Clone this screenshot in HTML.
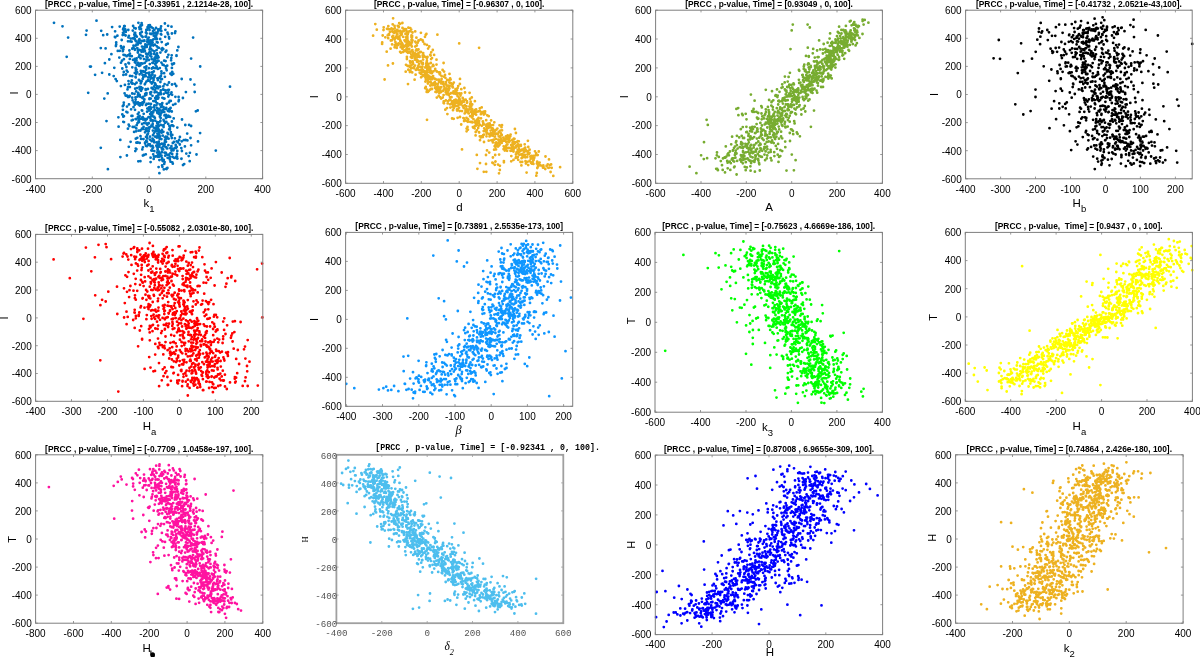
<!DOCTYPE html><html><head><meta charset="utf-8"><style>html,body{margin:0;padding:0;background:#fff;overflow:hidden}svg{display:block;will-change:transform}text{white-space:pre}</style></head><body>
<svg width="1200" height="657" viewBox="0 0 1200 657">
<rect width="1200" height="657" fill="#fff"/>
<path d="M156.5 96.2h0M142.6 37h0M153.1 139.5h0M124.1 31.5h0M165 115.4h0M155.3 100.7h0M140.6 50.4h0M142.2 110.7h0M151.2 92.2h0M162 149.6h0M171.7 55.3h0M159.5 86.6h0M143.1 119.5h0M129.8 55.7h0M148.5 123.1h0M138 102.4h0M165.2 155.7h0M157.2 108.1h0M166.8 137h0M158.8 125.9h0M144 59.1h0M160.4 120.9h0M137.6 96.6h0M141.9 24.8h0M157.6 42.5h0M151.8 68.5h0M128.5 81.1h0M138.7 130.7h0M137.7 142.5h0M171.5 26.7h0M127.9 96.3h0M159.1 144.1h0M174.9 83.9h0M163.6 65h0M167.4 84.9h0M137.8 44.5h0M174.3 157.9h0M194.7 92h0M150.8 98.6h0M169.8 159.4h0M142.5 63.6h0M145.6 46.4h0M153.1 81.9h0M172.6 125.5h0M132.3 48.8h0M129.7 96h0M150.2 92.6h0M150 55.6h0M179.1 140h0M156.8 46.3h0M127.6 71.8h0M155.6 58.5h0M169.9 127.9h0M151.1 54h0M147.2 134.8h0M172.5 148.8h0M139.4 39.2h0M117.8 50.9h0M166 44.8h0M132.6 100.3h0M143.6 126.9h0M159.4 173.2h0M142.5 74.9h0M143.3 77.2h0M123.7 47h0M159.5 122.1h0M155.7 131h0M148.1 80.7h0M162.4 48.2h0M161.3 34.6h0M181.3 148.1h0M178.6 101.3h0M152.3 44h0M129 104.4h0M150.7 78.5h0M163.8 169.4h0M148.5 73h0M134.7 32.8h0M132.4 48.6h0M157 39.1h0M162 79.1h0M136.7 125.2h0M155.4 64.5h0M153.9 133.3h0M139.2 42.7h0M171.4 146.2h0M145 47.4h0M150 136.7h0M152.2 114.4h0M123.3 121.8h0M138.1 62.9h0M152.5 138.7h0M131.1 109.3h0M166 168.8h0M156.9 126.5h0M142.5 102.4h0M162 152.2h0M157.4 78.4h0M166.8 103.8h0M135.4 62.6h0M152.4 74.6h0M166.3 109h0M145 46.7h0M135.7 77.4h0M133.5 45.6h0M146.8 119h0M131.8 80.4h0M187.4 140.4h0M134.2 27.8h0M158.1 126h0M156.6 129h0M172.6 156.9h0M148.2 128.4h0M126.6 56.2h0M171.7 74.9h0M159.3 146.7h0M152.7 112h0M154 107.1h0M166.1 68.4h0M162.3 103.1h0M164.6 84.2h0M158 47.5h0M148.9 60h0M159.1 114h0M138.9 94.7h0M123.3 116.7h0M156.5 142.4h0M143.5 139.1h0M189.1 124.9h0M173.7 118.4h0M168 110.9h0M138.9 79.9h0M175.4 31.4h0M119.8 50.8h0M127.9 55.3h0M134.9 62.3h0M115.6 79.1h0M146.1 36.5h0M149.8 64.1h0M178.6 96.9h0M177.3 150.9h0M167.5 93.2h0M161.6 132.7h0M159 145.1h0M140.3 96.8h0M122.8 51.2h0M139.1 122h0M140.5 55.2h0M160.6 92.5h0M136.4 142.7h0M122.7 35.1h0M154.3 107.6h0M136.3 119.2h0M150.4 46.3h0M154.1 142.3h0M135.2 60.9h0M136.1 131.3h0M149.7 110.1h0M135.8 138.7h0M135.7 45.6h0M141.8 110.3h0M146.6 33.5h0M149.3 74.3h0M90 66.6h0M146.1 89.5h0M157.2 122.2h0M166.2 107.9h0M155.7 32.6h0M156.3 127.6h0M125.6 30.3h0M134.8 59h0M164.3 112.1h0M136.6 82.7h0M166 118h0M169.7 101h0M135.5 101.9h0M169.8 158.4h0M149.4 99.1h0M175 33h0M167.5 132.9h0M139.1 64.3h0M156.9 98.8h0M146.3 140.7h0M141.6 36h0M169.8 159.5h0M153.2 112.4h0M147.8 27.9h0M138.5 121.5h0M116.2 42.4h0M141.6 81.2h0M133 59.8h0M136.5 69.7h0M182 119.5h0M164.2 60.7h0M161.5 155.6h0M129.3 96.8h0M132.4 115.9h0M156 97.7h0M176.7 146.9h0M149.1 127.3h0M149.1 74.7h0M154.9 118.1h0M162.1 50.2h0M88.2 92.8h0M147.4 44.7h0M153.1 67.5h0M161.4 71.5h0M157.2 122.9h0M129.8 58.9h0M146.6 130.9h0M142.9 155.5h0M146.3 29.9h0M154.8 89.7h0M154 53.8h0M132.6 83.5h0M130 75.9h0M184.2 164.1h0M163.5 144.8h0M173.3 73.8h0M153.6 80h0M139.7 142.9h0M156.3 35.2h0M176.7 141.4h0M144.4 99.4h0M135.8 148.6h0M156.8 62.2h0M150.9 126.6h0M165.6 146.8h0M126.9 155.5h0M166 141.8h0M120.3 139.9h0M136.2 91.4h0M163.9 98.5h0M115.1 31.3h0M115.3 37.3h0M139.4 55h0M171.9 67.9h0M169.2 38.6h0M134.9 39.2h0M177.4 158.6h0M170.4 148.2h0M154.8 110h0M167.3 148.4h0M136.2 74.1h0M163.6 125.1h0M169.1 129.3h0M191.1 126h0M175 148h0M109.3 59.5h0M128.5 62.9h0M152 72.3h0M164.3 163.8h0M123.8 102.6h0M144.9 74.9h0M157.7 149.2h0M150.2 106.8h0M162 158h0M176.4 156.7h0M173.4 126.1h0M160.9 110.6h0M134.8 104.8h0M130.8 38.6h0M141.7 118.7h0M162.7 161h0M139.1 49.9h0M159.1 153.7h0M135.3 151.1h0M158.1 31.5h0M159.8 68.1h0M165.1 122.8h0M158.7 142.3h0M157.6 113.2h0M137.8 114.1h0M128.4 37.4h0M133.5 107.2h0M171.5 150.7h0M140.5 26.4h0M109.3 74.5h0M159.7 138.9h0M165.1 140.8h0M152.5 95.8h0M154.3 151.1h0M148 80.1h0M140.7 83.4h0M159.3 156.7h0M144.3 50h0M157.8 55.8h0M171.9 33.5h0M170.4 73.7h0M156.2 62.9h0M153.5 140.5h0M159.4 160.1h0M160.3 154.2h0M161.3 31h0M104.9 63.2h0M148.4 40.2h0M122.3 114.4h0M146.1 53.7h0M181.9 151h0M146.9 141.7h0M118.4 117.3h0M168.4 92.3h0M171.5 92.4h0M156.5 92h0M169.2 111.4h0M138 94.7h0M161.1 26.3h0M175.4 96.8h0M154.9 44.7h0M167.6 157.8h0M169.7 109.4h0M165.5 90.5h0M135.8 70.1h0M171.7 125.3h0M161.9 105h0M147.1 41.7h0M166.7 70.3h0M160.9 76h0M173 148.8h0M157.1 152.5h0M168 134.2h0M145.9 145.8h0M140.8 25.2h0M140.4 161.2h0M126.4 111.8h0M169.9 156.6h0M145.8 67.6h0M164.6 162.1h0M172.2 153.9h0M168.8 154.9h0M138.7 121.2h0M148.2 77.5h0M144.3 46.8h0M144.1 123.1h0M152.9 130.6h0M138.8 40.4h0M136.6 58.3h0M156.9 146.3h0M149.6 52.2h0M177.3 50.4h0M146 136.9h0M154.9 75.6h0M137.3 137.8h0M181.7 141.3h0M145.1 95.4h0M153 89.2h0M168.8 95h0M163.1 89.5h0M134.1 131.9h0M154.4 51.5h0M149.9 127.1h0M153 31.1h0M153.3 101.1h0M163.6 127.1h0M164.4 143.3h0M149 107.5h0M168.1 116h0M123.8 71.9h0M142 89.1h0M150.6 157.7h0M142.3 40.9h0M158 155.1h0M143.7 51.6h0M138.3 50.3h0M136.8 36.7h0M122.3 68.5h0M161.7 147.9h0M155.2 98h0M142.3 104.8h0M137.2 72.4h0M142 117.7h0M172.3 72.2h0M159.2 134.8h0M156.7 110.6h0M145.2 94h0M143.1 96.9h0M148.4 144.2h0M167.5 32.7h0M121 62.7h0M150.1 48.2h0M150.7 108.9h0M138.4 22.8h0M121.5 48h0M101.2 30.8h0M171.8 138h0M139.7 95h0M163.8 108.9h0M169 82.5h0M163.4 131.8h0M184.9 146.4h0M129.9 87.1h0M140.8 87.1h0M160.9 107.2h0M123.4 28.3h0M175.4 103.9h0M143.2 118.1h0M144.9 51h0M136.1 103.6h0M160.4 131.9h0M145 132.3h0M139.2 27.4h0M125.8 31.9h0M164.9 76.8h0M129.4 126.1h0M153.8 71.4h0M158.7 132.1h0M157.4 113h0M131.9 83.6h0M166 115.1h0M165 108.8h0M146 32.6h0M166.8 148.4h0M144.8 84.3h0M172.3 162.3h0M152 150.7h0M166.2 139h0M150 33.6h0M125.5 64.5h0M103.2 35.2h0M162 159.6h0M144.5 67.4h0M168.9 102.4h0M150.5 94h0M139.6 74.3h0M131.5 115.9h0M149.5 98.4h0M146.1 130h0M135 109.8h0M145.3 75.5h0M175.7 145h0M157.4 133.7h0M135.6 99.6h0M155.8 102h0M129.5 54.3h0M123.4 74.9h0M154.8 85.4h0M136.5 44.3h0M172.3 134.9h0M166.2 147.2h0M139.3 105.2h0M164.6 146.3h0M167.8 90.1h0M145.6 89.1h0M145.1 142.5h0M136.8 64.9h0M135 84.2h0M133.8 102.6h0M123.1 29.4h0M151.5 44.5h0M169.9 129.5h0M156.3 145.7h0M156.8 42.1h0M172.8 143h0M172.3 64.5h0M148.5 117.2h0M146.3 119.5h0M154 86.7h0M146.8 46.9h0M167.4 167.9h0M178 142.4h0M140.4 65.3h0M154.3 117h0M137.5 123.2h0M140.4 26.4h0M142.1 124h0M135.6 67.9h0M140.2 33.2h0M140 63.6h0M152.4 62.8h0M158.6 57.3h0M123.5 54.8h0M187.2 133.6h0M113.7 76.1h0M149.5 49.6h0M157 53.3h0M134.1 38h0M139.6 29.1h0M150.6 146.1h0M164 109h0M104.3 98.6h0M128.9 35.8h0M122.9 109.8h0M157.3 130.6h0M181.5 158.7h0M169.8 126.6h0M156.4 54.7h0M166.6 169.1h0M146.8 137.1h0M168.7 116.7h0M168.9 89.8h0M138.8 112.6h0M124 34.5h0M149.9 139.6h0M164.7 90.1h0M165.6 61.1h0M169 37.2h0M133.5 47.6h0M149.7 144.4h0M167.4 57.2h0M150.4 76.8h0M162.1 112.2h0M145.8 154.3h0M153.9 140.4h0M146.4 61.1h0M158.9 151.6h0M145.5 120.6h0M128.7 124.7h0M171.3 58.1h0M153.3 116.5h0M143.9 155h0M166.8 117.2h0M152.7 123.9h0M157.5 58.3h0M148.9 123.3h0M135.5 76.9h0M138.3 92.9h0M150.5 44.6h0M158.6 60.9h0M158.3 111.1h0M159.5 94.1h0M168.3 96.6h0M148.8 37.6h0M170.9 134.5h0M185.9 92.1h0M151.8 83.6h0M150.3 108.4h0M141 82.8h0M132.2 93.5h0M128 97h0M167.2 65.7h0M151.3 112.5h0M139.4 80.5h0M171.1 60.3h0M173.9 142h0M152.8 120.4h0M159.5 29.8h0M140.5 25.5h0M149.3 27.4h0M189.9 152.8h0M161.7 42.1h0M140.3 34.3h0M155.8 39.1h0M165.6 66.3h0M146.1 73.1h0M141.3 63.5h0M176.3 86h0M142.8 56.2h0M132.2 97.7h0M161.4 139.1h0M196.5 154.5h0M155 36.8h0M162.6 64.7h0M130.6 141.8h0M137.8 42.7h0M170.1 116.9h0M142.7 78.9h0M171.8 111.5h0M165.8 136.7h0M162.5 131.8h0M188.7 156.1h0M158.9 152.6h0M157.3 147.5h0M167.2 154.6h0M150.2 42.6h0M127 95.7h0M179.8 144.5h0M154.6 92.3h0M147.9 89h0M160.9 94.2h0M153 135.2h0M170.6 108h0M147.5 39.5h0M163.5 107.2h0M137 88.1h0M141 29h0M164.8 137.3h0M119.3 57.6h0M141.1 90.8h0M147.6 57.3h0M169.1 109.1h0M160.4 82h0M166 115h0M152.4 50.3h0M160.2 39h0M172 63.8h0M147.6 27.2h0M155.5 68h0M156.6 50.1h0M116.2 44.6h0M153.7 127.6h0M151.4 27.1h0M164 121h0M146.5 93.2h0M170.8 132.1h0M137.9 51.1h0M150.5 118.6h0M174 63.5h0M141.1 138.9h0M151.9 120.5h0M150.7 116.6h0M155.3 131.4h0M158 156.7h0M157.9 57.7h0M128.3 30h0M136.3 128.4h0M166.4 138.6h0M135.6 119.1h0M170.5 153.1h0M148.8 68.2h0M142.7 117.2h0M139.5 87h0M144.3 40.5h0M153.3 45.5h0M136.1 41.3h0M140.1 40.6h0M126.7 70.6h0M145.7 89.9h0M138.3 161.3h0M163.2 149.4h0M142.4 88.1h0M178.4 47h0M170.8 100.9h0M162.1 165.5h0M171.1 135.7h0M151.7 59.1h0M145.1 143.5h0M128.8 146.8h0M168.2 123.9h0M153.6 78.2h0M115.9 46h0M167.4 137.6h0M161.3 79.2h0M127.5 89.4h0M163.1 110h0M124.6 93.3h0M142.8 49.1h0M158.8 137.6h0M160.8 90.3h0M165 140.2h0M158.3 95.2h0M155.4 57.5h0M133.1 25.9h0M172.1 94.8h0M148.9 127.5h0M159.4 77.9h0M151.4 107.6h0M157.6 144.2h0M158.6 93.5h0M161.6 49.2h0M165.2 36.8h0M160.8 34.1h0M143.1 103.3h0M161.9 130h0M163.4 146.3h0M139.8 105.6h0M129.4 50.5h0M156.5 125.8h0M137.9 50h0M102.1 72.8h0M156.8 137.6h0M150.7 82.2h0M148.1 53.9h0M125.6 35.5h0M151.6 141.2h0M166.4 44.3h0M135.3 61.1h0M149.2 128.1h0M185.3 125h0M148.5 25.4h0M144 102.1h0M124 122.1h0M151.4 56.7h0M142.9 147.3h0M150.9 104h0M139.1 119.7h0M125.6 95.5h0M172 84.5h0M145.7 76.2h0M164.5 98.6h0M155.8 38.1h0M120.9 46.2h0M145.5 36.7h0M146 105.1h0M161.4 62.6h0M157.4 103.4h0M146.6 123.7h0M172.1 71.9h0M151.8 33.6h0M153.7 61.2h0M142.9 129h0M162.7 135.6h0M123.3 49.4h0M154.1 68.1h0M130.2 41.4h0M160 136.5h0M140.6 43.2h0M154.4 105.5h0M158.2 127h0M150.6 120.6h0M141.9 25.2h0M119.7 26.6h0M136.4 149.2h0M169.3 116.4h0M155.3 61h0M142.3 149.4h0M189.7 161.2h0M154 156.4h0M152.4 40.6h0M157.2 111.7h0M156.1 130.3h0M155.6 56.4h0M131.7 120.4h0M146.4 66.3h0M147.3 108.6h0M152.7 121.3h0M147.1 111.7h0M153.1 147.5h0M153.7 158.9h0M159 47.8h0M131.6 41.7h0M156.3 105.3h0M152.3 77.8h0M142.6 51.1h0M157.2 112.1h0M154.7 57.8h0M137.3 48.1h0M168.6 154.7h0M185.6 140h0M129.9 53.7h0M136.5 60.4h0M147.3 138.3h0M176.5 55.3h0M124.9 55.2h0M152.6 125.8h0M164.5 115.4h0M148.7 144.5h0M149.1 110.5h0M152.5 148.4h0M128 87.2h0M144.7 71.7h0M154.4 77h0M157.5 149.8h0M149.5 80.8h0M157 61.4h0M174.9 138.3h0M128.7 84.1h0M166.4 50.7h0M145.4 129.6h0M114.9 37h0M117.4 35.7h0M156.6 66.7h0M149.2 40.4h0M118.6 126.7h0M200.2 66.5h0M149.5 30h0M162.7 160h0M137.8 52.6h0M160.8 131.1h0M140.6 58.4h0M164.1 73.2h0M151 53.8h0M160 104.5h0M146.6 104h0M121.7 40h0M168.4 145.2h0M147.3 145.7h0M141.8 32h0M144.3 40.9h0M149.9 144.4h0M157.4 33.4h0M132.7 126.9h0M167.8 43.7h0M135.4 40.6h0M176.9 158.4h0M181.4 158.8h0M123.9 116.2h0M132.9 38.4h0M160.4 52.6h0M153.7 110.6h0M146.4 45.7h0M127.9 128.7h0M127.4 112.4h0M165.4 137.7h0M164.9 23.5h0M134.9 49.8h0M138.5 104.6h0M158.7 133.1h0M149.9 25.2h0M159.1 112.6h0M148.7 131.2h0M122.8 106.2h0M168.4 54.8h0M138.9 56.8h0M198 141.4h0M112.1 27.1h0M152.6 72.5h0M157 156.1h0M128 41.3h0M158.2 29.5h0M165.6 51.8h0M155.8 156.5h0M157.3 86.5h0M131.1 82.3h0M134.3 34.7h0M146.3 94.7h0M156.8 146.4h0M153.7 35.7h0M124.2 26.2h0M163.8 93.8h0M177 156.6h0M142 46.6h0M129 63.4h0M107.2 34.5h0M162.4 166.8h0M140.6 103.4h0M155.3 128.7h0M146.9 146.2h0M146.6 59.5h0M150.2 113.9h0M163.8 159.9h0M164.7 144.3h0M150.4 52.2h0M161.5 73.6h0M146.6 137h0M157.8 68.9h0M163.7 146.1h0M140.8 71h0M132.3 76.2h0M183 165h0M151.6 88h0M139.2 65.9h0M147.4 54.4h0M146.5 56.7h0M135.9 35.4h0M126.4 67h0M145.9 32.6h0M148.7 103.7h0M160.1 155.8h0M191.1 145.3h0M132.8 119.9h0M150.6 162.1h0M164.8 142.2h0M160.1 86.7h0M159.9 116.7h0M162.6 125.4h0M114.3 67.8h0M152.1 40.6h0M150.9 40.4h0M160.9 113.7h0M123.9 59.2h0M152.6 42.6h0M176.1 148h0M179.9 137h0M150.9 75.8h0M134.4 126.9h0M157.8 135.6h0M160.4 115.5h0M170.5 161.7h0M178.9 100h0M158 156.8h0M140.5 130.5h0M147.6 134.4h0M160.7 118.1h0M153.2 154.3h0M135.5 97.4h0M134.8 72.9h0M168.5 115.9h0M148.4 42h0M139.5 40.5h0M163.5 119.8h0M172.8 163.7h0M131.8 56.2h0M167.7 133.4h0M159.1 109.2h0M116.8 81.1h0M125.1 29.1h0M155.3 120.7h0M158.1 98.6h0M143 71.2h0M132.3 67.3h0M158.7 131.5h0M120.9 86.1h0M155.6 84.5h0M144.7 62.9h0M160.5 144.3h0M152.5 145.8h0M156 28h0M111.4 54.2h0M132.6 48.2h0M153.4 39.3h0M132.8 30.6h0M197.7 110.5h0M153.4 62.9h0M136 72h0M165.8 92.6h0M146.1 69.6h0M160.7 124.9h0M135 36.1h0M142.4 98.1h0M168.6 138.7h0M165.9 152.9h0M136.3 72.3h0M141.9 128.6h0M154.1 33.3h0M183.8 140.1h0M140 118.9h0M154.3 29.9h0M107.7 93.4h0M123 32.8h0M157.2 56h0M186.3 153.6h0M157.8 134.2h0M159.5 113.1h0M149.5 43.1h0M166.4 121.9h0M134.5 93.8h0M158.2 88.3h0M146.1 123.3h0M141.6 51.8h0M164.7 152.7h0M155.2 136.7h0M134.7 49h0M144 71.8h0M135.2 88.7h0M173.1 104.8h0M173.5 150.3h0M139.5 103.5h0M168.1 25.8h0M190.5 79.5h0M155 83.5h0M135.7 28.5h0M149.5 43h0M152.7 28.2h0M165.4 29.8h0M145.2 83.6h0M143.7 113.8h0M181.7 79h0M171.9 121.5h0M151.1 49h0M151.4 150.4h0M158.5 97.6h0M163.3 49.1h0M162.4 97.8h0M160 76.8h0M161.8 143.7h0M169.4 126h0M135.2 33h0M141.3 72.7h0M145 119.2h0M139.7 89.3h0M176.5 55.9h0M122 60.7h0M149.3 43.7h0M137.9 117.1h0M140.5 136.2h0M149.3 72.7h0M124.9 84.9h0M146.4 81.6h0M190.5 138h0M151.5 125.5h0M154.1 60.1h0M139.6 116h0M154.4 58.9h0M120.4 157.1h0M146.8 29.9h0M156.3 137h0M182.9 98h0M141.6 23.1h0M149.2 128.8h0M146.2 128.5h0M124.7 26.2h0M156.3 37.7h0M171.2 94h0M159.3 152.4h0M157.9 80.2h0M147.3 124.8h0M157.9 124.5h0M151.1 34h0M126 74.5h0M127 106.6h0M177 154h0M123.6 105h0M145.3 44.5h0M147.2 124.4h0M138.2 117.8h0M148 80.5h0M158.7 129.5h0M156.3 88.2h0M105.6 48.4h0M177.3 127.6h0M144.2 100h0M163.3 86.4h0M149.4 107.6h0M148 133.6h0M158.8 141.6h0M194.4 84.6h0M168.1 34.3h0M158.6 167.1h0M147.8 38.6h0M160.6 28.3h0M54 22.8h0M62.5 26.3h0M68.1 37.6h0M66.7 56.8h0M86.6 30.6h0M86 34.8h0M90.9 66.6h0M95.1 74.8h0M96.5 20.7h0M100.8 48.1h0M230 86.7h0M215.8 150.6h0M200.1 133.1h0M195.9 111.3h0M193.1 37.6h0M191.1 58.6h0M107.9 169.2h0M100.8 147.8h0M106.5 121.1h0" stroke="#0072BD" stroke-width="2.8" stroke-linecap="round" fill="none"/>
<rect x="35.5" y="10.2" width="227.1" height="168.5" fill="none" stroke="#7f7f7f" stroke-width="1"/>
<path d="M35.5 178.7v-2.2M35.5 10.2v2.2M92.3 178.7v-2.2M92.3 10.2v2.2M149.1 178.7v-2.2M149.1 10.2v2.2M205.8 178.7v-2.2M205.8 10.2v2.2M262.6 178.7v-2.2M262.6 10.2v2.2M35.5 178.7h2.2M262.6 178.7h-2.2M35.5 150.6h2.2M262.6 150.6h-2.2M35.5 122.5h2.2M262.6 122.5h-2.2M35.5 94.4h2.2M262.6 94.4h-2.2M35.5 66.4h2.2M262.6 66.4h-2.2M35.5 38.3h2.2M262.6 38.3h-2.2M35.5 10.2h2.2M262.6 10.2h-2.2" stroke="#7f7f7f" stroke-width="0.8" fill="none"/>
<g style="font-family:'Liberation Sans', sans-serif;font-size:10px;fill:#000"><text x="35.5" y="192.5" text-anchor="middle">-400</text><text x="92.3" y="192.5" text-anchor="middle">-200</text><text x="149.1" y="192.5" text-anchor="middle">0</text><text x="205.8" y="192.5" text-anchor="middle">200</text><text x="262.6" y="192.5" text-anchor="middle">400</text><text x="31.6" y="182.5" text-anchor="end">-600</text><text x="31.6" y="154.4" text-anchor="end">-400</text><text x="31.6" y="126.3" text-anchor="end">-200</text><text x="31.6" y="98.2" text-anchor="end">0</text><text x="31.6" y="70.2" text-anchor="end">200</text><text x="31.6" y="42.1" text-anchor="end">400</text><text x="31.6" y="14" text-anchor="end">600</text></g>
<text x="149.1" y="6.6" text-anchor="middle" style="font-family:'Liberation Sans', sans-serif;font-weight:bold;font-size:8.4px">[PRCC , p-value, Time] = [-0.33951 , 2.1214e-28, 100].</text>
<path d="M501.5 127.2h0M464.1 121h0M419.4 55.8h0M507.1 150.8h0M446.8 85.7h0M436.5 64.6h0M503.5 140.8h0M518.9 151h0M497.4 128.6h0M430 78.7h0M447.3 92.2h0M509.9 140.7h0M473.6 114h0M445 75h0M476.1 109.4h0M461.3 89.2h0M400.6 32.8h0M432.7 66.2h0M459.7 111h0M517.4 145.1h0M487.2 115.3h0M469.6 92.8h0M389.9 32.1h0M418.4 61.2h0M487.1 124.3h0M395.8 36.6h0M462.5 101.5h0M430.2 69h0M518 152.8h0M522.5 155.9h0M503.7 146.3h0M411.1 45h0M445.4 77.8h0M420.2 52.2h0M460 78.9h0M450.4 107.6h0M440.3 90.5h0M449.4 88.4h0M398 44.2h0M461 101.8h0M423 41.6h0M444.8 88.3h0M417.4 60.2h0M457.5 93.4h0M426.3 65.4h0M481 118.3h0M459.4 98.5h0M476.8 130.3h0M504.5 147.7h0M532.6 162.3h0M427.4 69.3h0M466.8 112.1h0M412 37.2h0M419.6 56.9h0M475.2 110h0M398.8 26.5h0M431.9 83.4h0M420.8 52h0M472.4 111.5h0M482.9 137.1h0M498.2 139.6h0M527.9 140.8h0M408 84.1h0M520.8 145.9h0M538.2 162.8h0M411.6 50.7h0M521.8 154.3h0M454.4 103.2h0M464.4 88h0M431 79.4h0M450.1 97.4h0M412.1 40h0M426.7 67.1h0M448.7 95.1h0M432.2 79.2h0M438.7 95.8h0M412.1 35.9h0M496.3 142.4h0M405.7 71.7h0M456 91.5h0M548.3 167.8h0M483.5 124.3h0M393 35.8h0M427.5 56.9h0M526 162.2h0M466.6 128.6h0M533.5 159.9h0M422.7 55.3h0M521.9 149.6h0M545.5 156.5h0M406.1 30h0M456.3 102.9h0M484.2 128.5h0M549.2 167.6h0M468.6 113.4h0M473.5 119.2h0M428.9 90.8h0M538 166.5h0M496 143.8h0M498.8 136.4h0M461.1 104.4h0M486.8 124.4h0M453.8 82.6h0M485.4 129.4h0M411.2 29.6h0M394.7 39.7h0M533.6 160h0M500.9 133.4h0M458.2 86.1h0M403 52.1h0M524.5 156h0M513.9 147.3h0M459.1 104.5h0M425.9 79.5h0M387.7 35.3h0M393 38.4h0M416.4 57.4h0M517.5 157.6h0M415.2 31.4h0M452.9 87.4h0M492.9 157.5h0M495.8 138.9h0M449.4 82.5h0M481.3 112.1h0M466.9 101.1h0M396.7 47.9h0M410 52.7h0M455.5 89.2h0M415 53.7h0M459 107.7h0M411.1 43h0M448.9 85.7h0M398.7 27.2h0M542.8 166.6h0M415.3 41.7h0M433.6 84.7h0M422.8 75.5h0M518.8 141.3h0M432 89h0M487.9 126.7h0M518.2 159.8h0M546.7 165.6h0M395.4 42.1h0M435.2 69h0M499.6 136.7h0M490.1 133.8h0M448.2 101.1h0M413.9 55.2h0M515.9 154.3h0M393.1 38.2h0M411.5 35.4h0M492.4 129.4h0M443.7 76.6h0M460 117h0M409.9 72.1h0M515.7 157.9h0M459.1 97.9h0M453.5 91.5h0M408.4 69.7h0M435.3 70.2h0M396 31.8h0M474.6 128.3h0M513.2 148.1h0M470.1 109.3h0M438.1 86.3h0M397.1 30h0M413.1 63.8h0M409.1 66h0M397.3 33.3h0M475.7 132h0M503.5 137.6h0M457 109.4h0M493.1 125.1h0M415.6 74.7h0M412.5 32.5h0M506 148.1h0M437 91.1h0M439 81.7h0M463.6 100.1h0M404.5 40.3h0M415 59.7h0M422.5 40.2h0M518.9 148.5h0M491.3 140.3h0M521.6 154.4h0M430.6 55.5h0M402.5 31.6h0M553.3 175.9h0M428.1 48.6h0M411.8 57.9h0M409.4 42.5h0M486.7 133.8h0M432.2 76.8h0M508.7 141.6h0M516.2 156.8h0M421.9 63.5h0M545.3 169h0M436.8 71.5h0M483.7 131.1h0M439.9 97.1h0M407.4 38.8h0M483.9 134.7h0M458.2 101.4h0M478.5 117.9h0M510.5 150.8h0M454.2 100.3h0M496.3 142.7h0M386.7 51.7h0M430 89.7h0M461.2 124.5h0M400.8 33.5h0M463.4 118.1h0M421.8 67.6h0M426.3 71.3h0M506.2 136.7h0M527.5 161.8h0M400.7 47.2h0M407.4 37.3h0M517.7 141.2h0M511.7 147.3h0M461.6 103.3h0M434.8 82.2h0M391.5 28.4h0M383.7 27.3h0M393.1 18.3h0M490.2 133.8h0M429.7 76.6h0M474.9 101.2h0M491 134.8h0M530.4 156.7h0M511.3 148.5h0M486.2 120.2h0M521.2 154.3h0M528.3 147h0M523.7 155.7h0M447 86h0M464.3 99.8h0M494.5 136.6h0M457 94.4h0M458.4 102.7h0M428.1 80.4h0M394 32.3h0M479.1 120.8h0M450.1 78.3h0M486.4 132.5h0M407.3 36.5h0M425.4 77.6h0M511.2 145.1h0M479.1 132.5h0M505.3 147.2h0M517.9 150.7h0M478.2 128.1h0M406.2 50.9h0M467.1 102.5h0M492.8 135.7h0M452.6 104.1h0M473.1 127.6h0M420.9 70.3h0M547.8 164.5h0M479.9 124.8h0M486.8 130.4h0M516.3 145.8h0M428.4 63.9h0M515 143.1h0M478.7 125.8h0M521.6 158.2h0M406 64.8h0M467.7 118.8h0M418.4 65.8h0M513.4 143.7h0M543.5 167h0M471.8 121.9h0M426.9 60.8h0M382.1 43.9h0M463.9 118.3h0M396.9 44.7h0M536.8 172.9h0M440.2 88.6h0M474.8 126.2h0M457.7 109.3h0M500.4 130.6h0M391.7 40.4h0M466.6 120.9h0M394.6 25.9h0M523.9 152h0M471.8 111.8h0M458 105.3h0M425.6 73.5h0M475.5 122.8h0M463.8 101.8h0M525.5 161.2h0M452.1 118.5h0M420.9 61.5h0M517.8 157h0M451.5 97.2h0M516.9 142.1h0M513.5 147.5h0M535 151.3h0M394.6 47.3h0M425.1 67.4h0M471.1 112.1h0M469.4 106.4h0M412.6 61.5h0M433.1 76.1h0M406.8 41.9h0M408.7 45.6h0M443.7 101.5h0M410.4 70.7h0M448.7 89.6h0M478.2 119.8h0M456.1 100.4h0M426.3 63.4h0M449.7 85.8h0M425.4 81.6h0M455.8 93.8h0M416.4 37.7h0M426.9 58.5h0M531.3 155.8h0M417.6 50.3h0M394.9 45.2h0M403.8 45.8h0M491 125.4h0M483.8 114.5h0M497.2 134h0M533.4 163.9h0M448.8 95.2h0M418.5 49.5h0M431.2 52.3h0M441.6 78.9h0M407.9 51.7h0M451.5 83.8h0M496.6 133.6h0M432.8 50h0M476.1 114.7h0M407.7 42.6h0M481.8 125.8h0M496.7 143.9h0M409.9 61.1h0M529.6 161h0M401.4 46.1h0M478.9 121.5h0M412.4 50.1h0M527.3 151.1h0M452.8 84.1h0M429.7 72.3h0M519 152.1h0M425.2 88.2h0M512.7 145h0M491.6 128.2h0M466.5 117.8h0M434.2 83.1h0M512.3 150.7h0M507.8 137.4h0M416.5 49.4h0M433.5 65.8h0M447.7 103.4h0M515.9 133h0M423.6 75.5h0M452.7 106.5h0M477 119.6h0M401.8 42.9h0M510.6 134.7h0M409.2 52h0M430.7 82.2h0M446 82.1h0M440.1 72.9h0M416.8 68.5h0M397.1 33.9h0M399.5 36.3h0M490.8 133.2h0M510.4 135.2h0M417.7 42.7h0M506 136.3h0M509 137h0M413.1 52.2h0M408.2 32.8h0M407.8 46h0M435.1 88h0M491.1 120.4h0M388.2 38.2h0M417 57.3h0M428.1 77.9h0M520.5 162h0M500.4 141.4h0M530.8 158.6h0M403.4 30.9h0M493.9 139.7h0M508.9 140.3h0M448.7 88.1h0M518.3 146.4h0M428.1 91.8h0M395.2 30.8h0M407 51.9h0M505.4 139h0M393.6 32.4h0M462 111.1h0M435.5 91.9h0M472.9 127.1h0M390.1 29.4h0M488.1 123.8h0M410.3 62.7h0M384.6 79.5h0M422.8 63h0M516.5 152.3h0M459.2 99.1h0M403.8 31h0M439.5 88.5h0M489.2 134.1h0M531.9 163.7h0M478.2 123.1h0M412.8 62.6h0M543 167.7h0M550.1 164.9h0M425.4 76.2h0M398.1 38.7h0M452.8 103.7h0M441.3 81.1h0M493.1 129.7h0M507.7 135.4h0M457.6 96.2h0M493.4 133.6h0M461.8 102.5h0M499.1 154.6h0M402.5 27.9h0M445.8 90.1h0M549 159.4h0M520.9 145h0M401.7 47.6h0M472.3 122.4h0M495.7 130.2h0M521.4 165.4h0M421 73.9h0M441.1 83.4h0M411.9 42.6h0M506.4 142.2h0M430.8 63h0M417 61.7h0M408.2 44.6h0M419 63.9h0M447.4 114.1h0M533.1 160.6h0M420.7 70.2h0M539.3 165h0M511.2 161.3h0M455.7 99.6h0M508.9 148h0M451.9 102.5h0M406.8 42.9h0M518.3 153.5h0M423.7 55.4h0M408.4 27.7h0M527.9 152.1h0M475.3 110.8h0M429.4 70.5h0M426.9 71h0M479 132.2h0M411.3 54.5h0M480.9 114.2h0M509.1 140.5h0M434.7 85.3h0M435.1 79h0M429.3 46.5h0M421.8 67.6h0M536.1 153.2h0M436.1 89.1h0M490.1 126.5h0M428.7 66.5h0M540.6 165.4h0M427.2 68.8h0M423.1 59.6h0M526.6 172.6h0M543.3 165.5h0M425 36.8h0M409.6 42.3h0M514.7 142.1h0M392.3 36.8h0M456.9 102.3h0M450.8 93.1h0M454.2 101.5h0M489.7 123.4h0M415.9 50.6h0M425.9 75h0M406.3 30.7h0M446.2 84.4h0M397.4 34.3h0M454 93.5h0M461.3 102.5h0M446 88.6h0M525.9 163.5h0M433.1 65h0M523.5 150.6h0M401.4 34.8h0M537.2 161.7h0M427.5 68.8h0M414.7 58.2h0M431 88.8h0M531 158.6h0M407.9 52.8h0M476.6 125h0M464.8 120.1h0M429.6 76.6h0M408.5 31.6h0M520.4 151h0M463.4 107.6h0M427 74.3h0M485.5 131.3h0M373.1 35.7h0M457.6 88.1h0M522.5 157.6h0M498 146.5h0M527.5 154.5h0M459.6 102.1h0M400.8 41.4h0M504.8 150.5h0M492.9 142.4h0M510.3 136.3h0M445.7 92.3h0M454.7 105.5h0M488.7 116.2h0M513.5 150.9h0M398.5 43.4h0M460.1 100h0M406.7 38.1h0M551.1 164.4h0M443.6 103h0M478.8 120.9h0M392.1 44.4h0M430.7 70.8h0M439.3 91.2h0M501.7 142.9h0M417.6 68.7h0M420.7 39.5h0M432 58.1h0M398.5 31h0M438.8 87.3h0M487.4 133.3h0M497.8 134.1h0M398.4 44.9h0M479.1 47.8h0M420.5 67h0M430.2 54.8h0M459.9 103.4h0M400.1 51.8h0M407.6 65.9h0M486.1 131.7h0M432.4 85.2h0M424.6 71.3h0M495.6 142.9h0M420.9 32.8h0M434.1 54.9h0M494.7 146.2h0M493 130.8h0M551.7 167.8h0M394.7 28.2h0M494.5 136.6h0M423.2 53.1h0M443.3 84.2h0M528.2 165.1h0M509.5 138h0M474.3 127.5h0M442.6 70h0M457.1 110.6h0M484 142h0M401.8 34.1h0M459.2 93.4h0M532.3 157h0M400.3 30.8h0M413.9 66.9h0M470.5 106.8h0M495.4 147h0M430.3 67.7h0M505.4 149.7h0M392.8 29.4h0M411.2 68.1h0M422.8 76.1h0M431.1 59.1h0M397 45.5h0M462.9 106.2h0M404.3 51.2h0M523.7 148.9h0M409.4 66.6h0M413.3 53.5h0M512.6 142.4h0M538.8 151.5h0M387 28.8h0M395.2 38.2h0M527.2 157.1h0M450.8 83.1h0M486.5 136.3h0M492.9 128.7h0M394.3 32.9h0M413.7 68.2h0M388 65.4h0M487.2 128.7h0M421 52.1h0M431.1 77.3h0M453.7 118.8h0M455.4 106h0M499.5 125.3h0M445.7 84h0M501.1 138.3h0M479.8 111h0M400.9 52.7h0M409.9 65.9h0M459.9 83.9h0M528.8 154.2h0M407.6 48.9h0M421.1 77.3h0M382.2 42.5h0M411.5 40h0M382.7 35.5h0M426.7 91.9h0M415.4 57h0M537.7 155.1h0M531 162.4h0M417.9 55.3h0M426.3 75.5h0M406 37.5h0M467.5 127h0M471.8 97.4h0M406.9 56.9h0M442.4 83.6h0M390.6 48.7h0M483.5 111.9h0M411.8 46.5h0M424.5 44h0M401.5 45.8h0M471.2 106.6h0M406.3 46.5h0M475.4 121.2h0M452.4 86.8h0M388.3 26.2h0M433.3 71.4h0M465 92.5h0M485 113.6h0M457.8 93.6h0M458 100.3h0M415.9 69.9h0M461.3 93.5h0M470.3 121.9h0M519.8 145.4h0M392.7 24.3h0M432.3 77.2h0M500.5 139.6h0M483.2 122.8h0M418.1 67h0M483.1 124.6h0M400.3 41.3h0M452.2 93h0M431 73.1h0M429.7 70.5h0M493.3 139.8h0M406.7 39.2h0M416.9 57.4h0M513.3 144.7h0M441.1 87.2h0M436.7 92.1h0M482.9 121.3h0M468.2 119.6h0M490.6 130.6h0M414.6 79.7h0M464.8 105.2h0M525.2 147.6h0M475.6 135.4h0M521.8 150.1h0M419.7 72.8h0M452.4 85.9h0M474.3 113h0M441.1 98.6h0M434.7 82.8h0M479.8 136.3h0M525 157.2h0M405.5 34h0M507.7 139.3h0M494.9 136.4h0M423 70h0M397.7 25.8h0M513.3 151.4h0M468.3 110.1h0M415.9 42.6h0M520.4 150.4h0M501.8 135h0M428.8 82.1h0M411.4 56.6h0M533.6 159.2h0M481.7 107.4h0M449.5 86.4h0M470 98.9h0M443.9 89.5h0M410.2 31.2h0M383.5 30h0M500.4 136h0M467.9 129.7h0M478.4 111.4h0M539.6 162.6h0M518.3 144.4h0M448.6 90.6h0M397 34.7h0M489.6 136.4h0M494 133.5h0M448.9 79.9h0M486.9 125.1h0M531.1 162.9h0M519.6 154.8h0M404.9 50.4h0M513.6 149.2h0M427.1 72.4h0M456.9 106.1h0M412.5 51.8h0M425.8 86.9h0M513.9 138.7h0M503.7 139.9h0M502 130.3h0M495.4 133.8h0M485.5 131.2h0M477.1 121h0M436.8 79.7h0M443.6 95.1h0M525.3 157.4h0M485.1 111.5h0M411.4 37.1h0M400.1 40h0M494.6 131.5h0M506.3 148h0M514.9 129h0M499.6 144.7h0M487.8 123.8h0M403.1 36.8h0M406 41.5h0M454.6 106.6h0M446.5 94.2h0M418.6 69.9h0M408.3 69.8h0M428.3 68.2h0M443.6 63h0M429 76.4h0M525.6 149.8h0M433.5 78.1h0M421.6 72.5h0M525.2 147.7h0M506.2 139.1h0M438.8 72.4h0M472.7 116h0M415.2 53.3h0M475 126h0M430.8 77.8h0M450.6 79.6h0M496 149.4h0M484.1 124.4h0M482.1 112.5h0M494.3 122.3h0M529.5 152.9h0M500.5 140.7h0M470.2 104h0M512.3 140h0M426.7 71.1h0M479.8 108.3h0M464.7 113.4h0M480 140.2h0M414.9 54.7h0M538 165.1h0M392.3 31.4h0M439.6 89.5h0M388.4 29.2h0M426.9 89.7h0M470.7 103.5h0M477.4 121.4h0M425.7 34.8h0M455.9 100.7h0M470.7 106.4h0M495.5 144.9h0M513.6 141.8h0M453.7 108.2h0M469.8 109h0M425.1 56.8h0M533.4 156h0M447 108.1h0M506.8 148h0M490.4 126.6h0M459.9 93.8h0M418.5 41.1h0M519.1 151.4h0M501.6 140.5h0M444.1 71.6h0M441 92h0M525.7 151.2h0M425 72h0M388.8 34.1h0M411.5 65.1h0M400.1 23.8h0M423 63.9h0M489 127.5h0M413 56.2h0M436.5 92.1h0M515.8 147.6h0M470.1 116.2h0M390.8 40.5h0M425.4 73.7h0M483.4 111.9h0M415 65.6h0M439.8 72.5h0M507.4 144.4h0M463.2 101h0M402.5 48.9h0M504.7 149.3h0M438.9 79.6h0M513.5 151.6h0M476.6 121.6h0M415.1 59h0M489.5 124.7h0M418.7 56.6h0M431.9 73.2h0M430.3 85.5h0M488.7 140.7h0M454.2 106.6h0M412.5 40.5h0M443.2 82.1h0M534.3 157.8h0M452.7 101.3h0M442.7 97.5h0M465.7 99.7h0M468.3 110.9h0M418.4 53.2h0M428 82.2h0M401 44.1h0M403.7 28.8h0M415.2 46.6h0M410.4 61.6h0M538.5 163.1h0M536.3 175.7h0M508.3 137.1h0M453.9 93.1h0M502 125.2h0M529.6 149.7h0M397.3 37.5h0M466.4 109h0M487.3 133h0M447.7 92h0M402.4 23h0M422.4 66.6h0M405.7 40.8h0M496.7 144.8h0M429.2 68.3h0M477.6 122.5h0M474.6 113.3h0M462.7 97.9h0M463.8 108.1h0M422.8 56.9h0M476.2 125.5h0M466.9 102.8h0M465.5 110.2h0M426.4 76.3h0M443 90.9h0M522.2 161.9h0M410.8 57.1h0M428.6 77.1h0M524.9 154.9h0M447.9 94.1h0M397.7 37.9h0M406 45h0M445.3 109.7h0M492.8 133.3h0M405.7 33.6h0M426.7 61.9h0M439.7 74.3h0M465.5 111.8h0M409.2 48.8h0M486.6 132.5h0M406.2 49.5h0M416.8 54.4h0M457 90.3h0M457.6 117.8h0M423.2 72.2h0M467.5 109.5h0M450.1 104.3h0M486.3 126.3h0M392.9 63.5h0M506.3 145.5h0M436.8 97.6h0M460.5 102.9h0M392.9 32.1h0M533 156.7h0M439.1 88.1h0M493.2 140.2h0M399.5 38h0M517.7 150h0M400.5 33.7h0M428.5 75.6h0M491.6 135.4h0M468.7 113.4h0M488.6 125.3h0M449.4 100h0M418.5 54.9h0M443.8 101.4h0M407.7 32.1h0M407.3 39.6h0M498.7 140.3h0M498.9 143h0M412.2 72.4h0M479 123.1h0M486.3 130.9h0M389.1 34.9h0M436.6 87.2h0M486.7 125.6h0M447.7 92h0M450.4 93.6h0M403.7 47.1h0M472.2 109.2h0M447.8 93.7h0M514.2 143.7h0M426.9 44.9h0M385.3 37.3h0M537.3 168h0M415.4 55.7h0M393.3 32.1h0M416.8 45.5h0M408.7 51.3h0M514.5 138.8h0M407.7 34.4h0M471.9 112.6h0M405.1 41.3h0M423.4 56.3h0M447.9 89.3h0M410.3 28.1h0M399.2 23.2h0M476.7 111.8h0M472.2 113h0M408.1 40.9h0M444 103.3h0M405.3 41.1h0M493.3 131.7h0M466.6 131.3h0M453 110.2h0M474.7 122.3h0M460.7 102.8h0M481.3 136.4h0M511.5 145h0M474.8 110.4h0M500.1 140.5h0M478.3 120.8h0M466.1 106.4h0M397.4 37.5h0M470.8 109.5h0M441.7 83.3h0M396.9 45.4h0M466.5 106.3h0M488.4 124.6h0M427.9 83.6h0M423.7 56.2h0M486.6 131h0M411.5 68.1h0M445.9 100.5h0M439.3 93.1h0M442.8 83.5h0M450.4 99.9h0M499.3 140.8h0M483.2 135.1h0M536.9 163.6h0M395.8 43.6h0M431.4 83.3h0M406.2 33.7h0M482.8 121.6h0M438 88.9h0M446 92.1h0M509.1 142h0M437.9 83.8h0M455.7 90.3h0M472.2 104.5h0M472 117.4h0M499 145.6h0M522.3 154.2h0M447.2 79.9h0M506.5 136.4h0M535.6 155.3h0M409.2 31.3h0M402.4 43.9h0M472.1 114.1h0M460.5 95.6h0M505 140.7h0M405.9 29.2h0M467.9 121.8h0M406.9 59h0M436.5 59.7h0M546.6 166.1h0M550.6 172h0M470.7 101.7h0M560.1 167.2h0M426.4 34h0M375.3 24.1h0M444 86.4h0M496.5 129.6h0M480.9 137.4h0M511.3 156.1h0M436.6 84h0M524.7 144.3h0M498.8 131.9h0M449.5 73.9h0M409.5 43.6h0M441.4 75.8h0M418.5 40.3h0M499.8 170h0M494.1 149.7h0M499.9 165.8h0M495.5 161.6h0M486 164h0M503.6 149.2h0M486 155h0M513.5 159.9h0M493 163.1h0M486.3 171.8h0M492.4 162.7h0M494.8 164.8h0M495.4 161.6h0M499 173.3h0M489.2 152.6h0M476.8 154.9h0M487 150.4h0M498 164.6h0M503.9 161.1h0M477.4 168.8h0M495.2 155h0M503.9 162.3h0M376.8 29.7h0M437.4 34.7h0M459.2 43.4h0M427 119.8h0M462 149.4h0M480 163.1h0M483.8 171.8h0" stroke="#EDB120" stroke-width="2.8" stroke-linecap="round" fill="none"/>
<rect x="345.6" y="10.2" width="227.2" height="173.1" fill="none" stroke="#7f7f7f" stroke-width="1"/>
<path d="M345.6 183.3v-2.2M345.6 10.2v2.2M383.5 183.3v-2.2M383.5 10.2v2.2M421.3 183.3v-2.2M421.3 10.2v2.2M459.2 183.3v-2.2M459.2 10.2v2.2M497.1 183.3v-2.2M497.1 10.2v2.2M534.9 183.3v-2.2M534.9 10.2v2.2M572.8 183.3v-2.2M572.8 10.2v2.2M345.6 183.3h2.2M572.8 183.3h-2.2M345.6 154.5h2.2M572.8 154.5h-2.2M345.6 125.6h2.2M572.8 125.6h-2.2M345.6 96.8h2.2M572.8 96.8h-2.2M345.6 67.9h2.2M572.8 67.9h-2.2M345.6 39h2.2M572.8 39h-2.2M345.6 10.2h2.2M572.8 10.2h-2.2" stroke="#7f7f7f" stroke-width="0.8" fill="none"/>
<g style="font-family:'Liberation Sans', sans-serif;font-size:10px;fill:#000"><text x="345.6" y="197.1" text-anchor="middle">-600</text><text x="383.5" y="197.1" text-anchor="middle">-400</text><text x="421.3" y="197.1" text-anchor="middle">-200</text><text x="459.2" y="197.1" text-anchor="middle">0</text><text x="497.1" y="197.1" text-anchor="middle">200</text><text x="534.9" y="197.1" text-anchor="middle">400</text><text x="572.8" y="197.1" text-anchor="middle">600</text><text x="341.7" y="187.1" text-anchor="end">-600</text><text x="341.7" y="158.3" text-anchor="end">-400</text><text x="341.7" y="129.4" text-anchor="end">-200</text><text x="341.7" y="100.5" text-anchor="end">0</text><text x="341.7" y="71.7" text-anchor="end">200</text><text x="341.7" y="42.8" text-anchor="end">400</text><text x="341.7" y="14" text-anchor="end">600</text></g>
<text x="459.2" y="6.6" text-anchor="middle" style="font-family:'Liberation Sans', sans-serif;font-weight:bold;font-size:8.4px">[PRCC , p-value, Time] = [-0.96307 , 0, 100].</text>
<path d="M728.3 153.3h0M776.4 136.7h0M828.3 56.3h0M803.8 81.9h0M757.8 154h0M787.5 110.2h0M798.4 90h0M753.8 145.5h0M814.9 65.8h0M727.6 154.3h0M794.4 108.6h0M813.5 89.6h0M792.1 105.1h0M803.1 80.1h0M818.3 69.7h0M849.2 33.6h0M753 129.1h0M829.5 75.4h0M819.7 66.4h0M766.8 135.2h0M750.8 152.5h0M841.5 33.5h0M794.6 123.4h0M769.5 118.9h0M843.3 37.2h0M811 83.3h0M769.1 114h0M826.8 62.9h0M731.8 159.4h0M823.7 71.5h0M774.5 119.2h0M722 165.2h0M829.3 68.2h0M851.4 33.2h0M741.2 142.1h0M816.8 78.8h0M773.9 125.6h0M835.4 67.6h0M803.8 66.4h0M773.1 135.2h0M839.5 47.4h0M815.2 68.5h0M805.5 70.6h0M822.9 53.5h0M793 104.9h0M818.6 63h0M825.4 48.9h0M753.7 147.6h0M836 49h0M783.4 111.1h0M786.7 96.5h0M748.1 151.8h0M832.4 65.6h0M769 124h0M843.1 44.6h0M778.7 126.6h0M805.6 91.4h0M771 121h0M812.8 82h0M745.4 143.8h0M751.2 137.9h0M829.6 60.5h0M831.8 63.5h0M787.2 87h0M856.8 30.9h0M789.8 133h0M855.6 45.4h0M758.3 141.5h0M857.4 32.3h0M806.2 79.8h0M808.7 78.8h0M857 30.7h0M837.6 54.7h0M834.3 60.8h0M746.8 167.4h0M767.4 123h0M752.6 157.4h0M769.6 133.9h0M781.1 131.7h0M840.3 50.6h0M760.6 156.6h0M789.7 121.7h0M788.2 95.6h0M833.6 53.6h0M857.8 26h0M824.1 66.4h0M751.1 131h0M812.2 88.7h0M826 63.5h0M732.4 158.5h0M830.8 75.6h0M762.3 116.4h0M805.9 87.1h0M803.8 68.9h0M803.4 77.4h0M797.3 100.5h0M801.1 85.8h0M761.2 134.1h0M785.7 90.7h0M741.6 144.6h0M799.1 106.4h0M798.4 94.8h0M827.2 60.5h0M774.8 111.8h0M736.6 174.5h0M800.5 92.8h0M754.1 137.1h0M832 67h0M754 111.9h0M738.2 108.1h0M845.8 38.6h0M767.9 106.9h0M779.7 113.4h0M769.7 116.3h0M799.4 97.6h0M755.8 155.9h0M808.6 84.4h0M852.6 39.3h0M811.7 91h0M833.9 59h0M855 36.8h0M844.4 46.4h0M828 57.3h0M828.5 52.1h0M829.7 51h0M774 127.3h0M775.4 95.8h0M770.8 126h0M750.5 136.4h0M806.9 80.4h0M776.2 120.6h0M797 89.5h0M801.2 91.3h0M717 152.5h0M787.6 109.3h0M788.9 110.1h0M810.9 67.1h0M768.5 152.6h0M751.5 148.9h0M801.6 92h0M778.3 101.1h0M808.5 77h0M786.2 114.2h0M761.8 134.9h0M844.9 32.6h0M773.8 133.2h0M770.7 151.9h0M769.8 131.8h0M789.7 115.8h0M757 131h0M808.8 85.9h0M854.4 30.4h0M759 145.3h0M814 110.6h0M818 78.4h0M841.9 41.3h0M853.4 23.7h0M734.9 146.6h0M797.3 98.4h0M847.3 45.2h0M734.6 166.6h0M793.5 83.5h0M741.1 147.6h0M831 59.5h0M846.6 33.3h0M816.5 90.6h0M758.2 159.7h0M742.8 163.3h0M758.4 118.6h0M856.9 43.2h0M785.5 127.4h0M827.7 66.1h0M788 108.7h0M770.5 127.3h0M820.5 67.2h0M791.9 129.7h0M779.4 117.4h0M808.8 56.8h0M769.1 100h0M807.8 47.7h0M798 101.4h0M767 146.7h0M809.5 99.4h0M847.4 46.7h0M793.4 92.7h0M851.4 37.2h0M759.8 170.5h0M791.1 112.2h0M829.5 56.7h0M828.6 67.9h0M806.7 90.4h0M831.3 69.6h0M844.1 42.9h0M802.7 74.9h0M796.4 92h0M803.7 86.8h0M818.1 67.7h0M767.9 121.8h0M824.7 70.3h0M823.9 71h0M838.7 59.9h0M799.6 105.1h0M758.1 158.9h0M777 89.4h0M845 46.5h0M815.3 75.6h0M805.8 77.8h0M772.9 109.6h0M764 118.4h0M821 62h0M741.2 161.7h0M833.6 48.6h0M846.6 42.9h0M830.1 33.4h0M754.4 144.9h0M743 151.2h0M837.6 43.4h0M795.6 109.6h0M765.4 131.5h0M779.9 120.4h0M811.7 79.3h0M764.7 148.1h0M797.8 100.6h0M817.5 73.5h0M816.7 61.2h0M759 163h0M847.2 44.4h0M794.2 100h0M789.7 106.5h0M814.5 80.1h0M773.8 122.2h0M823.7 44h0M760.8 135.8h0M810.6 85.5h0M748.8 142.4h0M810 75.4h0M859.4 37.9h0M850.8 39.2h0M748.8 149.6h0M812.2 77.1h0M827.6 42.7h0M741.7 135.8h0M774.5 116.4h0M833.9 64.9h0M818.6 57.1h0M785.5 100.8h0M830 77.1h0M825.8 70.2h0M777.6 121.2h0M823.5 78.9h0M805 87.2h0M820.6 69.3h0M795.2 90.4h0M784.7 123.8h0M781.7 101.2h0M852.8 44.1h0M731.2 144.3h0M745.1 146.4h0M795.6 160.2h0M823 49.6h0M852.3 37.4h0M746.9 131.9h0M761.6 129.7h0M746.2 144.2h0M787.6 87.2h0M797.3 101.9h0M849.1 50.8h0M774.5 134.5h0M848.5 49.9h0M797.3 91.1h0M845.2 53.2h0M826.7 55.6h0M857.8 35.4h0M792.1 96.2h0M819.5 70.3h0M811.1 82.9h0M766.7 142h0M795 98.1h0M843.3 38.5h0M845.5 40.3h0M754.5 161.1h0M821.6 76.4h0M774 113.6h0M748.9 148.4h0M760.4 148.2h0M817.1 50.5h0M851.5 40.8h0M793.9 98h0M782.2 110.3h0M775.9 95.1h0M827.8 50.1h0M822.6 59.8h0M737.1 160.9h0M744.1 138h0M839.7 50.9h0M788.3 106.2h0M820.2 68.4h0M814.2 61.6h0M823.4 80.6h0M830 57h0M812.5 85.2h0M750.5 137.3h0M756.3 143.2h0M857.8 27.2h0M745.7 170.2h0M829.6 67h0M843.2 42.1h0M797.6 133.9h0M718.8 156.9h0M780.1 107.5h0M792 112.1h0M794.1 95h0M773.4 114.7h0M841.4 29.9h0M767.2 155.5h0M819.1 40.4h0M755.5 157.5h0M848.7 37.9h0M782 121.6h0M839.2 59.5h0M730.3 169.9h0M776.8 108.2h0M805.4 69.9h0M789.9 72.8h0M842.5 50.8h0M744.3 152.7h0M761.5 113.5h0M803.5 81.2h0M749.5 154.3h0M837.9 45h0M787.3 104.5h0M752.3 126.9h0M773.8 137.2h0M813.7 73h0M707.1 158.2h0M768.4 137.2h0M764.7 124.4h0M750.3 128.1h0M831.3 69h0M798.9 79.8h0M840.2 36h0M808.4 63.4h0M770.1 129.2h0M768.6 120.9h0M773.7 143.1h0M779.2 129.3h0M801 85.4h0M826.6 62.9h0M781.4 118.9h0M766.9 118.9h0M833.1 52h0M864.7 19.9h0M755.3 155.5h0M725.3 157.7h0M807.8 64.6h0M787.7 100.2h0M773.3 100.3h0M808.8 78.3h0M833.3 65.3h0M729.7 161.7h0M844.5 31.3h0M854 28.3h0M756.4 111.8h0M784.6 97.6h0M772.1 131.1h0M800.4 82.6h0M748.4 135.9h0M812 88.9h0M847.5 41.5h0M795 96.5h0M840.9 48.1h0M742.9 148h0M835.7 41.7h0M750.2 147.6h0M796.8 132.5h0M816.4 65.7h0M761.9 125.5h0M751.1 149.9h0M747.6 158.5h0M808.8 56.2h0M727.6 162.7h0M770.7 158.1h0M838.3 38.6h0M826.7 58.4h0M781.8 124.8h0M781.1 136.5h0M833.5 47.3h0M843.1 55h0M811.9 78h0M812.5 92.9h0M804.8 91.1h0M853.8 24.7h0M798.6 99.9h0M759.4 151.7h0M735.4 157.7h0M823 86.9h0M825.3 61.7h0M821.8 80h0M822.4 63.9h0M740.8 129.2h0M742.1 114h0M763.5 129.8h0M785.3 115.6h0M793.2 134.2h0M836.8 52h0M751.1 144.8h0M746.3 132.2h0M823 66.7h0M791 104.7h0M746.5 119.3h0M848.6 34.8h0M854.3 38.3h0M790 141h0M742.6 143.7h0M798.9 93h0M804.8 87.8h0M757.8 118.9h0M812.8 72.5h0M813.4 70.5h0M840.3 51.1h0M770.7 129.7h0M825.5 76.8h0M740 159.7h0M726.4 156.6h0M750.6 170.7h0M760.6 144.5h0M821.1 61.9h0M787.9 120.1h0M790.7 95.4h0M796.6 103.7h0M741 144h0M748.6 160.1h0M766.8 147.1h0M837.6 49.4h0M770 126.6h0M766 111.9h0M757.2 128.3h0M828.1 62.2h0M815 66.8h0M753.6 109h0M806.7 96.1h0M781.3 114.6h0M781.5 87.8h0M808.5 76h0M818 85.7h0M829.6 38.6h0M847.5 33.6h0M755.4 159.1h0M752.4 111.8h0M754.4 161.9h0M764.6 115.3h0M830.5 57.6h0M816.2 75.4h0M806.8 85.4h0M751.6 151.9h0M838.6 48.6h0M820.3 80.7h0M760.9 128.5h0M830.3 53.6h0M740.6 159.2h0M747.1 147.9h0M825.4 52.3h0M715.5 158.3h0M736.3 141.2h0M792 101.8h0M812.8 73h0M808.6 80.6h0M786.5 170.6h0M777 132h0M816.3 72.7h0M760.4 122.9h0M777 148.8h0M727.7 168.3h0M782.5 125.9h0M852.6 33.9h0M766.8 158.4h0M794 90.9h0M855.4 32.2h0M810.7 66h0M766.2 122.9h0M817.9 82.9h0M761.2 149h0M771.5 102.2h0M773.3 128.7h0M835.1 42.8h0M836.5 50.2h0M824.4 59h0M780.1 109h0M831.3 52.5h0M858.9 26.2h0M777.8 119.2h0M790 96.3h0M760.7 149.6h0M729.9 151.5h0M829 60.2h0M779.1 156.9h0M784.7 82.4h0M750.5 156.5h0M799.3 70.8h0M820.5 62h0M832.7 43.2h0M782.2 120.3h0M786.5 113.9h0M781.9 115h0M834.5 60.1h0M806 55.9h0M759.2 155.8h0M772.9 123.8h0M746 152.3h0M756.9 138.6h0M822.4 60.2h0M856.6 33h0M854.3 22.1h0M716.8 155.3h0M779.3 112.5h0M840.2 41.7h0M777.7 95.7h0M795.2 113.5h0M817.6 57.1h0M848.5 36.1h0M785.3 147.2h0M786.6 92.3h0M755.9 149.6h0M772.2 141.3h0M811 92.2h0M792.9 130.9h0M820.2 49.4h0M780.5 118.2h0M750.5 145.6h0M814.1 73.3h0M752 131.6h0M720.8 161.1h0M850.7 20.8h0M768.3 137.7h0M727.2 161h0M782 101.2h0M730.8 163.2h0M829 51.9h0M703.8 159.1h0M764.5 154.6h0M853.1 34.4h0M775.6 95.4h0M845.8 35.5h0M836.6 40.5h0M831.9 59.9h0M743.4 158.5h0M818.9 76.5h0M752 151.7h0M717.2 169h0M813.2 48.9h0M780.6 116.1h0M815.9 61.3h0M792.3 87.5h0M825.5 58.4h0M804.2 78.1h0M845.5 30.3h0M792 99.4h0M842.2 48.2h0M832.4 51h0M811.4 81.3h0M804.8 90.2h0M804.8 106h0M823.3 73h0M766.9 135.4h0M768.6 110.1h0M799.2 83h0M767.9 116.4h0M762.7 130.6h0M754.2 152h0M842.3 51.9h0M843.2 47.8h0M833.9 55.7h0M823.2 66h0M814.5 88.6h0M734.9 154.9h0M829.8 45.9h0M804.9 99h0M813.9 61.3h0M768.7 141.5h0M832.1 63.1h0M785.2 141.6h0M855.1 36.5h0M809.4 69.5h0M801.2 90.6h0M823.7 68.6h0M770.8 137.4h0M785.7 94.3h0M777.7 154.7h0M776.8 133.6h0M750.1 127.6h0M750.2 137.1h0M736.4 108.9h0M774.4 156.1h0M743.4 159.9h0M765.8 123.7h0M849.8 21.5h0M814.8 57.6h0M795.4 99.5h0M755.5 133.1h0M743.1 152.3h0M752.1 111.1h0M828.3 78.6h0M829.4 54.7h0M771.3 105.6h0M839.9 42.3h0M838 45.9h0M836.2 50.2h0M771.5 116.7h0M772.8 107.1h0M747.2 146.2h0M804.8 89.3h0M716.2 168.8h0M808.2 100.7h0M778.1 143.9h0M771.6 101.7h0M747.6 144.1h0M754.9 171.7h0M782.2 108.3h0M801.2 109.6h0M765.8 89.8h0M728.9 155.3h0M789.3 95.9h0M775 122.7h0M733 150.1h0M790.8 104.5h0M808.9 72.2h0M773.9 127.7h0M806.3 75h0M833 55.9h0M745.5 158.9h0M757.5 129.3h0M775.2 139h0M801.9 87.2h0M803.9 100.2h0M793.7 91.9h0M780.3 156.1h0M787.7 126.6h0M739.7 147.1h0M828.7 62.1h0M816 78.1h0M750.8 128.8h0M844.2 47.7h0M765 144.1h0M725 172.4h0M777.5 115.6h0M826.9 69.3h0M848.2 33.9h0M793.3 91.8h0M782.2 151.1h0M804.1 80.9h0M750.1 160.9h0M851.4 41.5h0M783.2 118.5h0M725.8 146.4h0M746.7 146.2h0M836.8 49.8h0M837.8 32h0M767.1 138.6h0M862.6 19.7h0M844.5 42.5h0M784.8 111h0M767.4 149.2h0M770.6 149.8h0M777.4 97.1h0M799.9 136.3h0M750.1 139.4h0M775.7 129.3h0M835.6 40h0M734.1 167.3h0M837.7 40.3h0M797.1 107.4h0M833.6 61.7h0M786.4 90.7h0M850.7 30.3h0M763.6 140h0M748.6 134h0M782.9 103.6h0M791.2 93.7h0M783.1 119.8h0M770.6 122.5h0M734 148.1h0M797.3 97.1h0M830.1 50.8h0M842.4 55.5h0M761.3 106.1h0M854.9 29h0M862.5 34h0M768.3 120.3h0M743 155.6h0M839.9 51.7h0M851.6 25.3h0M806.4 72.1h0M839.1 26.7h0M788.1 96.3h0M809.1 90.3h0M742.6 155.9h0M778.2 104.5h0M846.2 36.9h0M749.5 149.3h0M757.1 148.9h0M759.3 164.3h0M803.6 108.5h0M790.7 90.9h0M791.3 84.9h0M837 36.2h0M819.8 73.1h0M818.8 77.4h0M808.5 79.3h0M782.8 100.4h0M737.6 148.6h0M723 158.4h0M818 79.6h0M780.4 150.2h0M779.4 101.6h0M828.3 75.6h0M802.3 75.1h0M739.2 137.4h0M773.2 128h0M764.4 147.1h0M821.1 72.8h0M830.6 56.1h0M782.2 138.3h0M765.8 122.7h0M764.4 148.2h0M808.1 76.7h0M761.7 119.3h0M832.3 41.8h0M742.8 127.1h0M814.3 74.1h0M814.1 81.6h0M838.8 33.1h0M825.8 57.8h0M855.1 40.1h0M793.9 84.4h0M751.1 163h0M770.3 127.5h0M831 63.3h0M746.4 126.8h0M817.2 77.2h0M724.7 157.3h0M822.6 80.1h0M742.7 115.2h0M851 34.9h0M733.2 158.3h0M767.3 127.5h0M826 51.6h0M782.2 113.2h0M791.5 107.1h0M768.6 123.1h0M774.2 152.2h0M770.9 126.8h0M846.1 45.4h0M830.9 61.1h0M794.2 121.2h0M810.4 76.4h0M833 53.1h0M833.2 53.2h0M754.7 160.3h0M762.3 138.5h0M855.4 32.2h0M765.4 133.3h0M828.7 56h0M813.8 77.8h0M844.8 44.3h0M701.1 155.3h0M863.6 24.6h0M839.9 42.5h0M757.7 131.6h0M823.6 68.1h0M741.1 160.5h0M831.9 45.4h0M777.5 112.5h0M831.3 68.4h0M842.3 52.6h0M765.1 160.2h0M833.9 50.1h0M744.4 155.9h0M771.3 142.6h0M806.4 98.2h0M759.3 137.7h0M807.3 77.7h0M732.1 136.7h0M822.6 81.8h0M816.9 61.8h0M852.4 33.7h0M786.4 117h0M810.9 126.8h0M810.2 84.4h0M810.7 81.8h0M851.1 36.5h0M817.3 79.5h0M788 104.5h0M780.4 121h0M817.4 67.5h0M804.9 71h0M750.7 160.9h0M768.5 116.4h0M775.8 145.9h0M778.9 100.7h0M757 117.7h0M743 146.9h0M788.8 94.8h0M827.8 77.4h0M774.3 120.7h0M839.7 46.4h0M764.2 149h0M733.3 160.9h0M825.1 61.8h0M793.8 92.4h0M829.8 65.9h0M847.7 40.5h0M804.7 92.4h0M828 59.1h0M809.8 82.3h0M802.3 88.9h0M790.4 88.4h0M862.6 21h0M772.8 125.5h0M761.8 107.4h0M805.6 96.5h0M784.9 76.6h0M750.4 166.3h0M788.6 76.9h0M722.7 169.9h0M770.7 119.5h0M808 95h0M782.2 84.3h0M789.4 93.4h0M793.1 89.1h0M778.5 161.9h0M776.4 123.8h0M831.5 60.5h0M805.3 111.5h0M827.2 51.6h0M784.9 89.5h0M779.5 91.8h0M803.2 80.7h0M862.5 34h0M717.9 170.2h0M756 151.6h0M740.9 155.2h0M752.5 138.6h0M745.8 162.2h0M850 32h0M748.2 139.8h0M772 91.2h0M840.8 41.1h0M782.5 99.6h0M754.7 126.8h0M771.4 123.2h0M784.6 107h0M775.1 124.8h0M785.9 104.4h0M801.4 114.5h0M735.3 152.9h0M840.8 38.5h0M855.4 35.4h0M798.2 88.3h0M752.7 153.2h0M851.5 41h0M771.8 119.7h0M773.4 115.4h0M772.1 140.5h0M850.4 36.5h0M816.1 71h0M738.4 115.2h0M778.1 111h0M765.8 109.3h0M745.7 113.8h0M817.3 64.5h0M845.9 25.9h0M758.4 160.6h0M835 48.2h0M831.3 54.1h0M743 138.1h0M843.3 30h0M837.4 47.1h0M835.3 57.4h0M753.3 161.1h0M793.9 104.9h0M828.4 58.6h0M782.6 87.2h0M765.6 151.4h0M833.1 66h0M790.7 113h0M773.5 135.9h0M788.7 117.8h0M791.8 154.6h0M776.9 120h0M771.5 160.4h0M856.4 31.2h0M762.2 150.8h0M758.2 113h0M771.9 117h0M782.8 98.5h0M777.4 123.6h0M839.1 46h0M736.9 145.2h0M846.2 31.8h0M765.3 113.9h0M868.4 22.7h0M770.7 119.2h0M748.4 159.6h0M812.8 53.3h0M735.8 150.6h0M839.1 56.9h0M834.4 52.4h0M765 135.5h0M791 129.3h0M817.2 92.7h0M831.1 51.6h0M847.4 42.2h0M794.9 99.2h0M815 74.8h0M844.2 58.8h0M732.9 150.7h0M838.6 33.1h0M831.2 42.9h0M736.9 135.8h0M808 88h0M834.6 57.4h0M820.7 73.4h0M743.8 155.5h0M734.1 161.6h0M755 133.1h0M742.9 155.4h0M803.1 98.9h0M835.6 64.3h0M816.4 80.4h0M841.1 41.7h0M783.2 99.9h0M795.7 99h0M748.5 148.6h0M838.9 32.9h0M828.2 73.7h0M855.5 24.7h0M845.1 38.5h0M736.5 153.5h0M812.1 73h0M802.6 96.9h0M804.3 64.7h0M744.8 166.9h0M822.7 73.8h0M821.1 87h0M780.9 122.3h0M749.7 153.4h0M813.1 75.8h0M761.9 156.9h0M785.3 126.7h0M741.5 156.5h0M774.7 127.8h0M761 131.9h0M803 77.1h0M798.9 70h0M831 64.3h0M796 114.3h0M813.4 71.6h0M815.3 75.3h0M785.2 100h0M832.6 60.3h0M856.3 26h0M754.6 100.7h0M853.6 34.6h0M802.5 84.9h0M786.8 114.4h0M796.2 101.2h0M817 82.5h0M785 121.9h0M838.9 42.3h0M769.1 112.2h0M787.7 81.6h0M851.4 41.7h0M843.9 46.6h0M807.3 72.6h0M808.7 67.4h0M836.4 58.8h0M831.7 78.4h0M798.7 101.7h0M844.5 40h0M760.1 143.6h0M704 142.2h0M750.1 131.1h0M777.8 132h0M845.8 34.2h0M788.9 86.4h0M849.9 44.9h0M806.7 90.1h0M771.1 142h0M841.6 43.9h0M835.5 39.3h0M735.9 142.4h0M826.9 65.1h0M810.8 89.2h0M756.6 124.1h0M782.2 115.5h0M808.9 63.8h0M779 138.7h0M806.2 94h0M789.3 84.7h0M804.1 91.7h0M689.6 166.7h0M696.4 173.2h0M706.6 119.8h0M707.8 124.9h0M750.9 94.6h0M792.8 24.6h0M791.7 30.4h0M807.6 24.6h0M809.8 27.5h0M793.9 170.3h0M790.5 49.1h0" stroke="#77AC30" stroke-width="2.8" stroke-linecap="round" fill="none"/>
<rect x="655.6" y="10.2" width="226.8" height="173.1" fill="none" stroke="#7f7f7f" stroke-width="1"/>
<path d="M655.6 183.3v-2.2M655.6 10.2v2.2M701 183.3v-2.2M701 10.2v2.2M746.3 183.3v-2.2M746.3 10.2v2.2M791.7 183.3v-2.2M791.7 10.2v2.2M837 183.3v-2.2M837 10.2v2.2M882.4 183.3v-2.2M882.4 10.2v2.2M655.6 183.3h2.2M882.4 183.3h-2.2M655.6 154.5h2.2M882.4 154.5h-2.2M655.6 125.6h2.2M882.4 125.6h-2.2M655.6 96.8h2.2M882.4 96.8h-2.2M655.6 67.9h2.2M882.4 67.9h-2.2M655.6 39h2.2M882.4 39h-2.2M655.6 10.2h2.2M882.4 10.2h-2.2" stroke="#7f7f7f" stroke-width="0.8" fill="none"/>
<g style="font-family:'Liberation Sans', sans-serif;font-size:10px;fill:#000"><text x="655.6" y="197.1" text-anchor="middle">-600</text><text x="701" y="197.1" text-anchor="middle">-400</text><text x="746.3" y="197.1" text-anchor="middle">-200</text><text x="791.7" y="197.1" text-anchor="middle">0</text><text x="837" y="197.1" text-anchor="middle">200</text><text x="882.4" y="197.1" text-anchor="middle">400</text><text x="651.7" y="187.1" text-anchor="end">-600</text><text x="651.7" y="158.3" text-anchor="end">-400</text><text x="651.7" y="129.4" text-anchor="end">-200</text><text x="651.7" y="100.5" text-anchor="end">0</text><text x="651.7" y="71.7" text-anchor="end">200</text><text x="651.7" y="42.8" text-anchor="end">400</text><text x="651.7" y="14" text-anchor="end">600</text></g>
<text x="769" y="6.6" text-anchor="middle" style="font-family:'Liberation Sans', sans-serif;font-weight:bold;font-size:8.4px">[PRCC , p-value, Time] = [0.93049 , 0, 100].</text>
<path d="M1098.9 32.9h0M1107.6 92.8h0M1075.3 22h0M1142.5 142.6h0M1115 86.4h0M1065.7 108.4h0M1073 57.2h0M1154.9 146.3h0M1089.1 46.4h0M1158.2 84.5h0M1102.2 41.1h0M1116 100.3h0M1097.3 98.2h0M1091.2 52.8h0M1097.8 28.5h0M1126.7 104.5h0M1096.7 27.9h0M1092.6 38.9h0M1102.1 143.9h0M1092.5 81.5h0M1090.6 65.6h0M1091.8 29.3h0M1084.7 67.9h0M1099.8 144.4h0M1100.1 100.1h0M1055.6 91.1h0M1074.8 94h0M1076.9 36.3h0M1121 120.7h0M1102.8 131.5h0M1081.6 89.9h0M1111.3 71.4h0M1089.2 39.6h0M1124.9 74.6h0M1112.4 134.8h0M1078.1 35.6h0M1095 89.7h0M1131.2 65.7h0M1135.6 102.2h0M1118 130.8h0M1115.9 62.5h0M1066.4 54h0M1142.2 141.7h0M1109.3 92.6h0M1110.3 121.1h0M1117.8 139.8h0M1124.3 137.9h0M1082.7 33h0M1083.8 43.3h0M1051.6 108.7h0M1159.2 67.5h0M1103 156.8h0M1087.8 31.7h0M1120.8 89.3h0M1114.3 48.2h0M1139.1 123.7h0M1097.2 115.2h0M1085 117.4h0M1088.8 29.5h0M1066.8 102.4h0M1115.5 85.6h0M1059.1 24.6h0M1086.2 41.4h0M1123.9 111.2h0M1127 125.9h0M1084.4 63h0M1133 142.9h0M1125.4 107.3h0M1057.1 51.8h0M1083 37.2h0M1130.5 120.8h0M1125.9 150.6h0M1085.7 52.9h0M1092.8 77.1h0M1157.5 134.4h0M1093.7 99.3h0M1156 157.6h0M1070.5 66.5h0M1109.9 92.2h0M1131.2 63.4h0M1107.9 143.4h0M1082.7 72.1h0M1141.9 108.7h0M1097.4 96.4h0M1130.8 123.2h0M1066.9 66.4h0M1131.3 82h0M1057.6 73.2h0M1102.3 156.5h0M1105.4 140.2h0M1118.1 147.6h0M1115.3 120.5h0M1135.1 98h0M1160.7 150.5h0M1134.1 70.6h0M1119.3 92.7h0M1106.9 90.9h0M1062.1 90.8h0M1091.1 30.3h0M1091.6 91.1h0M1145.3 147.6h0M1100.5 145.3h0M1082.1 73.1h0M1098.7 121.5h0M1110.1 65.5h0M1107.1 93.3h0M1088.1 106.9h0M1061.9 58h0M1107 138.1h0M1100.1 119.3h0M1102.4 121h0M1106.1 96.5h0M1106.2 36.2h0M1109.6 54.3h0M1080.7 51.7h0M1084.9 80.1h0M1150.3 163.7h0M1109.7 124.8h0M1117.9 91.3h0M1096.2 36.2h0M1118.7 113.2h0M1133.6 85.7h0M1089.4 50h0M1134.8 119h0M1109.6 71.7h0M1099.5 85.1h0M1095.5 93.4h0M1088.1 65h0M1130.3 102.9h0M1141 147.6h0M1077 41.5h0M1100.9 37.2h0M1059.1 47.6h0M1113.6 114.7h0M1142.4 82.9h0M1075.7 68h0M1129.2 155.2h0M1085.6 61.3h0M1124 148.7h0M1073.1 35.4h0M1120 127.8h0M1049 32.3h0M1110.3 124.5h0M1096.9 86.6h0M1089.3 42h0M1133.4 26.9h0M1076.5 70.9h0M1082.1 55h0M1084.3 111.8h0M1117.5 58.7h0M1112 113.3h0M1071.8 24.1h0M1114.2 57.2h0M1115.2 109h0M1123.2 55h0M1136.9 159.9h0M1095.1 31.1h0M1082.6 64.9h0M1069.1 114.3h0M1087.9 78.5h0M1117.2 55.2h0M1094.7 76.9h0M1055.3 35.8h0M1115.6 112.4h0M1126.4 116.1h0M1163.4 106.3h0M1095.4 126.3h0M1098.9 101h0M1071.7 52.8h0M1078.1 41.6h0M1116.3 70.9h0M1091.4 51.5h0M1065.3 24.7h0M1124.9 73.1h0M1155.6 161.2h0M1131.3 74.3h0M1101.8 163.5h0M1076.3 67h0M1118 28.1h0M1082 88.4h0M1080.9 35.8h0M1093.2 156.6h0M1130.4 25.1h0M1105.1 140.3h0M1089.1 46h0M1098.1 122.1h0M1096.8 113.2h0M1094.5 138.1h0M1142.3 162.2h0M1083.5 66.8h0M1124.9 62.7h0M1094.2 145.5h0M1107.8 77.1h0M1133.7 129.2h0M1068.8 41.8h0M1126 154.5h0M1087.2 79.4h0M1041.5 32.7h0M1093.9 92.4h0M1060.8 79.1h0M1086.1 48.2h0M1065.7 66.6h0M1109.7 68h0M1146.1 135.9h0M1119 44.6h0M1088.9 99.3h0M1089.3 27.9h0M1134.7 62.4h0M1120.9 62.8h0M1103.9 32.1h0M1075.6 141.3h0M1085.4 48.4h0M1155.8 119.4h0M1102.1 53h0M1105.2 128.4h0M1105.3 97.6h0M1167.1 147.4h0M1117.6 47.3h0M1086.1 120.3h0M1078.8 89.4h0M1092.6 55.4h0M1135.2 111.3h0M1076.6 44.4h0M1072.7 87.1h0M1040.4 36.7h0M1081.5 56.9h0M1104.3 20.2h0M1107.6 62.5h0M1081.3 118.7h0M1117.3 88.9h0M1074.6 32h0M1062.6 32.8h0M1123.8 130h0M1082.8 137.1h0M1101.6 122.1h0M1080.1 81.9h0M1109.4 127.8h0M1099 64.7h0M1095.2 104.3h0M1072.7 42.3h0M1101.6 127.2h0M1042.2 31.3h0M1108.5 124h0M1160.1 157.5h0M1124.1 142.6h0M1114.6 50.7h0M1119.6 149.3h0M1117 138.9h0M1101.2 22.8h0M1120.1 105.6h0M1110.8 76.8h0M1060.7 88.7h0M1105.4 101.8h0M1061.4 42h0M1141.9 155.1h0M1108.7 111.9h0M1098 97.9h0M1071.7 72.3h0M1107 71.5h0M1140.1 166h0M1131.1 150.5h0M1139 135.7h0M1096.2 119.2h0M1114.2 60h0M1094.6 56.8h0M1038.8 31.8h0M1111.8 103h0M1088.3 109.2h0M1116 142.3h0M1079 34.2h0M1074.2 38.9h0M1113.9 32.1h0M1071.4 66h0M1095.7 38.1h0M1115.9 84.5h0M1085.1 43.2h0M1056.1 119.2h0M1095.2 49.5h0M1094.5 59.1h0M1083.3 84h0M1096.2 46.9h0M1124.9 68h0M1134.6 123.1h0M1154.1 158.5h0M1142.8 121.1h0M1123.4 137.8h0M1094 40.6h0M1084.4 99.9h0M1121.6 59.6h0M1083.2 30.2h0M1108.9 58.1h0M1128.7 48.7h0M1106.3 86.9h0M1068.2 62.7h0M1074.1 28.1h0M1102.2 105.8h0M1126.1 64h0M1087 38h0M1116.4 136.7h0M1101.4 160.7h0M1115.6 103.8h0M1095.5 38.8h0M1120.4 87.5h0M1099 134.3h0M1107 26.7h0M1081 108.7h0M1092 98h0M1111.7 159h0M1101.6 98h0M1102.6 17.3h0M1059.3 103.3h0M1093.1 53.4h0M1085.4 32.7h0M1094.8 169.1h0M1092.9 73.3h0M1130.3 146.9h0M1094.9 92.6h0M1083.1 41.9h0M1125.6 113.5h0M1081.1 59.1h0M1137 126.3h0M1111.2 87.7h0M1106.4 62.4h0M1116.2 89.2h0M1141 125.3h0M1081.6 56.7h0M1145.6 148.8h0M1096.2 121.3h0M1103.1 54h0M1119 99.3h0M1125.1 147.5h0M1076.4 68.2h0M1069.1 35.2h0M1097.4 139.7h0M1092.4 39h0M1125.8 166.2h0M1105.7 30.5h0M1068.6 73.1h0M1122 124.1h0M1140.6 138.9h0M1109.9 98.4h0M1106.1 97.6h0M1123.6 99.3h0M1138.1 92.2h0M1152 145.6h0M1149.4 132h0M1096.3 145.4h0M1124.4 47.5h0M1115.3 143.4h0M1117 65.8h0M1112.2 152.4h0M1108 70.5h0M1093.8 91.7h0M1099 88.6h0M1139.4 66.4h0M1063.9 125.3h0M1120.9 72h0M1095.7 37.5h0M1077.6 68.2h0M1128.7 78h0M1099.2 60.2h0M1083.8 33.1h0M1130.4 163.2h0M1079.7 27.5h0M1142.5 100.2h0M1065 43.9h0M1112.9 147.4h0M1076.6 127.3h0M1111.2 91.6h0M1120.4 83.2h0M1114 32.3h0M1145.2 112.7h0M1116.3 123.3h0M1092.5 76.7h0M1143.1 150.5h0M1083.2 34.5h0M1124.8 127.5h0M1115.6 154.5h0M1073.3 84.3h0M1119.8 137.4h0M1118.6 30.2h0M1140.6 141.4h0M1108.7 88.3h0M1049.2 80.8h0M1106.4 89h0M1132.9 157.6h0M1119.5 97.6h0M1109.2 145.8h0M1145.7 156.9h0M1102.5 34.9h0M1078.2 122.5h0M1140 161.8h0M1158 160.4h0M1101.4 42.2h0M1081.2 51.3h0M1137.5 62.2h0M1118.5 54.1h0M1079.9 123.1h0M1127.8 87.2h0M1109.4 64.9h0M1136.1 134.2h0M1023.2 61.2h0M1063.8 55.2h0M1111.1 94.4h0M1141.3 71.9h0M1128.2 160.8h0M1117.1 117.1h0M1101.5 114h0M1104.2 109.6h0M1116.2 34.1h0M1079 38.7h0M1162.3 150.2h0M1114.2 85.8h0M1128.8 144.8h0M1098.3 74.3h0M1081.1 21.1h0M1117 145.8h0M1080.1 107.7h0M1112.5 110.2h0M1059.6 65h0M1140.1 52.9h0M1121.4 157.2h0M1085.7 132.3h0M1117 114.6h0M1095.7 29.7h0M1083.7 56.1h0M1104.7 78.9h0M1055.9 27.2h0M1105.1 106.5h0M1090.5 54.7h0M1125.5 130h0M1103.2 127.1h0M1097.5 38.1h0M1035.7 51.8h0M1122.6 82.2h0M1122.4 141.1h0M1123.1 116.9h0M1087.6 33.2h0M1125.6 104.6h0M1121.4 154.9h0M1119.7 128.6h0M1103.9 86.5h0M1081.8 42.5h0M1087.4 101.5h0M1127.5 131.1h0M1107.5 53.1h0M1112.9 121.7h0M1144 136.7h0M1104.4 83h0M1115.8 97.5h0M1116.1 45.1h0M1120.7 98.1h0M1096.2 75.7h0M1084.8 102.5h0M1083.5 69.8h0M1071.8 37.2h0M1139.4 154h0M1021.1 43.3h0M1134 37.1h0M1090.8 106.6h0M1144.2 163.1h0M1112 96.4h0M1111 73.9h0M1092.1 136h0M1140.5 138.1h0M1112 119.3h0M1106.2 39.9h0M1082.3 81.8h0M1100.1 78.9h0M1087.6 83.1h0M1106 69.3h0M1122.1 102.4h0M1100.7 93.6h0M1132.7 153.9h0M1105 29.8h0M1119.2 141.3h0M1090.5 55h0M1060.8 78.4h0M1117.7 54.7h0M1109.2 94.7h0M1099.3 89.4h0M1114.7 108.3h0M1113.2 153.5h0M1095.4 81.6h0M1111 77.9h0M1082.4 117.3h0M1087.5 36.4h0M1099.1 43.3h0M1079.6 111.9h0M1083.9 98.2h0M1141.6 124.8h0M1143 61.2h0M1126.2 138.7h0M1128 118.4h0M1077.8 28.7h0M1148.9 142.9h0M1092.7 40.4h0M1103.9 80.2h0M1127.3 133.9h0M1083.9 49.5h0M1089.9 87.2h0M1096 54.3h0M1093.1 119.8h0M1101.4 114.8h0M1071.2 150.1h0M1100.9 142.8h0M1113.3 85.8h0M1135.7 113.4h0M1135.6 149.9h0M1102.3 136.1h0M1106.8 91h0M1104.5 158h0M1101.4 164.8h0M1119.6 65.7h0M1115.3 148.7h0M1102.7 105.6h0M1097.6 39.4h0M1140.7 144.7h0M1114.2 110.5h0M1114.7 136.9h0M1104.1 57.1h0M1103 91.8h0M1117.1 148.8h0M1000 58.8h0M1077 36.5h0M1095 56.9h0M1096.4 126h0M1133.6 19.7h0M1148.4 71.2h0M1149.5 114.9h0M1087.1 149.6h0M1118.3 97.4h0M1133.7 151.1h0M1130.5 143.9h0M1069.6 72.5h0M1116.6 52.8h0M1136.8 70h0M1126 99.2h0M1140.4 49.5h0M1090.3 40.5h0M1140.4 153h0M1128.6 66.9h0M1080.2 55.1h0M1102.1 80.8h0M1099.3 111.5h0M1119 61.4h0M1103.8 152h0M1103.6 44.5h0M1095.4 85.5h0M1125.1 86.1h0M1092 67.2h0M1106.2 97.2h0M1122.2 118.2h0M1106.6 135.1h0M1114.2 139.1h0M1120.9 163.6h0M1086.8 42h0M1103.2 26h0M1086.6 67.5h0M1119.3 121.7h0M1106.4 108h0M1084.3 50.3h0M1085.9 99.6h0M1030.6 111.1h0M1084.3 58.6h0M1129.6 130.2h0M1115.2 143.6h0M1144.2 114.4h0M1052 35.8h0M1087.8 22.9h0M1088.4 140.3h0M1121.7 63.8h0M1095.4 148.6h0M1109.4 77h0M1127.3 145.8h0M1169.4 129.1h0M1122.5 54h0M1138.3 148.7h0M1108 92.8h0M1149.2 109.6h0M1087.6 28.3h0M1070 50.1h0M1130.9 114.9h0M1093.5 29.4h0M1086.1 74.2h0M1125.5 133.9h0M1139.8 126.9h0M1063.8 49.5h0M1114.7 26.4h0M1162.9 162.6h0M1085.4 82.6h0M1088.6 135.1h0M1105.1 67.9h0M1121.5 155.5h0M1114.2 61.6h0M1120.3 78.9h0M1097.9 72.2h0M1177.1 99.6h0M1060.6 68.9h0M1065 51.5h0M1126.9 149.1h0M1121 113.1h0M1119 140.8h0M1117.4 101.6h0M1074.6 77.6h0M1062.7 106.8h0M1114.7 59h0M1151.1 156.5h0M1119.4 134.6h0M1100.4 150.6h0M1107.9 144h0M1117.7 88.8h0M1104.9 69.2h0M1141.3 116.3h0M1134.3 68.3h0M1138.6 112.5h0M1100.1 87.3h0M1145.5 158h0M1121.9 108.2h0M1129.2 153.1h0M1106 52.6h0M1098.5 67.9h0M1075.6 52.3h0M1102.3 34.2h0M1087.5 83.8h0M1120 140.4h0M1132.3 123.1h0M1117.3 77.4h0M1017.8 73.1h0M1085.8 66.7h0M1100.8 148.7h0M1127.9 146.5h0M1083.8 64h0M1165.3 160.2h0M1096.7 96.1h0M1119.2 106.2h0M1075 48.8h0M1108.9 152.8h0M1092.7 63.1h0M1122.2 116.6h0M1057.4 71.5h0M1122 141.9h0M1069.9 73h0M1100.8 60.4h0M1062.6 71.8h0M1075.6 54.7h0M1124.4 75.2h0M1133.8 89.2h0M1078.9 76.6h0M1154.5 142.4h0M1090.1 71h0M1120.5 142.1h0M1115.9 98.2h0M1107.3 97.2h0M1127.7 145.1h0M1119 126.7h0M1114.7 62.3h0M1103.6 75.5h0M1095 93.7h0M1051.4 69.5h0M1085.8 104.6h0M1102.8 96.8h0M1120.7 101.8h0M1102.7 61.2h0M1115.1 149.7h0M1101.7 48.3h0M1109.5 165.3h0M1115 120h0M1102.1 28.8h0M1110.1 137.7h0M1139.3 118.2h0M1140.4 137.9h0M1086.6 45h0M1128.9 132.8h0M1115 114.7h0M1118.5 117.2h0M1125.7 142.7h0M1126.4 79.1h0M1119.3 119.2h0M1098.7 34.5h0M1123 91.6h0M1114.1 58.1h0M1156.1 163.1h0M1076.4 37.9h0M1114.2 79.6h0M1078.4 126.3h0M1103.5 86h0M1097.2 158.7h0M1093 139.2h0M1097.4 74.7h0M1082.5 90.9h0M1088.2 46.6h0M1043.7 66.3h0M1121.7 27.7h0M1040.1 44.2h0M1108.2 146.8h0M1128.5 49.3h0M1070.9 65h0M1151.7 131.9h0M1143.6 146h0M1112.2 119.3h0M1088.1 53.5h0M1105.6 111.5h0M1111.8 97.7h0M1125.1 93h0M1126.8 72.2h0M1065.2 103.9h0M1140.1 149.2h0M1106.8 30.1h0M1075.8 79h0M1141.1 157.4h0M1138.1 137.6h0M1112 35.5h0M1093.1 30.6h0M1121.1 91.3h0M1138.1 116.5h0M1094.8 103.4h0M1105 122.7h0M1094.8 100.1h0M1153.4 74.6h0M1121.1 142h0M1080.5 25.6h0M1097.2 132.9h0M1097.2 149.7h0M1104 69.2h0M1130.5 117.2h0M1122.6 58h0M1097.1 130.9h0M1080.8 78.2h0M1101.3 142.3h0M1077.1 48.9h0M1087.6 134.5h0M1124.5 31.2h0M1126.3 130.8h0M1090.9 81.8h0M1054.1 101.2h0M1121.2 27.9h0M1127.8 115h0M1104.8 85.5h0M1107.1 41h0M1107.5 147.4h0M1115.7 86.6h0M1082.8 49.4h0M1122.8 120.8h0M1117.7 145.9h0M1072.6 76.2h0M1071.1 41.2h0M1114 37.8h0M1126 99.4h0M1114.3 136.6h0M1107.9 159.7h0M1100.4 109.7h0M1127.7 143.9h0M1073.1 83.7h0M1117.8 67.5h0M1081.9 70.4h0M1093 129.6h0M1093.3 25.3h0M1132.6 51.4h0M1085.8 80.2h0M1086.6 52.9h0M1069.3 34.7h0M1116.9 115.6h0M1100.9 56.8h0M1108.1 106.6h0M1097.4 99.6h0M1101 27.6h0M1137.1 147h0M1094.9 93.7h0M1087.5 41.6h0M1085.2 69.7h0M1098.6 111h0M1146.6 55.3h0M1095 128.9h0M1106.7 89.9h0M1126.4 99.5h0M1109.4 143.8h0M1129.3 137h0M1108.3 50.7h0M1091.1 146.9h0M1112.6 27.3h0M1089.2 111.6h0M1095.9 23.9h0M1065.5 63.3h0M1069.8 92.5h0M1086.5 38h0M1151.4 141.9h0M1153.4 83.7h0M1153 64.2h0M1154.7 58.5h0M1135.8 115.2h0M1137.9 152.7h0M1107 27.7h0M1086.3 28.7h0M1103.9 119.9h0M1102.4 49.3h0M1140.5 145.6h0M1100.9 121h0M1040.7 22.9h0M1088 148.5h0M1167.7 72.2h0M1083 62.6h0M1123.2 48.5h0M1117.8 33.9h0M1142.7 145.6h0M1085.4 64.4h0M1139 63h0M1110.4 92.3h0M1104.4 130.6h0M1079.2 47h0M1108.3 112.3h0M1140.9 62.6h0M1086.3 117.9h0M1092.2 100.4h0M1094.6 18.7h0M1126.9 131.7h0M1072.1 48.4h0M1102.6 155.3h0M1081.4 36.7h0M1112.8 72.7h0M1106.1 109.1h0M1083.3 53.5h0M1101.5 63.3h0M1095.9 28.3h0M1139.5 64.8h0M1061.2 55.4h0M1108.6 106.6h0M1080.5 48.6h0M1110.4 56.7h0M1120.5 89.3h0M1112.6 134.8h0M1117.1 32.4h0M1101.3 97.7h0M1124.1 56.2h0M1113.1 146.2h0M1106.6 127.5h0M1086.1 130.9h0M1075 56.9h0M1100.4 106.2h0M1050.6 48.7h0M1111.7 116h0M1130.8 119.8h0M1121.1 110h0M1119.6 128h0M1117 88.4h0M1093 95.7h0M1083.3 43.5h0M1128 111.7h0M1115.8 138.4h0M1113.1 42.9h0M1083.9 30.2h0M1117 87.7h0M1146.7 148h0M1101.3 88.1h0M1151.3 130.8h0M1178.6 105.8h0M1059.3 108.5h0M1176.2 150.8h0M1071.7 97.7h0M1154.2 87.7h0M1095.8 122.7h0M1077.4 144.6h0M1071.4 75.8h0M1108.3 70.5h0M1047.3 30h0M1087.4 74h0M1142.9 136.6h0M1069.9 131.2h0M1131.6 164.7h0M1147.5 148.5h0M1055.7 48h0M1098.1 161.6h0M1110.3 99.9h0M1116.3 130.8h0M1105.1 73.6h0M1053.1 51.9h0M1085.2 87.5h0M1106.3 65.3h0M1133.8 163.5h0M1148.7 152.4h0M1103.9 149.4h0M1099.8 124.4h0M1102.5 159.9h0M1077.2 58.8h0M1052.2 51.2h0M1130.2 55.6h0M1107.5 131.4h0M1094.6 108.5h0M1085.3 69.6h0M1130.9 142h0M1115.4 120.6h0M1081.8 67.3h0M1125.2 94.1h0M1117.7 103.6h0M1114.4 139h0M1094.7 55.6h0M1136.4 116.8h0M1122.8 107h0M1100.3 87.8h0M1139.9 140h0M1047.8 40.1h0M1126.6 116.6h0M1076.6 53.2h0M1085.3 72.2h0M1104.4 134.7h0M1159.5 161.5h0M1104.4 106.1h0M1091.9 56.4h0M1134.4 153.5h0M1052.5 52.9h0M1112.7 136.3h0M1126 116.7h0M1100.2 147.2h0M1131.6 143.9h0M1083.3 77.8h0M1065.6 62.5h0M1140.3 153.3h0M1095.1 49.8h0M1117.4 84.9h0M1105.5 85.9h0M993.6 58.3h0M998.8 40h0M1015.3 104.3h0M1023.3 114.5h0M1032 58.7h0M1037.3 39.7h0M1039 28.5h0M1035.5 89.6h0M1035.5 97h0M1049.5 128.2h0M1192.2 43.9h0M1166.7 51.6h0M1177.2 162.6h0M1164.2 121.2h0M1157.9 35.5h0M1145.7 29.9h0" stroke="#000000" stroke-width="2.8" stroke-linecap="round" fill="none"/>
<rect x="965.6" y="10.2" width="226.6" height="168.6" fill="none" stroke="#7f7f7f" stroke-width="1"/>
<path d="M965.6 178.8v-2.2M965.6 10.2v2.2M1000.6 178.8v-2.2M1000.6 10.2v2.2M1035.5 178.8v-2.2M1035.5 10.2v2.2M1070.5 178.8v-2.2M1070.5 10.2v2.2M1105.5 178.8v-2.2M1105.5 10.2v2.2M1140.4 178.8v-2.2M1140.4 10.2v2.2M1175.4 178.8v-2.2M1175.4 10.2v2.2M965.6 178.8h2.2M1192.2 178.8h-2.2M965.6 150.7h2.2M1192.2 150.7h-2.2M965.6 122.6h2.2M1192.2 122.6h-2.2M965.6 94.5h2.2M1192.2 94.5h-2.2M965.6 66.4h2.2M1192.2 66.4h-2.2M965.6 38.3h2.2M1192.2 38.3h-2.2M965.6 10.2h2.2M1192.2 10.2h-2.2" stroke="#7f7f7f" stroke-width="0.8" fill="none"/>
<g style="font-family:'Liberation Sans', sans-serif;font-size:10px;fill:#000"><text x="965.6" y="192.6" text-anchor="middle">-400</text><text x="1000.6" y="192.6" text-anchor="middle">-300</text><text x="1035.5" y="192.6" text-anchor="middle">-200</text><text x="1070.5" y="192.6" text-anchor="middle">-100</text><text x="1105.5" y="192.6" text-anchor="middle">0</text><text x="1140.4" y="192.6" text-anchor="middle">100</text><text x="1175.4" y="192.6" text-anchor="middle">200</text><text x="961.7" y="182.6" text-anchor="end">-600</text><text x="961.7" y="154.5" text-anchor="end">-400</text><text x="961.7" y="126.4" text-anchor="end">-200</text><text x="961.7" y="98.3" text-anchor="end">0</text><text x="961.7" y="70.2" text-anchor="end">200</text><text x="961.7" y="42.1" text-anchor="end">400</text><text x="961.7" y="14" text-anchor="end">600</text></g>
<text x="1078.9" y="6.6" text-anchor="middle" style="font-family:'Liberation Sans', sans-serif;font-weight:bold;font-size:8.4px">[PRCC , p-value, Time] = [-0.41732 , 2.0521e-43,100].</text>
<path d="M157.7 287.7h0M167.5 271.4h0M117.3 314h0M200.9 346.2h0M235.7 381.6h0M189.8 335h0M186.8 328.1h0M198.2 379.6h0M206.3 374h0M131 249.1h0M202.6 300.6h0M185.6 351.1h0M178.4 329.4h0M192.3 252.1h0M165.4 271.5h0M156.5 272.3h0M224.1 329.9h0M187.9 321.5h0M190.2 293.7h0M178.1 374.9h0M134.7 309.8h0M196.5 340.9h0M193 267.1h0M194.3 377.9h0M178 294h0M182.6 276.1h0M206 361.7h0M161.2 261.5h0M180 268.5h0M208.7 377.2h0M159.2 289.8h0M225 386.5h0M191.4 312.7h0M195.1 325.1h0M211.4 351h0M138.1 346.3h0M172.6 274h0M193.6 339.7h0M159 363.1h0M214.6 285.5h0M190.2 320.1h0M158.4 276.8h0M190.3 356.2h0M198 337.9h0M167.4 276.6h0M139.3 312.4h0M164.9 310.7h0M206.4 352.7h0M215.8 387.8h0M177.6 259.6h0M180.9 370.5h0M152.3 271.6h0M197.4 330.3h0M146.1 255.8h0M194.2 330.6h0M142.2 260.8h0M186.3 310.2h0M196.6 348h0M199.6 286.1h0M171.6 295.2h0M154 295.8h0M155.1 318.9h0M202.3 362.2h0M157.8 301.2h0M171.4 367h0M159.1 285h0M187.8 300.1h0M216.5 330.1h0M187.4 285.7h0M227.9 355.9h0M182.5 331.2h0M167.1 282.4h0M173.8 341.8h0M137.2 290.8h0M205.9 301.1h0M168.8 255.8h0M172.5 250.1h0M226.4 283.7h0M207.9 272.4h0M166.4 371.1h0M192.7 290.3h0M151.1 272.5h0M210.1 326.5h0M134.5 312.5h0M158 315.9h0M140.4 254.7h0M234.4 332.1h0M152.5 331.2h0M257.8 385.6h0M213.1 329h0M173.9 299h0M199.5 247.5h0M215.9 262.1h0M200.7 345h0M153.5 251.9h0M186 278h0M176.9 360.8h0M193.1 327.2h0M211.7 376.5h0M141.5 270h0M148.4 276.3h0M189.5 368h0M154.1 317.5h0M206.4 345.1h0M181.3 311.5h0M126.5 311.7h0M195.5 371.5h0M171.9 276.5h0M167.6 350.2h0M181.1 323.4h0M211.5 376.8h0M168.1 384.9h0M192.2 355.5h0M142.1 338.9h0M176.2 261.1h0M143.9 257.5h0M157.6 328.9h0M149 329h0M134.9 298.2h0M193.5 272.1h0M175.7 343.3h0M156.1 278.7h0M182.6 334.7h0M100.4 305.2h0M206.2 282.8h0M124.1 317.5h0M189.6 291.2h0M153.7 295h0M203.3 390.2h0M209.5 381.9h0M218 361.5h0M170.6 355.2h0M209.7 353.4h0M201.6 374.9h0M188.4 351.4h0M158.5 307.6h0M182.3 259.7h0M200.8 335h0M214.8 326.8h0M206.9 326.5h0M127 291.8h0M163 279.5h0M179.6 257h0M173 342.1h0M133.5 290.7h0M142.1 339.6h0M257.1 269.3h0M178.1 357.4h0M165.6 266.6h0M148.5 309h0M179 289.4h0M208.3 309.3h0M161.8 345.2h0M178.8 319h0M167.4 377h0M163.5 376.2h0M156.5 315.9h0M186.8 325.4h0M187.8 265.7h0M230 382.4h0M170.8 306.5h0M138.7 315h0M183.9 301.1h0M169.8 287.7h0M174.8 315h0M151.3 316.1h0M175.7 318.1h0M213.5 304.2h0M228 352.2h0M197.8 302.4h0M184.4 291.3h0M190.4 359.7h0M158.1 256.9h0M171.5 281h0M165.3 249h0M187 349.5h0M166.5 323.6h0M220.2 352.6h0M195.2 380.2h0M220.4 385.3h0M195.1 359.4h0M179 270.8h0M213.6 370.7h0M185.8 285.9h0M209 347.4h0M183.5 376.8h0M169.2 358.5h0M168.8 293.3h0M213.9 316.7h0M154.3 310.3h0M165.9 325.2h0M244 349.3h0M152.4 325.3h0M148.6 264.6h0M190.8 361.1h0M154.8 285.2h0M182.3 353.3h0M218.8 351.2h0M197.2 342.6h0M207.5 374.9h0M122.6 256.6h0M206.5 331.7h0M200.1 353.9h0M206.2 381.7h0M220.8 380.3h0M204.8 357.4h0M185.3 324.4h0M179.3 302.8h0M142 248.7h0M141.7 264.9h0M164.3 345.9h0M190.7 296.2h0M144 255.4h0M206.5 371.4h0M190.9 276.5h0M230.9 337.8h0M159.7 277.9h0M195.5 339.1h0M175.7 313.3h0M151.6 318.8h0M191.2 366.6h0M227.7 278.2h0M165.5 275.9h0M217.2 317.3h0M206.4 332.9h0M195.8 257.7h0M217.5 330h0M163.8 261h0M161.9 331.1h0M223.1 339.1h0M208.1 342.3h0M213 383.9h0M211.6 342.3h0M176.7 346.4h0M206.7 376.4h0M171.6 307.5h0M155.3 328.5h0M177.3 382.7h0M196.8 360.6h0M111.1 259.2h0M217.5 367.8h0M209.4 342.2h0M158.1 262.6h0M208.9 372.2h0M149.7 332.4h0M170.7 277h0M218.2 386h0M214.3 377.5h0M177.9 258.8h0M168.4 290.3h0M237.8 350h0M194.6 322.8h0M213.2 353.1h0M181.5 260.3h0M141.7 257.3h0M179.1 380.4h0M197.1 318.8h0M171.9 359.5h0M174.4 328.3h0M188.9 279.5h0M146.1 290h0M175.2 354h0M165.5 342.1h0M164.9 328.9h0M231.4 335.7h0M181.6 290.6h0M186.6 273.9h0M149.8 340.3h0M134.7 327.9h0M178 383.4h0M213.2 335.2h0M183.1 258.3h0M135.8 318.3h0M134.7 312.7h0M185.4 307.1h0M183.9 310.4h0M175.3 274.3h0M207.7 346.4h0M170.4 342.8h0M162.6 263.6h0M173.2 318.6h0M183.7 255.6h0M196 372.9h0M125.4 275.3h0M207.4 318.9h0M214.4 315h0M183.4 268.5h0M194 367.5h0M160 319.8h0M216.4 350.9h0M179.9 339.7h0M175.4 271.6h0M205.8 332.3h0M163.3 276.2h0M159.1 386.2h0M166.7 247.1h0M136.1 257h0M135 295.3h0M196.9 358.7h0M171.9 294.8h0M195.4 366.1h0M205.5 341.5h0M161.8 380.3h0M215.5 376.6h0M237.2 373.2h0M199.4 368.5h0M154.9 274.9h0M190.9 351.3h0M221.7 272.5h0M198.4 380.7h0M185.4 373h0M164.6 367.4h0M190.7 265.1h0M196.4 274.7h0M202.9 379.2h0M204.5 264.3h0M179.7 361.1h0M209.6 349h0M105.7 301.5h0M173.7 352.6h0M158 260.7h0M202.2 341.2h0M184.9 308.5h0M152.4 310.1h0M181.7 346.1h0M166.6 285.2h0M149.6 243h0M164.7 305h0M220.3 373.7h0M191.2 275.4h0M129.5 290.2h0M214.1 323.9h0M173.2 295h0M203.1 353.6h0M210.4 350.6h0M192.7 310.5h0M218 374.3h0M135.8 299.7h0M217.5 359.9h0M169.7 348.4h0M167.7 262.6h0M174.7 303.2h0M163.3 354.4h0M169 283.1h0M152.1 253.8h0M143.5 256.1h0M210.7 277.8h0M194.5 336.7h0M162.9 305.7h0M208.4 304.1h0M200.8 367.3h0M163.2 290.7h0M83.4 318.8h0M186.6 313.6h0M190.1 282.5h0M242.7 385.9h0M174 352.5h0M178.6 246.4h0M226.1 352.6h0M211 351.6h0M202.9 372.4h0M158.5 348.2h0M176.8 311.2h0M191 381.9h0M155.3 343.9h0M206.5 346h0M198.2 364.9h0M162.1 277.6h0M198.9 250.6h0M146.8 258.6h0M141.2 326.2h0M155 370.9h0M204.4 344.4h0M168.7 313.6h0M174.2 335.8h0M124 288.3h0M150.9 283.6h0M135.9 263.4h0M170 311.1h0M176.1 350.5h0M139.5 260h0M156.8 258h0M183.3 364h0M207.4 365.1h0M95.2 295.3h0M137.2 270.6h0M183.4 257.6h0M206.7 381.6h0M176.1 362h0M182.1 326.5h0M165.6 317.9h0M161.4 288.2h0M203.7 312.3h0M164.3 314.1h0M197.8 347.4h0M150.3 298.4h0M155.4 309.7h0M124 252.9h0M184.2 359.8h0M189.9 360.9h0M184 338h0M195.2 350h0M188.6 327.6h0M214.6 366.6h0M164.2 295.6h0M194.5 277.1h0M214.2 388h0M188.7 263h0M202.1 375.9h0M218.2 342.3h0M180.2 317.8h0M150.6 327.3h0M196.2 355.7h0M159.9 294.8h0M135.7 278.8h0M176.8 358.7h0M186.5 362.3h0M232.8 321.6h0M207.6 367.5h0M195.9 256.7h0M178.2 261.1h0M187 271h0M206.3 332.1h0M133.8 273.8h0M215.7 331.6h0M163.8 324.8h0M210.2 366.5h0M199.9 384.9h0M204.2 293.7h0M224 359.2h0M195.7 251.6h0M184.2 314h0M173.3 313.1h0M177.6 265.8h0M245 346.6h0M213.3 384.3h0M198.9 357.7h0M157 321.7h0M184 362.2h0M191.9 346.8h0M184.2 290.1h0M217.4 329.5h0M191.4 346.2h0M199.7 355.1h0M205.4 309.6h0M196.3 253.1h0M223.4 357.3h0M192 262.6h0M192.2 273.5h0M209.2 302.2h0M144.5 307.7h0M167.2 317.4h0M207.3 370.3h0M179.7 306.5h0M185.4 250.8h0M130.4 286h0M188.7 323.4h0M196 334.4h0M147.2 265.7h0M199.7 383.8h0M216.1 349.7h0M167.3 252.4h0M167 296.7h0M168 269.4h0M170 310.5h0M223 380.5h0M172.7 314.6h0M192.7 306.7h0M191.6 373.4h0M173 313.3h0M138.1 265.8h0M198.8 381.8h0M221.7 376.4h0M181.4 371.1h0M162.6 291.2h0M167.9 272.6h0M194.3 367.4h0M181.2 268.7h0M170 353.2h0M191.8 311.4h0M198.2 285.8h0M185.7 326.3h0M128.5 272.1h0M159.4 342.8h0M179.3 271h0M204.7 325.9h0M164.7 257.2h0M200.2 341.2h0M178 269.1h0M196.1 373.7h0M162.9 347.2h0M173.4 373.3h0M169 323.7h0M171.2 335h0M159.8 345.1h0M179.9 331h0M148.6 304.2h0M184.6 302.4h0M192.7 350.6h0M187.2 286.1h0M108.3 291.7h0M164.8 329.5h0M146.4 319.2h0M207.7 366.1h0M235.2 281h0M195.1 333.4h0M185.6 348.9h0M162.6 253.8h0M193.6 346.6h0M220.6 361h0M190.9 335.1h0M168.1 326.2h0M129.1 297.1h0M198.5 334.6h0M191.7 293.7h0M207.4 376.4h0M140.1 259.3h0M171.7 319.2h0M179 323.4h0M197 321.7h0M193.2 347.2h0M189.2 269.9h0M177.8 325.3h0M189.4 371h0M232.6 341.5h0M153.6 314.7h0M157.9 346.8h0M247.2 371.3h0M166.6 263.3h0M239.1 364h0M117 286.7h0M212.3 322.3h0M172.6 309.1h0M172.3 296.4h0M212.9 392.2h0M126.6 324.2h0M168.1 327.1h0M197.7 328.2h0M187.9 379.7h0M234.9 321.2h0M200.1 324.1h0M214.6 339.9h0M183.5 374.1h0M205.1 337.9h0M150.7 282.1h0M141.1 274.8h0M197.6 286.2h0M187.8 395.5h0M180.1 335.3h0M198.3 320.8h0M150.5 277.9h0M142.7 298.2h0M169.4 270.4h0M175.7 299.7h0M236.1 377.7h0M133.6 247.9h0M187.2 306.4h0M187.9 308.7h0M183.8 342.8h0M154.6 254.7h0M158.6 254.9h0M172.2 347.2h0M158.1 325.6h0M218.8 374.5h0M144.7 277.2h0M148.8 297.6h0M215 356.9h0M154.5 273.4h0M163.6 309h0M131.5 264.9h0M142.2 281.8h0M173.8 372.8h0M164.8 348.3h0M190.2 269.6h0M182.6 380.9h0M153.4 371.3h0M134.4 256.7h0M183.6 283.2h0M170.2 351.6h0M191.2 342.6h0M182.5 381.6h0M165.2 373h0M190.7 381.3h0M148.3 306.4h0M173.9 305.6h0M214.9 364.2h0M160.4 272.8h0M240.6 322h0M147.6 307.1h0M197.7 292.4h0M208.2 362.3h0M196.1 277.6h0M199.4 331.3h0M127.7 316.9h0M194.9 369.8h0M213.7 341.8h0M188.5 331.9h0M140 284.8h0M172.7 323.9h0M183.9 304.8h0M195.1 290.2h0M172.3 325.9h0M202.9 390.2h0M149.8 306.6h0M131.2 255.2h0M190.7 380.9h0M214.6 326.4h0M183.5 300.6h0M173 319.1h0M201.7 375.4h0M196.2 324.8h0M198.5 383.3h0M192.3 373h0M182.9 336.4h0M211 359.7h0M167.7 317.2h0M172.7 255.7h0M155.2 354.6h0M139.3 250.3h0M181.5 342h0M177.2 275.5h0M133.2 320h0M154.2 279.1h0M170.1 272.6h0M160.8 272.1h0M182.8 360.1h0M152.7 266.3h0M179.3 365.5h0M182.7 279.1h0M209.1 388h0M211.7 351.6h0M247 366h0M195.8 304.5h0M201.2 340.8h0M167.5 305.7h0M245.4 358.6h0M191.6 328h0M152.5 255.4h0M196.5 300.4h0M194.4 323.6h0M164.4 287.8h0M166.8 253.1h0M232.3 333.5h0M206.3 371.9h0M206.4 356.3h0M183.2 364.5h0M178.7 328.5h0M190.2 286.5h0M167.8 281.1h0M206.7 371.3h0M224.4 360.6h0M184.2 332.6h0M198.4 269.7h0M172.4 322.1h0M158.3 310.7h0M179.8 350.2h0M141 306.2h0M183.6 301.9h0M194.1 339h0M206.3 314.7h0M151.7 272.6h0M206.8 331.2h0M209.8 318.1h0M198.5 367.6h0M192 347.6h0M150.5 367.6h0M245 381.2h0M201.2 371.1h0M174.5 260.8h0M159.7 285.4h0M179.3 304.5h0M145.1 281.4h0M236.2 358.9h0M196.3 343.7h0M162.7 298.3h0M171.7 265.7h0M138.7 315.9h0M208 377.9h0M195.1 379.2h0M234.8 378.7h0M187.4 287.1h0M155 256.3h0M195.5 364.7h0M231.2 277.4h0M182.1 386.2h0M206.2 272.4h0M190.3 290.8h0M197 318.2h0M135.9 315.9h0M215.5 355.6h0M148.1 256.7h0M173.7 342.2h0M207.1 346.8h0M153.8 281.7h0M183.3 304.3h0M158.5 317.5h0M184.1 305.8h0M211.9 370.4h0M186.3 375.7h0M137.3 249.5h0M155.6 289.5h0M158.1 298.6h0M146.8 315.1h0M233.7 348.7h0M207.5 359.2h0M164.1 307.6h0M195.4 384.7h0M185.8 381.7h0M197.4 339h0M168.2 302.1h0M144.8 262.1h0M172.7 329.1h0M184.3 345.1h0M134.2 247.1h0M195.9 346.9h0M166 324.6h0M197.3 324.8h0M196.1 379h0M212.1 366.1h0M189.6 387.9h0M127.1 276.8h0M161.2 333.1h0M163.5 290.9h0M203.7 324.3h0M182.2 313.6h0M171.9 265h0M205.1 334.8h0M207.4 361.2h0M178.9 300.7h0M197.5 387.7h0M184.9 310.9h0M188.2 334.7h0M186.4 328.8h0M173.8 285.7h0M211.6 268.4h0M127.5 256.5h0M158.7 282.4h0M162.2 278.8h0M168.6 262h0M191.8 337h0M225.5 334h0M170.9 380.8h0M223.2 321.6h0M177.3 380.7h0M181 352h0M203.5 336.6h0M189.7 327.7h0M167.5 278.5h0M188.4 325.3h0M178.6 294.1h0M223.8 380.5h0M179.2 290.8h0M143.6 286.1h0M187.7 384.3h0M222.6 343h0M211.1 299.8h0M218.7 358.1h0M190.6 278h0M164 249.3h0M157.9 301.1h0M161.5 280.3h0M142.6 258.7h0M190.7 252.3h0M178.1 331h0M180.9 298.2h0M173 367.3h0M128.3 259.6h0M224.9 374.7h0M210.1 348.8h0M191.6 310.9h0M208.6 356.4h0M183.6 332h0M183.5 338.2h0M146.4 299.8h0M159.2 315.3h0M194.1 272h0M167.1 293.2h0M140.9 280h0M198.7 381.4h0M149.4 296.1h0M135.1 259.2h0M198.9 363.8h0M152.5 280h0M142.7 282.7h0M235.2 382.5h0M207.3 302.3h0M194.1 334.9h0M223.2 336.4h0M148 248.7h0M171.1 306.5h0M208.7 318.7h0M172.9 273.8h0M210.3 341.5h0M144.6 368.9h0M163.6 250.6h0M181.9 364.3h0M156.2 257.7h0M126.3 254.4h0M162.6 317.9h0M212.7 361.6h0M198.6 324.2h0M189.8 311.7h0M186.1 279.9h0M179.6 246.3h0M208.3 362h0M197.3 387.7h0M145.7 253.4h0M194.3 381.7h0M137.3 252h0M141.8 267.8h0M156.2 256.1h0M139.8 330.5h0M173.8 361.3h0M152.7 302h0M194.4 321.1h0M192.9 289.4h0M208.3 366.4h0M184.9 324.2h0M148.6 260.9h0M193.5 301.3h0M175.4 263.8h0M154.8 282.4h0M202.6 372.8h0M178.5 297.5h0M220.8 366.6h0M196.8 378.1h0M205.1 310.3h0M226.8 389h0M193.9 385.7h0M188.7 341.3h0M178.2 355.7h0M151.3 289.9h0M200.9 345.7h0M227.6 354.4h0M202.1 304.1h0M180.9 315.5h0M156.3 268.6h0M150.7 268.8h0M168.3 257.5h0M192.1 364h0M219.6 378.7h0M167.8 284h0M196.2 330.6h0M193.2 383.6h0M224.3 318.3h0M217.3 338.6h0M204 364.2h0M152.7 290.1h0M182.6 284.4h0M210.9 345h0M147.3 291.5h0M198.9 352.2h0M202.3 257.2h0M194.6 331.7h0M177 321.7h0M212.3 357.8h0M227.1 325.3h0M185.1 342.9h0M159.3 275.8h0M198.9 369.5h0M183.4 318.6h0M219.2 339.6h0M166.4 252.9h0M124.8 303.1h0M185.8 314.4h0M210.4 361.9h0M217.6 369.4h0M178 302.3h0M158 259.9h0M216.6 376.5h0M177 332.3h0M158 338.6h0M192.3 380.1h0M148.3 295.9h0M262.4 317.4h0M181.4 320.2h0M203.6 282.7h0M142.5 298.6h0M172.5 353.7h0M172.6 266.8h0M123.5 253.6h0M157.7 290.4h0M162.8 369.3h0M179.7 298.6h0M167.7 385h0M191.8 345.7h0M149.8 325.9h0M196.6 322.8h0M190.1 275.7h0M175.3 308h0M149.8 286.7h0M195.6 323.8h0M191.5 288.3h0M217.2 362.9h0M186.3 261.6h0M205 270.7h0M163.9 260.2h0M153.3 256.9h0M155.1 279.7h0M193.1 342.7h0M148.5 254.9h0M155.4 273.6h0M191.8 321.7h0M245.6 377.4h0M142.2 258h0M187.8 356.4h0M193.4 363.2h0M151 310.6h0M188.4 273.5h0M191.6 349.5h0M214 366h0M135.3 284.1h0M185.4 312.1h0M168.5 305.8h0M140.6 307.4h0M208.2 279.8h0M187.5 278.3h0M199.8 350.2h0M199.5 332.3h0M137.3 248.3h0M186.1 270.7h0M168.5 313.1h0M202.1 339.3h0M174.6 266.5h0M207 354.2h0M164.6 318.8h0M184.9 307.2h0M171.5 281.2h0M225.5 286.8h0M154.3 287.8h0M222.8 370.7h0M203.6 344.5h0M168.8 278.3h0M215.9 314.9h0M175.6 259.5h0M192.3 378h0M164.5 255.9h0M164.9 319.3h0M171.7 353.2h0M192.1 370.5h0M192.6 371.4h0M194.1 257.2h0M185.6 281.8h0M106.5 247.2h0M160.2 268.9h0M173 328.8h0M193.4 353.4h0M186 320.3h0M197.8 354.6h0M209.7 363.9h0M156.3 311.7h0M201.1 304.7h0M155.7 259.3h0M192.9 276.2h0M200.2 387h0M208.6 357.3h0M150.4 305.2h0M193.5 292.9h0M164.1 256.1h0M164.3 311.3h0M194.8 325.9h0M212 387.1h0M153 324.8h0M148.4 270.5h0M181.4 369.9h0M192 314.2h0M162.2 258.8h0M144.5 259.8h0M187.5 386.1h0M191 339.3h0M149.2 357.1h0M152.9 245.9h0M197.6 271.4h0M164 347h0M165.5 336.5h0M145.5 294.7h0M212 382.3h0M186.6 370.7h0M206.6 277h0M190.1 349h0M186 354.1h0M137.5 264.3h0M183.9 285.2h0M180.6 257.4h0M172.9 284.7h0M204.7 316.1h0M221.9 351.7h0M177.3 295.4h0M174.6 312.4h0M158.5 287.1h0M174.7 292.7h0M162.4 285.6h0M234.9 377.1h0M215.7 360.9h0M154.5 254.3h0M161.8 293h0M53.6 259.4h0M69.8 278.2h0M85.9 247.6h0M94.9 257.3h0M91.3 271.3h0M98.5 244.8h0M105.7 244.1h0M102.1 299.8h0M100.3 360.3h0M118.3 391.6h0M262.1 263.6h0M231.5 276.1h0M229.7 258h0M247.7 340.1h0M249.5 361.7h0M247.7 386h0" stroke="#FF0000" stroke-width="2.8" stroke-linecap="round" fill="none"/>
<rect x="35.6" y="234.4" width="227.2" height="166.9" fill="none" stroke="#7f7f7f" stroke-width="1"/>
<path d="M35.6 401.3v-2.2M35.6 234.4v2.2M71.5 401.3v-2.2M71.5 234.4v2.2M107.5 401.3v-2.2M107.5 234.4v2.2M143.4 401.3v-2.2M143.4 234.4v2.2M179.4 401.3v-2.2M179.4 234.4v2.2M215.3 401.3v-2.2M215.3 234.4v2.2M251.3 401.3v-2.2M251.3 234.4v2.2M35.6 401.3h2.2M262.8 401.3h-2.2M35.6 373.5h2.2M262.8 373.5h-2.2M35.6 345.7h2.2M262.8 345.7h-2.2M35.6 317.9h2.2M262.8 317.9h-2.2M35.6 290h2.2M262.8 290h-2.2M35.6 262.2h2.2M262.8 262.2h-2.2M35.6 234.4h2.2M262.8 234.4h-2.2" stroke="#7f7f7f" stroke-width="0.8" fill="none"/>
<g style="font-family:'Liberation Sans', sans-serif;font-size:10px;fill:#000"><text x="35.6" y="415.1" text-anchor="middle">-400</text><text x="71.5" y="415.1" text-anchor="middle">-300</text><text x="107.5" y="415.1" text-anchor="middle">-200</text><text x="143.4" y="415.1" text-anchor="middle">-100</text><text x="179.4" y="415.1" text-anchor="middle">0</text><text x="215.3" y="415.1" text-anchor="middle">100</text><text x="251.3" y="415.1" text-anchor="middle">200</text><text x="31.7" y="405.1" text-anchor="end">-600</text><text x="31.7" y="377.3" text-anchor="end">-400</text><text x="31.7" y="349.5" text-anchor="end">-200</text><text x="31.7" y="321.7" text-anchor="end">0</text><text x="31.7" y="293.8" text-anchor="end">200</text><text x="31.7" y="266" text-anchor="end">400</text><text x="31.7" y="238.2" text-anchor="end">600</text></g>
<text x="149.2" y="230.8" text-anchor="middle" style="font-family:'Liberation Sans', sans-serif;font-weight:bold;font-size:8.4px">[PRCC , p-value, Time] = [-0.55082 , 2.0301e-80, 100].</text>
<path d="M509 316.2h0M506.2 341.3h0M485.4 334.4h0M482.7 341.4h0M502.1 253.5h0M523.5 301h0M527 290.7h0M476.9 349.6h0M506.3 287.1h0M403.7 371.2h0M462.8 388.2h0M509 269.4h0M426.7 386.5h0M523 245.7h0M517 268.9h0M523 273.7h0M455.4 384.2h0M478.9 357.5h0M502.3 282h0M502.1 324.3h0M509.8 301.4h0M446.8 365.6h0M454.4 366.6h0M518.9 321.9h0M529.6 282.3h0M517.5 309.9h0M471 373.6h0M467 262.6h0M466.2 370.3h0M529.4 323.1h0M510.6 294h0M488.1 339.3h0M488.9 328.1h0M526.7 271.1h0M504.5 322.9h0M495 308.7h0M528.2 253.3h0M488.4 346.3h0M527.2 273.3h0M499.4 342h0M470.3 350.3h0M530.7 262.7h0M441.7 384.7h0M521.2 271.6h0M518.5 265.9h0M524 269.9h0M436.7 379.5h0M462.2 351.3h0M535.6 281.5h0M477.3 332.5h0M439.2 390.4h0M526.1 294.6h0M522.7 280.4h0M522.6 251h0M459.7 369.1h0M464.8 340.1h0M527.8 264.8h0M433.5 376.4h0M482 348.7h0M491.3 318.3h0M516.6 325.4h0M501.6 312.9h0M520.9 270.5h0M535.9 292.4h0M498.8 297.4h0M506.5 305h0M436.3 354h0M496.4 325.5h0M521.6 244h0M514.6 262.4h0M528.1 280.4h0M530.4 315.3h0M535.6 257.1h0M520.8 307.4h0M514.1 334.7h0M495.6 319.6h0M450.8 365.5h0M512 314.9h0M516.1 349.6h0M503.9 273.7h0M502.4 266.1h0M526.9 252.3h0M534.1 277.5h0M457.2 384.2h0M525.8 279.9h0M518.9 276h0M544.7 276.4h0M500.5 316.7h0M524 323.4h0M529.5 312.2h0M483.2 366.5h0M552.2 260.5h0M560.2 245.5h0M469 350h0M523 257.6h0M440.4 371.4h0M404.7 383.8h0M499.5 291.7h0M519.4 271.3h0M479.1 364.8h0M531.1 257.1h0M452.6 333.5h0M465.2 366.1h0M465.1 346h0M489.3 373h0M508 276.5h0M496.6 355.7h0M541.2 290.4h0M533.4 326.3h0M466.1 362.9h0M515.6 300.3h0M521 255h0M472.6 359.8h0M547.9 261.9h0M410.1 378.6h0M499.4 309.8h0M469.5 364.5h0M518.9 254.1h0M489.9 312.2h0M538.6 260.8h0M511.6 297.4h0M489.1 333h0M442.2 362.5h0M521.7 261.3h0M534.4 269.7h0M515.8 280.9h0M534.9 280h0M431.8 385h0M454.2 360.9h0M508.8 310.9h0M428.8 378.6h0M488.8 299.3h0M531.3 260.4h0M509.9 339.5h0M539.8 292.8h0M426.1 366.1h0M534.2 273.5h0M534.2 254.8h0M521 279.9h0M514 316.7h0M518.6 341.8h0M460.9 379.1h0M526.6 282.2h0M519.8 262h0M535.9 311.9h0M517.8 283.3h0M499.6 355.2h0M512.3 284.1h0M478.7 353.4h0M514 290.1h0M432.3 394.2h0M520.3 335.5h0M449 354.1h0M473.3 381.7h0M465.9 353.3h0M552.8 263.6h0M466.9 347.4h0M458.2 375.3h0M521.4 301.7h0M495.6 279.4h0M489.6 342.5h0M524 264.6h0M520.5 293h0M505.3 311.5h0M510.7 256.3h0M490.1 284.2h0M501 306.5h0M472.7 352.3h0M502.3 311h0M524.6 300.7h0M523.6 268h0M500.3 259.5h0M424.5 382h0M523.6 319.4h0M532.8 262.4h0M498.3 335.4h0M516.3 271.7h0M496.9 357.8h0M511.1 268h0M456.3 362.6h0M501.6 353.1h0M439.7 356.3h0M486.3 369.3h0M505.3 299h0M526.7 272.7h0M460 363.9h0M435.7 359.3h0M499.7 339.1h0M478.5 340.8h0M510.1 301.7h0M455.3 381.2h0M513.5 304.4h0M508.9 315.9h0M490.4 372.3h0M473.7 331.3h0M535.1 331.6h0M415.6 378.4h0M486.1 342.5h0M512.9 298h0M516 264.3h0M538 244.7h0M509.3 288.1h0M499.6 331h0M524.8 363.9h0M509.5 289.6h0M546.2 312.5h0M502.1 268.5h0M489.5 355.6h0M514.5 303.7h0M466.8 377.8h0M446.9 341.8h0M465.1 327.7h0M531.1 270.7h0M508.9 338.8h0M521.2 305.6h0M520.5 247.7h0M530.8 263.9h0M513.1 316.6h0M458.5 362.3h0M543.1 295.2h0M517.4 283.9h0M500.6 310.5h0M523.1 286.2h0M454.9 361.3h0M481.4 357.1h0M436 374.1h0M428.2 380h0M490.8 328.8h0M535.4 276.6h0M495.2 329.6h0M546.8 261.9h0M517.7 342.3h0M480.4 328.3h0M516.7 264.3h0M530 302.9h0M503.3 312.8h0M477.3 349.1h0M478.6 387.9h0M494.6 365.4h0M484 361.8h0M465.3 333.2h0M495 346.4h0M482.2 309.1h0M477.5 360.9h0M521.6 290.8h0M552.2 250.2h0M502 273.7h0M510.3 315.7h0M493.8 346.2h0M526.6 278.1h0M530.6 268.9h0M474.6 381h0M530.1 270.5h0M521 254.5h0M455.9 368.7h0M486.7 370.5h0M509.5 296.9h0M473.1 320.1h0M416.9 377.8h0M491.3 307.3h0M483.2 271.1h0M522 286.7h0M461.7 374.1h0M391.3 389.9h0M490.9 315.7h0M529.8 299.1h0M532.9 251.1h0M515.9 287.3h0M546.9 299.7h0M511.7 264.1h0M544.3 333.4h0M467.3 370.5h0M413 372.2h0M472.7 339.1h0M522.3 273.2h0M494.4 314.6h0M440.8 378.9h0M522.8 257h0M525.1 274.1h0M433.5 384.2h0M529 277.6h0M462.6 365.1h0M408.6 389h0M490.4 331.4h0M494.9 294h0M501.9 345.5h0M475.1 326.4h0M513.5 267.9h0M445.2 374.7h0M520.2 298.7h0M511.7 348.5h0M413.6 383.6h0M511.2 286.8h0M508.4 288.1h0M484.9 330.2h0M444.1 316.2h0M498.8 331.8h0M482.4 298.1h0M476.7 383h0M475.4 373h0M468.8 382h0M497.6 373.8h0M505.3 313.3h0M481.7 334.7h0M482.8 297.4h0M525.3 314.9h0M530 280.7h0M507.2 290.7h0M418.4 381.7h0M456.4 378.5h0M516.5 297.7h0M502.2 275.2h0M541.6 273.5h0M418.5 379.5h0M518.7 306h0M426.2 365.3h0M466.7 343.6h0M522.7 269.3h0M492.5 304.7h0M546.1 270.7h0M478.3 302.9h0M515.4 260.9h0M434.9 358h0M496.2 320.8h0M540.5 262.2h0M521.4 280.4h0M438.8 381.2h0M497.5 359.7h0M467.7 332h0M490.6 299.7h0M451.6 347.6h0M553.2 275.3h0M493.9 276h0M548.8 332h0M462 354.2h0M468.9 357.5h0M452 369.1h0M519.3 315.9h0M499.2 309.9h0M515 273.2h0M499.1 318.5h0M506.7 305.8h0M434.4 354.5h0M526 247.6h0M483.8 323.5h0M470.2 371.2h0M480.7 340.3h0M537.9 284.5h0M459.3 344.5h0M527.6 249.6h0M506.8 306.4h0M545.6 274h0M518.6 301.3h0M508.3 298.4h0M498.9 323.2h0M508.8 273.9h0M549.1 277.2h0M551 274.5h0M506.3 309.1h0M508.9 270.7h0M524.6 278.2h0M490.3 355.8h0M419 382.7h0M514.8 267.5h0M483.1 336.3h0M448 373.4h0M527.1 270.2h0M504.6 269.4h0M482 298.4h0M506.5 368h0M514.4 270.5h0M512.5 316.1h0M441.7 374.4h0M470.5 362.5h0M475.7 365.5h0M519.4 263.2h0M557.3 268.5h0M532.6 255.5h0M477 346.9h0M509.5 305.5h0M508.5 304.5h0M491.4 331.9h0M465.6 383.2h0M471.3 379.1h0M440.8 381.6h0M505 323.9h0M469.2 336.3h0M441.2 390h0M427.1 389h0M480.2 331.7h0M504 300.4h0M529.1 314.3h0M503 277.6h0M493.4 306h0M454.7 379.3h0M470.5 368.1h0M491.6 333.8h0M489.1 309.9h0M511.9 265.2h0M548.9 268.8h0M503.9 254.1h0M524.7 262.1h0M512.3 331.1h0M520.4 303.1h0M561.8 378.4h0M529.8 252.8h0M504 298.7h0M431.8 377.9h0M518.7 260.2h0M561 281.6h0M510.7 244.3h0M447.8 382.2h0M479.2 334.3h0M451.2 374.1h0M552.8 251.2h0M462 371.8h0M519 295.5h0M504.8 294h0M482.8 307.1h0M490.7 315.4h0M469 339.8h0M518.6 273.1h0M478.5 301.2h0M473.8 354h0M536.2 290.8h0M504.3 296h0M513.5 325.8h0M517.8 290.2h0M463.2 363.7h0M493.9 328.3h0M527.8 282.7h0M545.1 270.3h0M490 281.8h0M539.5 252.2h0M489.1 332.3h0M528.2 260.8h0M533.7 281.7h0M519.2 284.8h0M565.5 351.2h0M470 381.1h0M511.6 286.6h0M452.1 390.3h0M490.4 294.1h0M442.3 386.5h0M454.7 364.7h0M481.6 332.2h0M534.8 275.2h0M495.3 340.2h0M515.9 263.1h0M530.4 252.4h0M516.5 281.8h0M490 338.4h0M471.7 327.8h0M517.9 253.3h0M517 309.8h0M514.3 310.6h0M511.5 303.5h0M432.8 371.5h0M515.8 248.4h0M474.1 297.8h0M500.6 286.8h0M537.8 277.5h0M534.1 317.6h0M485.8 350.1h0M522 266.1h0M447.5 355.4h0M499.3 335.2h0M506.4 291.5h0M538.2 327.6h0M514.7 315.9h0M475.3 355.2h0M500.9 262.4h0M543.4 268.2h0M505.9 320.2h0M554.6 256.7h0M530.6 272.8h0M511.3 295.4h0M481.1 367h0M446.6 394.3h0M517.6 254.7h0M544.8 255.7h0M542.4 303.3h0M496.3 314.1h0M478.2 292.9h0M513.3 329.2h0M490.4 344.7h0M491.1 341.6h0M487.3 324h0M533.9 311.9h0M383.4 388.2h0M509.3 348.7h0M501.3 308.8h0M491.6 266.4h0M495.7 308.3h0M481.4 350.7h0M538.7 270h0M477.9 351.6h0M528 244.5h0M537.7 285.1h0M491.1 358.6h0M548.4 297.2h0M472.8 346.2h0M530.2 260.7h0M497.8 314.7h0M458.2 374.9h0M482.5 313.8h0M507.9 313.3h0M498.6 274.2h0M531 251.2h0M537.4 293.2h0M508.4 321.2h0M510.3 313h0M463.3 365.4h0M496.5 284.4h0M493.2 318.4h0M491.5 329.3h0M481.5 286.6h0M519.1 328.3h0M487 289.1h0M464.1 346.8h0M426.4 362.3h0M499.5 318.4h0M487.2 260.4h0M433.6 366.4h0M427.5 373.1h0M476.9 340.7h0M500.8 266.4h0M517.8 329.3h0M491.3 339.2h0M517.2 335.9h0M485.9 332.5h0M516.8 312.7h0M495.2 332.6h0M468.6 366.5h0M538.9 291.1h0M496.5 368.5h0M512.5 309h0M501.9 319h0M394.1 386h0M466.4 360.7h0M509.5 275.8h0M548.7 264.2h0M517.3 254.8h0M469.4 365.3h0M514.4 286.4h0M477.1 342h0M494.7 358.4h0M457.7 352.4h0M529.2 271h0M498.7 251.6h0M494.6 319.1h0M548.1 257.9h0M453.8 371.6h0M444.7 384.8h0M508.8 320.3h0M523.8 262.1h0M407.3 318.4h0M445.4 354.9h0M538 251.4h0M513.9 298.8h0M458.1 345.7h0M457.8 311h0M531.4 297.4h0M430.6 382.4h0M500.1 319h0M503.9 299.6h0M424.9 381.2h0M472.2 365h0M450.4 384.7h0M466.4 359.6h0M434.5 386.1h0M490.2 318.6h0M538.7 273.8h0M418.9 375.7h0M525.1 267.5h0M489.3 356.1h0M473 379.5h0M502.9 322.7h0M496.7 343.8h0M492.7 332.1h0M468.2 346.7h0M519.6 279.4h0M513.2 335.1h0M531.4 266.6h0M496.1 290.1h0M517.4 284.4h0M536.7 281.2h0M488.6 358.9h0M543.9 261.3h0M510.3 306.2h0M424.7 391.8h0M408.2 355.8h0M541.3 263.3h0M487.9 293.4h0M413 398.3h0M442.6 367h0M514.3 253.6h0M491.3 357.2h0M473.4 325h0M509.9 318h0M398.4 391.2h0M495.4 333h0M515 308.4h0M423.2 391.8h0M497 323.3h0M515.7 279.6h0M507.3 291.3h0M487.1 356.8h0M503.4 332.4h0M463 359.9h0M539.8 325.3h0M480.8 336.7h0M530 330.4h0M511.6 291.2h0M493.6 365.6h0M540.5 249.8h0M511.6 285.6h0M533.5 266.2h0M532.6 334.5h0M484.8 304.2h0M492.9 295.3h0M513.2 255.1h0M543.9 286.3h0M513.1 319h0M442.9 371.8h0M515 282.1h0M529.5 251.3h0M502.2 290.9h0M501.6 316.2h0M434.3 390.1h0M541.2 249.5h0M535.8 267.7h0M502.7 304.1h0M504.9 310.9h0M497.2 287.6h0M516.7 280.3h0M489 345.2h0M459.9 369.5h0M508.2 327.5h0M445.3 364.2h0M522 323.4h0M518.5 288.5h0M516.6 336.2h0M486.5 323.8h0M460.6 366.7h0M527.3 251.7h0M459.3 359.8h0M557 264.6h0M473.6 358.8h0M503.5 262.5h0M475.7 375.4h0M499.8 305.6h0M515.6 302h0M481.5 367.4h0M491.4 310.7h0M528.9 315.3h0M533.7 265.8h0M416.5 377.3h0M525.4 316.3h0M411.7 389.7h0M507.8 278.1h0M490.9 375h0M500 273.1h0M478.5 284.7h0M527.1 256.3h0M503 314.7h0M436.4 372.9h0M531.8 285.4h0M405 383.9h0M438.7 370.4h0M497.3 350.3h0M483.2 309.8h0M423.8 380.5h0M501.3 312.2h0M451.7 355.4h0M451.7 354.4h0M524.3 249h0M497.9 314.8h0M523.6 249.5h0M500.6 293.5h0M497.5 336.5h0M526.1 272h0M523.8 297.4h0M471.1 348.5h0M466.5 351.9h0M468.3 340.1h0M495.4 340.3h0M534.7 263.9h0M535.8 261.1h0M462 381h0M517.9 330.7h0M501.4 366h0M523.1 273h0M513.8 321.4h0M486.3 328h0M522.5 287.8h0M532.5 275.6h0M413.6 392.5h0M504.9 369h0M468.3 373.9h0M536.7 254.3h0M497.3 340h0M518.1 354.4h0M487 350.8h0M487.5 364.5h0M478.4 360.4h0M486.1 338.6h0M520.8 268h0M479.6 343.2h0M427.6 388.3h0M508.8 339.3h0M486.8 329.4h0M518 269.3h0M526.9 293.9h0M527.7 312.2h0M485.1 350h0M448.4 375.5h0M444.1 362.8h0M502.3 342.4h0M513.7 260.2h0M415 393.1h0M512.7 328.9h0M505.5 297.9h0M461.9 378.8h0M515.1 315.9h0M509.1 279.8h0M506.9 309.4h0M514.1 341.2h0M529.9 257.9h0M507.5 323h0M488.7 307.5h0M490 340.1h0M536.5 283.1h0M476 346h0M513.9 314h0M516 330h0M538.7 334.8h0M403.5 356.6h0M502.4 351.2h0M524.7 317.4h0M509.3 312.4h0M514.4 358.8h0M494.4 296.8h0M504 259.8h0M512.2 294.5h0M522.3 302.2h0M506.4 270.7h0M513 296.9h0M475.2 347.4h0M501.8 372.3h0M467.1 354.7h0M528.2 317.8h0M442.6 350h0M459.7 369.8h0M524.2 260.9h0M503.4 267.9h0M437 382.1h0M507 326.5h0M523.8 243.8h0M519.6 248.3h0M480.9 349.8h0M482.9 358.5h0M487.4 355.6h0M415.1 391.7h0M532.6 278.8h0M521.7 262.9h0M502.4 381.2h0M523.4 260.9h0M489.7 346.9h0M472 340.1h0M537.4 292.9h0M440.9 381h0M525.8 272.3h0M492 360.1h0M429 380.1h0M496.1 339.9h0M467.5 356.8h0M483.1 332.5h0M431.6 371.1h0M468.6 323.9h0M500.6 287.3h0M458.6 337.1h0M513.9 326h0M469.6 340.5h0M529.3 357.5h0M516.2 276.3h0M499 303.1h0M539.9 280.5h0M507.3 321.8h0M509.9 295.2h0M496.9 326h0M527.6 321.8h0M496.6 307.8h0M473.4 335.5h0M486.9 341.4h0M447.4 384.8h0M487.9 277.1h0M421.2 376.9h0M485.6 325.8h0M487.4 333.1h0M445.9 379.2h0M464 330.2h0M495.6 321.5h0M485.2 291.7h0M474.3 371.5h0M490 333h0M536.2 248.8h0M529.1 312.9h0M505.6 324.8h0M505.5 319.8h0M420.9 385.9h0M517.9 250.4h0M482.2 361.6h0M547.6 281.7h0M506.4 363.8h0M496.4 309.9h0M425.1 379.7h0M500.3 372.7h0M515.7 291.7h0M437.4 371.2h0M544.2 312.9h0M507.2 305h0M507.5 292.2h0M503.4 268.9h0M531 281.6h0M524.3 304.9h0M521.3 341.7h0M519.2 295.4h0M462.8 362.5h0M489.9 345.8h0M481.9 355.9h0M478.1 348.4h0M458.2 348.6h0M498 293.8h0M526.2 240.9h0M501.8 311.5h0M548.5 257.7h0M509.1 316.2h0M508.1 304h0M481.5 322.3h0M472.4 372.5h0M517.8 276.6h0M500.4 352.6h0M494.3 340.4h0M454.2 395.1h0M487 343.8h0M519.4 313.8h0M503.4 355.9h0M473.1 352.5h0M537.1 294.7h0M509.7 307.5h0M543.7 314.2h0M516.7 346h0M506.5 349.7h0M523 318.6h0M515.8 354.6h0M458.1 366.1h0M529.5 297.8h0M493.1 339.9h0M460.6 378.5h0M531.5 269.5h0M512.8 342.6h0M480.5 341h0M488.2 323.5h0M496.3 288.5h0M525.2 293.5h0M461.1 363.9h0M524.8 297.3h0M517.3 334.4h0M538.4 278.7h0M501.5 248h0M530.8 247.2h0M517.3 295.6h0M481.6 332h0M498.7 273.6h0M530.4 261.8h0M535.7 338.9h0M418.6 360.8h0M478.1 352.3h0M500 342.2h0M446.1 339.8h0M530.1 330.3h0M460.3 356.1h0M524.3 317.6h0M527.2 366.2h0M513.1 311.7h0M461.1 351.8h0M509.3 309.3h0M450.1 371.1h0M520.6 307.7h0M477 337.4h0M540.7 258.9h0M444 372.2h0M476.7 326.7h0M511.4 336.8h0M469.9 335.7h0M532.3 298.2h0M435.4 388.4h0M458.6 336.9h0M473.4 340.5h0M515 259.7h0M507.5 250.5h0M521.3 272.3h0M483.5 279.2h0M526.1 245.3h0M532.9 251.5h0M512.2 299.7h0M437.5 380.7h0M517.7 263.1h0M512 322.4h0M419.6 389.9h0M464.6 365.7h0M470.4 311.8h0M499.7 292.8h0M532.5 244.5h0M518.8 269.8h0M523.8 271.6h0M430.4 392.7h0M519.6 337.9h0M509.4 278.6h0M494.6 273.9h0M502.8 353.8h0M511.8 307.7h0M456 359.2h0M432 369.5h0M490.6 272.7h0M472.6 341.5h0M519.7 262.5h0M493.7 394.1h0M517 261.2h0M515.3 274.1h0M488.4 324.1h0M484.3 313.3h0M491.5 345.9h0M508.8 314.4h0M512.9 284.3h0M527.1 289.2h0M482.6 310h0M462.4 366.7h0M474 349.6h0M532.5 256.9h0M480.3 332.6h0M485.6 335h0M473 347.3h0M524.8 261.1h0M487 334.7h0M498.3 313.2h0M476.9 330.2h0M453.8 357.7h0M501.3 345.7h0M464.1 350h0M533.6 270.9h0M550.2 249.5h0M537.4 283.6h0M518.1 323h0M516 302.7h0M514.8 317.4h0M521.7 263.7h0M455 369.6h0M441.7 380.2h0M486.5 281.8h0M489.9 326.5h0M540.7 287.5h0M504.2 258.6h0M434.4 368.3h0M487.8 282.3h0M525.4 287.2h0M541.4 293.7h0M514 335.9h0M506 298.7h0M518.1 316.5h0M460 377h0M518 310.5h0M406.4 389.8h0M501.7 346.5h0M499.5 298.5h0M526.4 266.3h0M532.9 259.5h0M504.9 342.2h0M485.3 381.9h0M545.7 253.7h0M444 379.1h0M551.2 283.1h0M435.8 361.8h0M509.4 277.9h0M449.6 381.3h0M532.5 258.3h0M439.7 384.8h0M510.5 300.9h0M544.1 269.7h0M431.8 363.7h0M494.8 329.5h0M470.6 346.5h0M524 253.3h0M502.2 301.5h0M528.5 267.7h0M543.2 242.8h0M534.4 311.5h0M346.3 383.8h0M354.3 388.2h0M378.9 389.6h0M386.2 386.7h0M388 390.4h0M433.3 255.6h0M447.7 240.4h0M438.7 298.3h0M444.1 301.2h0M458.6 250.5h0M456.8 261.4h0M445.9 319.4h0M464 266.5h0M570.9 297.6h0M560 300.5h0M554.6 336.7h0M549.2 396.2h0M553.5 315.7h0M455 396.2h0" stroke="#0E96FF" stroke-width="2.8" stroke-linecap="round" fill="none"/>
<rect x="345.6" y="232.4" width="227.1" height="173.9" fill="none" stroke="#7f7f7f" stroke-width="1"/>
<path d="M346.3 406.3v-2.2M346.3 232.4v2.2M382.5 406.3v-2.2M382.5 232.4v2.2M418.8 406.3v-2.2M418.8 232.4v2.2M455 406.3v-2.2M455 232.4v2.2M491.2 406.3v-2.2M491.2 232.4v2.2M527.4 406.3v-2.2M527.4 232.4v2.2M563.6 406.3v-2.2M563.6 232.4v2.2M345.6 406.3h2.2M572.7 406.3h-2.2M345.6 377.3h2.2M572.7 377.3h-2.2M345.6 348.3h2.2M572.7 348.3h-2.2M345.6 319.4h2.2M572.7 319.4h-2.2M345.6 290.4h2.2M572.7 290.4h-2.2M345.6 261.4h2.2M572.7 261.4h-2.2M345.6 232.4h2.2M572.7 232.4h-2.2" stroke="#7f7f7f" stroke-width="0.8" fill="none"/>
<g style="font-family:'Liberation Sans', sans-serif;font-size:10px;fill:#000"><text x="346.3" y="420.1" text-anchor="middle">-400</text><text x="382.5" y="420.1" text-anchor="middle">-300</text><text x="418.8" y="420.1" text-anchor="middle">-200</text><text x="455" y="420.1" text-anchor="middle">-100</text><text x="491.2" y="420.1" text-anchor="middle">0</text><text x="527.4" y="420.1" text-anchor="middle">100</text><text x="563.6" y="420.1" text-anchor="middle">200</text><text x="341.7" y="410.1" text-anchor="end">-600</text><text x="341.7" y="381.1" text-anchor="end">-400</text><text x="341.7" y="352.1" text-anchor="end">-200</text><text x="341.7" y="323.2" text-anchor="end">0</text><text x="341.7" y="294.2" text-anchor="end">200</text><text x="341.7" y="265.2" text-anchor="end">400</text><text x="341.7" y="236.2" text-anchor="end">600</text></g>
<text x="459.2" y="229.2" text-anchor="middle" style="font-family:'Liberation Sans', sans-serif;font-weight:bold;font-size:8.4px">[PRCC , p-value, Time] = [0.73891 , 2.5535e-173, 100]</text>
<path d="M797.4 311.4h0M751.3 264.1h0M752.1 279.4h0M822.3 357.7h0M816.5 352.3h0M789.2 262.4h0M845 394.9h0M764.2 275.6h0M770.3 275.9h0M777.4 321.9h0M813.7 352.9h0M813.9 356h0M842.7 359.1h0M798.6 330h0M768.6 325.9h0M779.4 309.5h0M761.8 251.5h0M755.5 277.1h0M776.2 308.3h0M754.3 248.8h0M819.5 362.2h0M818.6 374.2h0M769.1 296.1h0M818.2 387.5h0M816.5 382h0M784.7 315.5h0M780.1 330.4h0M754.9 262.9h0M791.7 301.2h0M772.4 319.9h0M792.8 322.5h0M823.8 360.7h0M821.5 402.7h0M821.2 368.5h0M744.4 304.7h0M833.7 364.5h0M820.5 344.9h0M829.8 398.6h0M747.9 274.9h0M805.3 371.7h0M828.6 363.3h0M793.6 274.8h0M798.7 326h0M790.4 281.1h0M778.4 306.4h0M770.5 279.2h0M825 387.3h0M795.4 313.1h0M776.7 327.7h0M779.3 266.3h0M823 344.2h0M772.5 308.2h0M805.9 384.3h0M802.1 330.4h0M774.3 347.4h0M787.9 373.1h0M784.3 280.5h0M784 337.2h0M731.1 253.2h0M803 305.1h0M788.4 307.1h0M769.8 293.7h0M787.2 305.9h0M807.1 375h0M785.9 326.8h0M820.1 362.2h0M796.4 340.4h0M817.9 382.8h0M786 260.2h0M810.1 363.6h0M786.5 285.4h0M813.7 346.1h0M776.4 272.7h0M802.9 302.7h0M822.7 378.3h0M780.3 266.8h0M751.8 260.9h0M763.6 266.3h0M741.7 307.8h0M814.1 370.2h0M825.4 369.2h0M785.3 264.8h0M785.2 322h0M820.1 372.6h0M767.1 276.6h0M772 297.9h0M749.5 315.1h0M803.1 338.2h0M773.4 326.4h0M812.8 354.9h0M826.6 395.6h0M756.6 262.9h0M780.6 321.5h0M774.9 318.9h0M824 353h0M730.2 285.9h0M847.9 399.7h0M790.1 334h0M797.9 402.8h0M808.3 383h0M775.5 255h0M793.4 300.2h0M786.7 332h0M788 317.5h0M781.9 268.6h0M807.6 339.7h0M817.6 319.3h0M773 295.3h0M814.3 347h0M776.5 318.9h0M802.1 282.3h0M757.4 266.6h0M792 376.6h0M760.1 254.9h0M824.2 393.3h0M802.5 288.4h0M762.8 266.9h0M815.8 364.6h0M811.8 341.2h0M791.8 274.6h0M823 381.6h0M796 299.7h0M779.4 278.2h0M789.5 321.4h0M779.8 291.7h0M815.8 363.5h0M805.8 369.2h0M818.4 338.8h0M800.5 371.3h0M822.6 347h0M777.6 262.3h0M788.1 311.8h0M798.8 350.1h0M809.2 356.7h0M766.3 250.9h0M806 328.7h0M763.1 249.3h0M804.6 318.3h0M785.3 318.9h0M749.4 264.7h0M756.5 288.1h0M779.6 306.8h0M804.4 338.3h0M758.6 260.3h0M815.4 335.1h0M774.8 263.8h0M786.7 388h0M801.4 335.8h0M773.9 318.7h0M777.8 259.5h0M843.7 353.4h0M767.1 281.1h0M787.7 307.3h0M776.5 293.9h0M794.4 312.9h0M769.5 253.2h0M821.1 341.8h0M787.3 334.1h0M841.3 372.3h0M813.2 391.9h0M815.5 355.9h0M779.1 259.8h0M779.2 272.3h0M808 374.1h0M771.2 295.3h0M786.6 319.1h0M786.3 307.7h0M796.3 297.2h0M790.6 347.7h0M769 257.5h0M806.6 332.4h0M791.6 303.2h0M774.4 307h0M838.9 369h0M831.4 386.2h0M805 324.1h0M784.3 287.6h0M795.5 276.6h0M721.5 289.3h0M839.8 377h0M759 256.6h0M769.8 280.3h0M756.3 270.8h0M771.9 326.7h0M761.6 265.7h0M815.4 386.3h0M832.5 391.1h0M776.5 397.6h0M833.2 360.4h0M817 359.1h0M813.2 365.8h0M782 315.3h0M815 391.2h0M777.6 317.7h0M814.8 376.9h0M777.4 288.4h0M824.3 403.1h0M791.1 351.7h0M759.1 256.9h0M756.2 318.5h0M775.7 280.4h0M806.6 299.4h0M794.1 306.1h0M813.4 368h0M772.4 320.4h0M806.4 390.6h0M752.1 282.1h0M772.4 257.4h0M758.2 269.2h0M825.4 385.2h0M796.2 341.7h0M790.1 351.4h0M826.1 374.7h0M772.8 298.1h0M765.7 273.2h0M794.5 343h0M780.1 269.7h0M759.6 279.5h0M804.7 372.8h0M759.5 289.7h0M747.8 265.1h0M824.8 369.3h0M822.8 313.3h0M775.7 310.3h0M800.7 310.5h0M827.3 381.7h0M765.5 294.4h0M778.2 298.2h0M768.1 275.1h0M763.7 278.6h0M835.3 351.7h0M751.8 287.8h0M754.4 269.6h0M749.7 261.7h0M807.6 363.6h0M828 392h0M798 307.3h0M819.9 368.3h0M797.9 319.9h0M774.3 262.7h0M773.7 333.8h0M832.4 357.5h0M830.3 336h0M793.6 296.1h0M835 374.8h0M785.9 341.6h0M821.7 379.3h0M747 300.1h0M762.1 272.4h0M814.3 337.3h0M790.4 335.5h0M787 310.7h0M787.4 358.5h0M808.3 352.9h0M806.8 344.1h0M791.9 335.9h0M814.6 384.4h0M800 283.7h0M774.3 312.5h0M793.6 347.3h0M813.7 386.1h0M792.9 288.1h0M847.1 369.5h0M824.8 373h0M811.7 375.5h0M817.5 379.3h0M776.9 257.5h0M799 354.5h0M820.8 362.5h0M790.5 276.7h0M787.4 306.9h0M829 373h0M807.5 330.9h0M784.5 260.2h0M765 342.9h0M796.6 296.8h0M790.6 371.8h0M768.4 291.1h0M778.3 287.6h0M767.5 273.3h0M767.2 294.7h0M785.1 344.7h0M811.2 382.5h0M811.6 321.9h0M792.6 288.9h0M826 366.8h0M826.2 352.9h0M786.2 320h0M774.3 284.3h0M769.8 264.5h0M800.9 363.7h0M806.3 372.1h0M770.8 271.7h0M779.2 301.3h0M764.2 290.5h0M763 245.9h0M757.7 253.5h0M780.2 265.9h0M773.3 280h0M777.5 340.6h0M786.6 304.1h0M814.4 366.2h0M765.2 281.4h0M767.1 277.8h0M786.9 287.8h0M802.8 325.3h0M815.6 332.9h0M777.8 333.3h0M821.1 397.9h0M743.4 277.4h0M796 323h0M792.4 331.2h0M786 319.3h0M785.5 283.8h0M803.9 336.9h0M751.2 265.5h0M779.8 255.9h0M815.9 339.3h0M814.2 376.4h0M786 283.7h0M749.6 249.1h0M837.4 376.5h0M775.7 291.2h0M731.2 266.8h0M763.2 268.7h0M811.5 376.4h0M827.5 386.6h0M761.9 249.8h0M821.5 374.5h0M811.1 370h0M739.9 307.6h0M803.3 337.8h0M748.5 280.2h0M822.4 370.6h0M778.2 258.5h0M818.9 363h0M775.3 295.2h0M823 389.4h0M793 325.1h0M816.7 383.5h0M800.2 348.3h0M795.9 348.6h0M796.7 296.8h0M793.3 322h0M836.2 378.7h0M733.7 249.4h0M747.1 266.3h0M765.9 268.9h0M817.7 355.3h0M804.9 324.9h0M816.5 358.9h0M810.2 371.3h0M814.5 388.3h0M804.4 326.5h0M792.2 371.2h0M817.7 375.7h0M788.2 270.4h0M807.6 323.3h0M823.2 364.5h0M775.2 295.4h0M842.7 354.8h0M798.4 322h0M821.3 360.4h0M790.4 319.6h0M768.3 306.8h0M777.2 323.3h0M810.7 343.7h0M760.4 281.9h0M768.5 276.3h0M805.7 375.8h0M804.5 383.5h0M818.4 378.2h0M740.4 249.9h0M770.6 247.8h0M833.9 369h0M793.6 256.6h0M809.2 360.8h0M786.2 322.4h0M783.3 324.3h0M715.5 253.2h0M817.7 391.4h0M786.7 355h0M802.7 313.9h0M832.7 384.4h0M821.5 359.5h0M802.6 334h0M778 271.1h0M793.1 281.4h0M755.3 271.2h0M770.6 287h0M759.1 288.8h0M789.2 268.2h0M801.7 304.2h0M787.5 289.2h0M792.7 349.4h0M823 373.9h0M777.2 294.9h0M821.2 372.7h0M760.2 257.1h0M789.6 300.5h0M807.5 357.8h0M769.1 245.7h0M826.3 378.3h0M765.6 315.6h0M820.4 376.4h0M753.5 249.2h0M798.9 310.5h0M771.3 283.3h0M793.8 351.3h0M768.9 281.4h0M766 304.6h0M788.9 287.6h0M746.9 252.7h0M802.5 323.3h0M808.4 339.1h0M754.8 287.1h0M754.1 265.5h0M796.2 339.1h0M770.7 297.5h0M803 370.8h0M800.4 315.6h0M776.4 293.3h0M811.7 394.3h0M748.2 288.4h0M830.7 398.2h0M752.2 255.8h0M795.5 327.4h0M802.6 326.4h0M775.7 283.7h0M786.6 319.1h0M760.3 282.6h0M827.2 387h0M795.1 314.7h0M784.6 309.4h0M756.1 264.8h0M833.2 391.2h0M832.6 335.6h0M780.1 302.5h0M790.9 307h0M830.4 388.4h0M753.9 307.5h0M819.1 367.4h0M810.4 372.5h0M788.2 272.6h0M810.2 359.7h0M757.9 317.7h0M772 283.2h0M782.6 295.3h0M781.7 311.1h0M772.2 278.8h0M750.2 323.5h0M781.5 303.2h0M780.9 274.1h0M805.4 293.2h0M777.1 304.3h0M805.8 338h0M808.3 322h0M816.4 339.7h0M801.4 293.2h0M817.7 340.6h0M797 331.8h0M778.8 284.3h0M794.8 319.6h0M814.4 352.9h0M775.2 278.2h0M795.5 344.3h0M707.8 268.1h0M760.9 272.2h0M769.5 326h0M780.1 292.7h0M824.3 383.6h0M784.6 345.7h0M774 262.2h0M801.4 313.8h0M796.9 327.1h0M797.9 285.4h0M802.1 288.6h0M775.5 315h0M797.4 333.1h0M824.6 369.8h0M815.6 352.3h0M826.3 359.8h0M791.6 335.7h0M750.5 246.8h0M794.2 342.9h0M784.8 324.3h0M802.5 340.8h0M734.8 299.1h0M750.1 260h0M773.4 263.9h0M807.7 349.5h0M800.6 362.5h0M738.8 259.5h0M786.1 327.7h0M771.8 292.5h0M803.4 385.3h0M762.7 273.5h0M822 351.4h0M794.1 325.6h0M818.4 369h0M797.8 330.4h0M778.5 271h0M765.8 277h0M812 330.5h0M780.2 281.6h0M798.7 328.9h0M801.6 336h0M772.9 302.8h0M828.5 362.1h0M821 349.4h0M784.2 292.8h0M788 286.7h0M827.5 391.7h0M795.8 292.9h0M771.9 277.6h0M772.4 332.4h0M842.4 383h0M782.8 297.4h0M798.2 360.5h0M784 307.1h0M787.7 332.5h0M809.8 299.7h0M815 349.2h0M773.8 321.9h0M778.5 311.5h0M779.8 304.3h0M840.9 362.4h0M743.4 241.5h0M783.2 359.1h0M807.1 345.1h0M804.2 349.9h0M818.6 383.8h0M770.2 329.9h0M777.3 276.2h0M802.2 294.7h0M790.2 365h0M839.4 379.9h0M802.3 351.8h0M798.4 285.9h0M800 324.8h0M761.2 259.4h0M795.7 297.1h0M795.8 311.5h0M762.5 273.3h0M782.7 279.9h0M797.7 341.7h0M789.6 359.7h0M814.4 331.9h0M788.8 321.2h0M811.9 372.9h0M788.4 339.2h0M761.4 298.1h0M796.2 361.5h0M817.6 384.5h0M809.3 365.3h0M811.1 352.3h0M776.6 255.1h0M818.1 385.2h0M827.8 374.6h0M827.3 370.7h0M778.6 318.9h0M829.3 394.5h0M785.7 330.5h0M833.8 371.2h0M819.1 358.3h0M769.8 271.7h0M802 373.2h0M784.5 300.8h0M794.6 342.2h0M807.1 331.1h0M770.1 276.3h0M813.4 384.8h0M776.2 260.1h0M778.1 269.8h0M774.8 299.8h0M839.5 380.9h0M780.9 303.8h0M785.9 312.8h0M772.8 275.2h0M805.4 363.7h0M753 248.1h0M763.7 264h0M845 383.3h0M828.5 349.8h0M821 384.9h0M789.5 269.1h0M764 261.3h0M764.7 250.1h0M797.6 306.4h0M786.8 300.8h0M808.3 286.6h0M792.5 312h0M748.8 261.4h0M804.3 308.8h0M799.6 342.8h0M787.8 317.2h0M785.3 393.7h0M776.6 292.7h0M790.5 293.7h0M815 342.1h0M769 277.1h0M796.1 280.8h0M807.5 348.6h0M836.8 382.5h0M808.7 370.3h0M787.9 365.5h0M823.4 351h0M797.4 319.5h0M744.7 256.2h0M817 356.6h0M761.6 260.2h0M769 293.8h0M776.6 274.6h0M795.9 336.1h0M804.9 396.1h0M763.3 289.9h0M837.9 360.5h0M801.2 376.2h0M756.6 280.5h0M792.2 303h0M825.5 366.3h0M795.8 356.6h0M758.5 257.3h0M816.6 361.9h0M788.3 289.5h0M815.2 382.7h0M756.7 277.1h0M833.4 372h0M807.8 323.4h0M831.1 393.1h0M780.3 309.7h0M775.7 273.3h0M826 384.8h0M822.2 354.4h0M756.1 278.3h0M793.1 317.3h0M808.7 353.9h0M773.1 308.3h0M802.8 334.3h0M770.8 273.3h0M783.2 356.8h0M780 283h0M768.2 306.8h0M775.6 286.4h0M807.9 338.2h0M783.1 292.9h0M793.4 292.5h0M782.6 330.8h0M775 390.3h0M766 257.5h0M784.6 291.3h0M837.4 370.2h0M784.8 287.1h0M797.6 350.6h0M808.2 330.8h0M732.2 270.5h0M775.7 324.5h0M846.7 355.9h0M813.1 349.9h0M835.2 389.4h0M825.1 367.5h0M837.3 358.4h0M817.5 359.9h0M826.6 388.4h0M758.8 329.9h0M798.2 366.9h0M795.9 288h0M782.1 257.1h0M818.1 354.7h0M786.5 301.8h0M794.9 320.3h0M787.7 377.7h0M829.4 376.1h0M774 262.9h0M805.7 333h0M777.5 278.2h0M839.1 386.3h0M794.5 309.5h0M782.8 279h0M750.5 264.2h0M833.3 396.7h0M820.6 321.2h0M798.1 342.8h0M752.3 285.2h0M836.3 383h0M828.1 362.9h0M782 280.9h0M746.1 325.4h0M785.1 328.5h0M718.9 255.3h0M798.7 351.5h0M833.6 393.6h0M798.7 338.4h0M828.5 367.5h0M863.6 388.8h0M795.4 305h0M769.9 251.7h0M778.5 312.8h0M772.8 296.9h0M770.3 355.2h0M786.1 320.2h0M764.3 291.4h0M780.5 311.2h0M770.4 279.4h0M779.1 317.4h0M797.4 366.1h0M775.8 320.4h0M798.9 321.3h0M823.7 378.2h0M800.3 308h0M786.1 277.7h0M819.1 381.4h0M801.9 322.3h0M760.3 292.8h0M830.8 336.6h0M826.4 353.2h0M799.7 338.3h0M752.6 320.9h0M787 298.7h0M768.4 318h0M812.1 377.8h0M785.8 285.4h0M762.4 254.1h0M817.4 383.2h0M828 362.8h0M803.8 368.6h0M770.6 266.1h0M757.5 260.4h0M812.8 384.2h0M812.9 346.3h0M801.1 361.6h0M816.9 320.8h0M756.6 260.9h0M850.2 378.5h0M803.7 369.8h0M801.7 323.8h0M778.9 323.2h0M759.2 287.6h0M798.1 327.7h0M833 381.3h0M787.2 340.7h0M775.2 249.8h0M764.8 284.2h0M827.2 389.2h0M777.3 277.5h0M815 347h0M751.8 284.6h0M835.2 393.4h0M762.3 279.2h0M812.2 368.7h0M785.6 332h0M757.7 294.4h0M752.9 330h0M825.2 368.1h0M817.3 376.4h0M793.9 350.1h0M818.8 392.5h0M838.4 366.9h0M812.1 365.9h0M790.8 331.4h0M824.8 346.8h0M794.6 310.9h0M814.1 359.4h0M816.2 385h0M782.7 338.8h0M761.7 288.2h0M810.3 366.4h0M795 330.7h0M758.7 279.5h0M805.7 332.1h0M766.8 259.9h0M749.3 265.1h0M796 350.9h0M751.7 294.3h0M809.3 365.4h0M806 370.5h0M791.9 334.6h0M777.3 296.3h0M746.6 258h0M807.3 377.4h0M775.4 287.3h0M793.1 317.3h0M811.8 374h0M769.9 258.7h0M775.9 291.8h0M804.9 370.2h0M766.9 265.1h0M850.1 384.3h0M813.2 377.2h0M822.2 346.4h0M783.6 263.3h0M846.5 392.7h0M755.2 264.5h0M811.1 304.5h0M826.2 385.3h0M783.1 306.7h0M791.7 324.9h0M800.4 320.4h0M776.6 285.5h0M776.5 291.8h0M775.3 247.1h0M807.7 367.8h0M759.2 279h0M813.6 339.9h0M780.9 276.2h0M783.1 269.9h0M749.9 260.4h0M824.1 351.7h0M787.2 332.7h0M786.6 258.8h0M749.1 263.6h0M790.4 347.3h0M761.8 263.2h0M752.8 337.8h0M793.6 338.9h0M780.3 295.6h0M787.9 322.9h0M791.5 335.6h0M817 344.1h0M809.3 328.9h0M818.6 375.5h0M815.4 394.1h0M770.9 276.2h0M804.6 317h0M772.1 295.9h0M762.1 276.9h0M822.5 355.2h0M836.7 363.6h0M793.7 350.1h0M776.6 354.6h0M753.6 278.6h0M792.6 344.4h0M807 350h0M769.8 293.2h0M815.1 366.8h0M788.2 379.6h0M776.6 282.6h0M735.9 282.9h0M811.3 356.1h0M773.7 298.8h0M862.9 396.4h0M792.2 330.9h0M774.7 305.1h0M800.9 361.3h0M801.8 347.6h0M764.4 305.4h0M778.3 309h0M812.6 377.8h0M789.3 289.2h0M796.2 393.8h0M751.5 255.4h0M770.2 367.9h0M797.9 359.8h0M793.1 364.8h0M759.4 256h0M824.3 350.8h0M778.9 307.7h0M775.1 253.4h0M768.6 262.8h0M826.2 395.2h0M766.4 317.5h0M773 312h0M788.8 292.3h0M822.3 341.3h0M807.5 342.6h0M835.5 387.6h0M820.4 392h0M766.1 320.2h0M788.9 379.7h0M829.2 364.5h0M808.6 341.4h0M798.3 385.3h0M796.5 385.5h0M751.2 255.6h0M800.5 328.4h0M804 363.2h0M800.5 289.8h0M829.6 393.2h0M791.9 358.7h0M779.1 249.9h0M780.5 266.4h0M778.7 294h0M831.3 382.5h0M791.8 344.3h0M817.2 392h0M751.3 364.7h0M840.6 382.2h0M797.2 378.7h0M796.3 308.9h0M813.1 384.4h0M807.6 374.4h0M758.3 252.8h0M809.9 345.5h0M812.6 342.3h0M849.3 387.8h0M776.8 277.2h0M774.6 293.2h0M755 306.7h0M796.4 308.3h0M824.9 378.1h0M781.9 356h0M789.6 314.9h0M761.4 256h0M774.5 277h0M794.9 312.8h0M785 316.7h0M815.6 390.9h0M777.1 267h0M802.9 392.3h0M810.1 369.7h0M786.8 292.7h0M733.8 271.6h0M761.2 273.5h0M790.4 331.8h0M794.1 365.8h0M861.3 391.7h0M735.1 271h0M779.7 252.6h0M834.7 359.9h0M777.5 263.2h0M798.2 336h0M814 350.7h0M782.5 322.9h0M837.1 392.9h0M786.1 335h0M791 368.8h0M791.8 291.4h0M780.4 324.6h0M740.3 268.7h0M769.4 267h0M785.8 339.6h0M823.2 348.2h0M766.6 255.7h0M774.5 322h0M818.6 371h0M788.4 387.4h0M751.3 250.7h0M788.8 309.2h0M815.1 386.2h0M802.7 313.9h0M784.5 321.8h0M805.6 321.7h0M763.4 260.3h0M772.2 253.1h0M816.6 382.2h0M809.2 364.7h0M787.1 337.5h0M778 273.5h0M794.7 299.7h0M802.5 282.5h0M807.7 316.5h0M820.3 366.5h0M771.7 282.3h0M831.4 393h0M779.3 293.6h0M838.1 368.9h0M809.3 329.8h0M750.5 254.4h0M784.1 320.1h0M843.1 384.8h0M798.6 325.5h0M784.2 308h0M841.3 387.9h0M808.9 360.6h0M821.9 390.7h0M787.3 321h0M778.2 340.4h0M806.4 326.7h0M792.3 348.9h0M774.6 298.8h0M809.1 371.1h0M773.9 260.8h0M761.3 255.9h0M798.1 330.8h0M773.3 324.5h0M766.6 268.1h0M791.2 353.9h0M754.8 273.1h0M812.4 347.7h0M780.2 295.2h0M836.1 350.4h0M789.4 299.8h0M768.8 253h0M827.7 391.3h0M772.2 282.8h0M804.6 319.2h0M819.1 342.4h0M792.6 351.9h0M839 385.4h0M822.6 363.9h0M800.5 310h0M828.6 377h0M766.8 300.7h0M746.2 254.8h0M783.2 248.7h0M748 261.2h0M754.2 278.9h0M823.1 369.4h0M757.9 257.2h0M787.9 357.6h0M665.2 350.8h0M683.4 254.9h0M718.7 267.6h0M725.5 265.4h0M726.6 281.8h0M730 277.4h0M731.2 298.3h0M732.3 310.3h0M736.9 322.3h0M746 353.8h0M839.2 251.1h0M822.1 305.1h0M843.7 332.8h0M749.4 332h0M752.8 344h0" stroke="#00FF00" stroke-width="2.8" stroke-linecap="round" fill="none"/>
<rect x="655" y="232.4" width="227.4" height="179.8" fill="none" stroke="#7f7f7f" stroke-width="1"/>
<path d="M655 412.2v-2.2M655 232.4v2.2M700.5 412.2v-2.2M700.5 232.4v2.2M746 412.2v-2.2M746 232.4v2.2M791.4 412.2v-2.2M791.4 232.4v2.2M836.9 412.2v-2.2M836.9 232.4v2.2M882.4 412.2v-2.2M882.4 232.4v2.2M655 412.2h2.2M882.4 412.2h-2.2M655 382.2h2.2M882.4 382.2h-2.2M655 352.3h2.2M882.4 352.3h-2.2M655 322.3h2.2M882.4 322.3h-2.2M655 292.3h2.2M882.4 292.3h-2.2M655 262.4h2.2M882.4 262.4h-2.2M655 232.4h2.2M882.4 232.4h-2.2" stroke="#7f7f7f" stroke-width="0.8" fill="none"/>
<g style="font-family:'Liberation Sans', sans-serif;font-size:10px;fill:#000"><text x="655" y="426" text-anchor="middle">-600</text><text x="700.5" y="426" text-anchor="middle">-400</text><text x="746" y="426" text-anchor="middle">-200</text><text x="791.4" y="426" text-anchor="middle">0</text><text x="836.9" y="426" text-anchor="middle">200</text><text x="882.4" y="426" text-anchor="middle">400</text><text x="651.1" y="416" text-anchor="end">-600</text><text x="651.1" y="386" text-anchor="end">-400</text><text x="651.1" y="356.1" text-anchor="end">-200</text><text x="651.1" y="326.1" text-anchor="end">0</text><text x="651.1" y="296.1" text-anchor="end">200</text><text x="651.1" y="266.2" text-anchor="end">400</text><text x="651.1" y="236.2" text-anchor="end">600</text></g>
<text x="768.7" y="229.2" text-anchor="middle" style="font-family:'Liberation Sans', sans-serif;font-weight:bold;font-size:8.4px">[PRCC , p-value, Time] = [-0.75623 , 4.6669e-186, 100].</text>
<path d="M1071 343.4h0M1137.5 260.9h0M1084.1 340.9h0M1145.9 278.3h0M1166.9 264.8h0M1074.7 336.8h0M1071.5 330.5h0M1102.9 337.3h0M1019.2 376.1h0M1096.7 316.1h0M1075 347.7h0M1081.9 351.6h0M1050.3 356.3h0M1033.5 362.5h0M1155.1 275.2h0M1089.4 335.3h0M1077.2 345.1h0M1115.9 307h0M1126.4 297h0M1138.7 291.2h0M1190.7 257.9h0M1054.1 364.2h0M1068.1 339.4h0M1074.6 342.8h0M1032.4 380.8h0M1043.8 355.9h0M1057.5 329.9h0M1078.9 337.1h0M1113.9 305.9h0M1107.3 319.2h0M1134.2 294.6h0M1052.5 356.2h0M1033.2 367.7h0M1087.2 338.9h0M1021.8 371.6h0M1066.3 334h0M1072.1 323.5h0M1145.9 285.8h0M1108.2 268.8h0M1017.6 379.2h0M1167.6 251h0M1149.1 286.3h0M1179.2 252.3h0M1033.3 368.2h0M1075.9 339.2h0M1123.1 319.6h0M1108.3 287.6h0M1069.1 341.8h0M1092.8 321h0M1057.9 349.5h0M1109.6 328h0M1109.6 313.5h0M1105.1 306.9h0M1109.6 295.9h0M1062.1 348.2h0M1120.3 294.8h0M1009.3 374.7h0M1138.5 302h0M1121 323.1h0M1016.9 369.6h0M1051.5 348.7h0M1029.6 380.4h0M1075.6 336.1h0M1097.2 329.7h0M1105.3 326.3h0M1028 378.8h0M1133.6 293.1h0M1058.1 344.2h0M1072.4 349.6h0M1173.8 264.2h0M1106 302.7h0M1117.9 300.1h0M1123.7 311.7h0M1041.6 364.3h0M1058.3 361.4h0M1030.1 361.4h0M1077.6 335.9h0M1028.7 371.6h0M1114.3 314.4h0M1181.7 254.3h0M1153.5 282.9h0M1086.9 343.1h0M1067.6 344.5h0M1137.4 280.7h0M1172.2 261.1h0M1134.3 296.1h0M1058.1 342.6h0M1080 327.1h0M1050.2 358.6h0M1110.8 322.2h0M1143.8 261.9h0M1069.3 358.9h0M1105.6 322.7h0M1124.3 301.9h0M1180.7 256.9h0M1125.1 301.8h0M1075.2 328.5h0M1120.1 298.6h0M1079.8 342.8h0M1043.6 369.5h0M1140.4 275h0M1098 322.1h0M1159.6 259.2h0M974.7 368.1h0M1008.3 379.3h0M1095.7 320.1h0M1152.4 282.6h0M1139.5 260.1h0M1133 301.6h0M1026.7 369.9h0M1117 307h0M1067 330.5h0M1062.5 360.7h0M1188.7 263.8h0M1115.1 287.2h0M1140.1 273h0M1092.1 305.1h0M1130 293.4h0M1139.9 285.1h0M1068.5 344.7h0M1091.5 316.9h0M1180.4 268.1h0M1097.9 329.3h0M1017.3 362.5h0M1006.8 378.5h0M1012.8 383.1h0M1093.2 325h0M1045.1 383.1h0M1116.6 292h0M1126.8 288.9h0M1156.3 257.1h0M1141.3 275.3h0M1083.6 331.8h0M1148.4 279h0M1166.4 282.6h0M1041.1 378h0M1030.9 373.9h0M1038.7 351.9h0M1146.7 256.6h0M1076 330.9h0M1142.6 276.7h0M1069 334h0M1117 297.9h0M1099.3 327.6h0M1166.6 270.5h0M1099.1 319.5h0M1177.4 263.6h0M1103.6 278.8h0M1173.9 241h0M1059.9 344.5h0M1062.6 354h0M1120.2 299.6h0M1135.7 290.8h0M1100.8 324.2h0M1028.7 368.3h0M1074.7 343.8h0M1161.4 248h0M1056.1 342.1h0M1075.2 333.5h0M1115.5 314h0M1024.4 368.2h0M1030.4 362h0M1119 279.7h0M1091.5 320.3h0M1063 352.5h0M1160 264.3h0M1066.1 351.5h0M1130.8 286.9h0M1133.3 287.1h0M1038.1 371.1h0M1001.1 380.3h0M1192.2 270.2h0M999.5 367.7h0M1050.6 360.2h0M1105.8 313.6h0M1116.6 263.6h0M1139.2 254.4h0M1101.3 292h0M968.7 363.7h0M1126.6 318.4h0M1063.5 354.9h0M1060.3 356.3h0M1096.3 317.3h0M1145.3 276.8h0M1148.1 251.8h0M1101 319h0M1104 317.5h0M1165.9 268.1h0M1124.5 305.2h0M1148.5 274.2h0M1105.9 316.8h0M1138.1 253.7h0M1140.8 288.6h0M1098 323.1h0M1058.6 366.8h0M1128.9 261.7h0M1001.4 383.1h0M1022.6 376h0M1025.5 380.4h0M1154.4 272.2h0M1134 288.2h0M1009.1 380.6h0M1020.2 380.3h0M1063.5 362.6h0M1137.6 298.4h0M1052.7 344.1h0M1129.4 274.2h0M1139.6 249.7h0M1109.1 299.6h0M1117.8 317.5h0M1176.8 261.9h0M1053.7 348.1h0M1155 276.9h0M999 381.5h0M1072.2 349.3h0M1117.2 302.6h0M1133.4 287.8h0M1084.6 325.5h0M1097.3 319.4h0M1165.8 284.1h0M1144.3 285.1h0M1148.3 284.3h0M1154.8 258.5h0M1013.1 383h0M1065.7 342.5h0M1123 288h0M1168.8 260.9h0M1137.1 266.1h0M1093 330.9h0M1169 271.3h0M1131.1 305.2h0M1008.3 374.3h0M1181.5 262.1h0M1069.9 335.6h0M1006.7 391.5h0M1041.8 357.3h0M1042.3 353.8h0M1002.8 379.2h0M1158.1 251.5h0M1075.3 338.2h0M1122.5 305.2h0M1103.1 303.7h0M1180.9 261.4h0M1111.6 316.7h0M1078.5 337.3h0M1096.4 324.5h0M1072.9 346.9h0M1157.9 281.7h0M1156.5 266.2h0M1038.8 357h0M1028.6 386.5h0M1157 262.3h0M1127 296.5h0M1156.1 257.4h0M1080.9 337.7h0M1048.1 361.1h0M1154.8 268.7h0M1045.2 385.1h0M1159.3 273.6h0M1141 284.4h0M1160.6 265.5h0M1075.3 325.9h0M1069.5 350.2h0M1009.8 386.3h0M1084.1 320.1h0M1178.8 247.8h0M1068.9 335.2h0M1121.4 314.3h0M1028.2 364.1h0M1120.1 284.3h0M1142.2 276.9h0M1083.7 339.2h0M1101.4 317.2h0M1075.1 343.9h0M1061.2 347.9h0M1026.7 372.6h0M1096.9 330.5h0M1149.2 272.3h0M1129.1 290.4h0M1073.3 333.3h0M1093.3 310.2h0M1112 295.2h0M1031.5 366.7h0M1086.6 281.6h0M1047.1 346.2h0M1085.2 334.6h0M1021.7 372.5h0M1094.5 318.3h0M1119.2 278.3h0M1081.2 327.8h0M1118.5 303.5h0M1118.5 301.8h0M1154 260.8h0M1140.8 274.4h0M1096.7 320.4h0M1081.3 336.5h0M1160.8 271.1h0M1127.8 305.8h0M1138.8 271.9h0M1046 365.5h0M1074.4 343h0M1136.8 292.9h0M1133.7 298h0M1066.7 349.8h0M1059.7 340.7h0M1074.1 339.2h0M1135.9 282.2h0M1007.5 374.8h0M1086.5 356.4h0M1126.8 292.5h0M1025.9 364.2h0M1126.1 306.3h0M1084.7 329.8h0M1143.7 267h0M1147.3 278.8h0M1078.9 341.3h0M1046.5 361.5h0M1030.3 383.6h0M1085.3 324.9h0M1091 320.7h0M1149.7 292.3h0M1122.8 286.2h0M1151.9 278.4h0M1127.2 290.7h0M1105 302.1h0M1102.5 323.7h0M1061.5 355.3h0M1108.6 282.8h0M1131.5 279.5h0M1041.1 362.2h0M1030.2 352.7h0M1126.8 304.4h0M1008.9 363.3h0M1122.4 317.9h0M1143.4 258.1h0M1066.1 345.6h0M1108.3 296h0M1133.4 308.8h0M1077.6 332.9h0M1072.6 333.1h0M1090.3 328.3h0M1017.7 375.4h0M986.7 370.5h0M1126.9 287.6h0M1036.8 365.7h0M1053.2 346.1h0M1103.9 320.2h0M1141.7 274h0M1149.8 284.1h0M1091.1 323h0M1164.6 278.8h0M1055.9 347h0M1143.9 275.8h0M1022.9 369.5h0M1035.2 356.3h0M1043.1 359.1h0M1074.7 333.7h0M1031.3 380.1h0M1156.6 260.8h0M1081.9 341h0M1137.7 297.1h0M1012.7 378.4h0M1094.9 323.3h0M1122.3 325.7h0M1036 376.8h0M1119.6 311.8h0M1152.3 294.3h0M1135.7 275.9h0M1092.2 284.9h0M1157.3 280.6h0M1120.5 298.4h0M1117.3 284.2h0M1079.1 330.3h0M1106.1 318.7h0M1054.5 344.9h0M1133.7 291.1h0M1106.5 322.2h0M1123.8 309.7h0M1168.4 266.7h0M1106.6 297.9h0M1142.5 313h0M1075 322.2h0M1122.7 290.7h0M1125.2 281.6h0M1171.6 255.4h0M1063.1 349.2h0M1112 323.3h0M1131.6 307.5h0M1153 282.1h0M1111.9 314.8h0M1042.5 370.4h0M1133.3 286.7h0M1053.9 362.9h0M1123.9 313.1h0M1191.7 246.1h0M1160.1 262.1h0M1158.7 258.3h0M1070.9 354.2h0M1012.1 381.4h0M1027 369.8h0M1134.2 273.8h0M1175.6 250.2h0M1174.3 246.9h0M1079.9 330.7h0M1170.8 281.5h0M1156 272h0M1015.8 380.4h0M1101.2 315.2h0M1133.4 276.9h0M1083.7 331.7h0M1084.7 319.8h0M1001.6 388.2h0M1040.2 363.9h0M1043.9 367.9h0M1094.5 317.1h0M1184.7 250h0M1134.1 300.4h0M1093.2 318.6h0M1056.2 340.6h0M1037.6 369.9h0M1098.7 326.6h0M1090 326h0M1079.7 341.3h0M1070.5 374.4h0M1162.4 254.8h0M1150.1 292.1h0M1112.4 308.3h0M1102.9 305.8h0M1106.1 308h0M1103.9 299.7h0M1142.8 294.4h0M1066.8 346.5h0M1031.4 373.7h0M1120.3 314.1h0M1136.7 273.2h0M1096.6 324.2h0M1109 313.5h0M1013.4 379.3h0M1102.7 312.5h0M1043.9 347.6h0M1145.6 275h0M1006.6 379.1h0M1024.2 359.6h0M1159.1 275.5h0M1019.5 386h0M1064.5 345.9h0M1093.9 323.6h0M1111.9 314.2h0M1128.8 311h0M1168.8 239.2h0M1044.7 386h0M1153 289.4h0M1063.7 336.9h0M1064.4 343.4h0M1033.4 378.9h0M1054.3 347h0M1123.4 273.2h0M1164.5 258h0M1181.1 258.1h0M1084.2 320h0M1043.1 370.9h0M1001.5 376.1h0M1048.8 349.7h0M1108.8 319.1h0M1112.7 309.8h0M1140.5 269.2h0M1100.9 318.2h0M1116.6 280.4h0M1066.9 356.5h0M1159.4 249.4h0M1147.8 251.8h0M1055.5 342.8h0M1163.9 261.9h0M1124.7 303.1h0M1057.4 337.1h0M1073.6 335.3h0M1070.1 330.9h0M1031.7 371.6h0M1132.5 280.9h0M1078.6 340.2h0M1153.1 276.4h0M1044.8 369h0M1084.8 328.3h0M1017 373.6h0M1112.2 315.3h0M1141.5 293.5h0M1112.9 308.6h0M1020.4 371.3h0M1179.2 252h0M1129.1 262.2h0M1185.4 253.7h0M1091.2 325.9h0M1115.3 315h0M1058.5 359.3h0M1033.9 359.3h0M1125.8 301.7h0M1154.6 284.9h0M1085.5 333.4h0M1148.8 285h0M1123.8 290.6h0M1109.1 321h0M1087.5 331.3h0M1150.6 262.2h0M1000.8 363.1h0M1057.3 354.9h0M1139.5 263.6h0M1133.9 293.8h0M1123.1 317.9h0M1103 317.6h0M1065 348.8h0M1114.3 294.6h0M1120.9 314.9h0M1059.7 334h0M1104.1 319.2h0M1087.8 306.7h0M1116.5 293.8h0M1023.4 364.2h0M1043.6 378.5h0M1001.6 386.7h0M1099.2 331.8h0M1099.7 321h0M1136.1 274.2h0M1104.9 318.3h0M1142.1 276.9h0M1095.3 323.2h0M1037.8 375h0M987.5 390.1h0M1110.5 317.4h0M1075.7 337.8h0M1035.9 368.8h0M1062.8 341.3h0M1170.8 275h0M1179.8 241.6h0M1010.8 373.8h0M1010.8 382.4h0M1020 374.3h0M1082.7 329.4h0M1109.9 321.6h0M1056.3 343h0M1183.3 271.8h0M1060.1 345.4h0M1087.4 328.5h0M1084.1 330.9h0M1105.5 321.9h0M1020.2 358.1h0M1128.9 293.7h0M1116.4 317h0M1119 300.3h0M1100.2 323.9h0M1117.6 338.3h0M1099.7 314.8h0M1132.7 277.4h0M1169.8 246.2h0M1137.3 288.5h0M1052.3 354h0M1086.1 323.8h0M1128 285.6h0M1143.8 267h0M1071.2 344.8h0M1074 361.3h0M1034.1 367.1h0M1111.4 291.7h0M1078 350.8h0M1119.4 299.1h0M1125.1 312.2h0M1158.9 266h0M1089.5 327.7h0M1121.8 305.6h0M1121.2 266h0M1055.1 361.1h0M1029.6 330.7h0M1139.1 304.6h0M1144.2 274.7h0M1062.1 333.2h0M1087.1 332.6h0M1146.9 299.8h0M1116.6 322.8h0M1088.9 333h0M1125.2 309.5h0M1044 362.3h0M1036.7 375.4h0M1092.5 324.8h0M1133.5 300.2h0M1070.1 333.5h0M1085.7 334.7h0M1094.8 316.2h0M1034.7 357.3h0M1050.8 369h0M1095.1 326.7h0M1076.1 355.7h0M1055 345h0M1055.3 338.5h0M1046.3 350.4h0M1116 318.6h0M1136.7 296.5h0M1010.5 369.3h0M1141.4 269.1h0M1134 291.4h0M1162 247.8h0M1116.3 272h0M1150.1 309h0M1154.4 296.8h0M1131.3 304.9h0M1020.2 366h0M1141.7 247.3h0M1075.6 344.8h0M1082.4 338h0M1035.9 386.2h0M1113.1 322.4h0M1061.1 346.4h0M1146 267.9h0M1117.2 313h0M1137.8 282.2h0M1065.3 336.5h0M1104 319.3h0M1097.6 332.4h0M1053.2 354.7h0M1112.9 316.6h0M1138 313.2h0M1131.8 283.6h0M1086 331h0M1069.8 340.6h0M1111.2 315h0M1160.3 264.2h0M1050.8 347.3h0M1140.7 281.2h0M1176.9 277.8h0M1015 369.4h0M1087.1 332.4h0M1049.2 370.8h0M1141.9 311.4h0M1160.5 270.6h0M1148.3 254.1h0M1023.1 371.9h0M1040.2 379.2h0M1161.8 280.1h0M1009.7 381.9h0M1149.1 268.9h0M1095.9 334.9h0M1119 290.8h0M1187 254.3h0M1029.3 354.7h0M1117.1 291.8h0M1127.1 306.5h0M1164.3 262.2h0M1115.4 293.9h0M1163.3 285.9h0M1149.6 256.2h0M1096.7 326.4h0M1114.9 325h0M1037.2 370.1h0M1162.3 277.1h0M1097.1 315.7h0M1153.9 244.6h0M1059 339.9h0M1161.1 261.7h0M1085.6 330.9h0M1141.8 266.2h0M1062 353.7h0M1012.6 378h0M1107.4 337.5h0M1158.8 267h0M1142 268.8h0M1052.3 361h0M1069.9 346.6h0M1153.7 291.3h0M1042.7 352.9h0M1162.1 273.8h0M1152.6 264.4h0M1035.4 358.8h0M1034.4 381.5h0M1067.8 336h0M1099.2 320.5h0M1082.1 335.3h0M1131.3 304.3h0M1169 250.8h0M1041.8 354.7h0M1170.4 253.9h0M1121.4 279.5h0M1084.7 319.7h0M1045.7 350.2h0M1043.7 365h0M1028.6 362.4h0M1023.1 381.4h0M1083 331.7h0M1079.2 326.2h0M1067.5 342.7h0M1173.6 271.7h0M1163 270h0M1034.3 366h0M1118.9 304.7h0M1000.7 369.3h0M1062 392.9h0M1177.4 242.4h0M1073.6 346h0M1106 327.6h0M1048.9 353.5h0M1179.4 265.5h0M1004.3 371h0M1114.5 305.5h0M1145 261h0M1133.5 278.2h0M1105.4 327.3h0M1131.5 302.4h0M1031.7 380.8h0M1135.9 261.9h0M1021.9 391.1h0M1095.9 312.6h0M1136.8 308.2h0M973.9 375h0M1007.7 382.2h0M1032.5 358.1h0M1084.8 334.9h0M1115.9 292.4h0M1123.9 315h0M1163.4 272.6h0M1111.9 290.8h0M1159.1 283.3h0M1072.3 345.6h0M1132.8 282h0M1119.1 297h0M1141.8 277.9h0M1139 288.1h0M1119.4 310h0M1047.5 351.4h0M1056.1 358.1h0M1089.3 324.7h0M1025 367.4h0M1108.6 309.2h0M1031.4 381.2h0M1042.8 368h0M1180.8 255.1h0M1073.6 334.2h0M1165.8 250.7h0M1159.6 267.3h0M1103.3 312.4h0M1145.5 253.1h0M1151.7 276.5h0M1004.7 378.2h0M1058.8 347.8h0M1108.8 305.7h0M1100.8 330h0M1067.5 349.8h0M1102.4 321.9h0M1081.1 342.3h0M1141.8 283.6h0M1136 280.2h0M1173.3 280.7h0M1123.8 292.2h0M1077.5 332.7h0M1157.5 274.4h0M1060.4 336h0M1153 273.8h0M1127.3 287.6h0M1112.2 310.1h0M1030.2 367.1h0M1119 300.2h0M1037.2 370.4h0M1077.5 352.8h0M1131 284.3h0M1087.3 316.9h0M1059.5 343.5h0M1158.1 253.2h0M1011.2 373.5h0M1158.1 272.6h0M1149.9 259.9h0M1055.1 361.2h0M1169.5 250.2h0M1045.7 362.5h0M1033.8 362.6h0M1123.4 303.2h0M1156 249.4h0M1074.1 344.8h0M1019.5 378.4h0M1109.8 302.7h0M1084.4 342.3h0M1160.1 250.4h0M1063.4 352.6h0M1133 291.3h0M1040.2 383.7h0M1123.7 296.1h0M1047.6 356.2h0M1152.6 269.5h0M1047.9 348.9h0M1108.4 316.6h0M1152.4 277.1h0M1027.9 367.3h0M1064.2 345h0M1143.8 269.3h0M1153.8 275.1h0M1151.4 274.4h0M1152 284.2h0M1120.3 297.6h0M1124.3 316.3h0M1160 253.5h0M1098.3 325.3h0M1132 274.9h0M1104.9 297.9h0M1091.1 331.8h0M1000.2 380.8h0M1038.6 382.5h0M1054 341.7h0M1121 283.6h0M1108 296.7h0M1037.7 364.7h0M1072.5 323.5h0M1036 358h0M1039.1 368.7h0M1121.6 286.4h0M1104.2 320.6h0M1140.2 306h0M1090.9 320h0M1126 264.2h0M1038.2 386.1h0M1108.3 320.3h0M998.9 373h0M1022.2 376.9h0M1099.9 295.9h0M1030.3 379.4h0M1164.4 268.4h0M1013.8 368.6h0M1047.1 366.7h0M1124 305.7h0M1068.3 350.3h0M1141.3 293.3h0M1094.4 321.5h0M1170.8 258.4h0M1142.2 282.9h0M1112.1 318.7h0M1108.8 306.5h0M1123.1 263.7h0M1155.7 327.9h0M1116.9 298.5h0M1138.1 274.8h0M1102.7 296.7h0M1138.3 305.6h0M1108.3 297.5h0M1040.7 348.8h0M1022.8 367.1h0M1095.9 325.7h0M1107.3 317.2h0M1052.5 338.3h0M1131 311.1h0M1149.6 294.1h0M1154.4 276.6h0M1126.6 295.9h0M1167.6 259.2h0M1163.7 290.6h0M1050.5 341.7h0M1130 301.8h0M1027.5 372.6h0M1118.9 298.4h0M1164.2 251.3h0M1140.4 280.7h0M1051 380.8h0M1109.8 321.6h0M1012 373.1h0M1124.7 284.3h0M1028.6 368h0M1153.5 286.1h0M1022.2 383.7h0M1153.9 279.9h0M1139.4 301.3h0M1135.9 284.1h0M1157.6 278.1h0M1122 311h0M1170.7 267.2h0M1137.5 292h0M1115.6 325.7h0M1094.2 324.3h0M1089.7 330h0M1080.2 330h0M1163.2 279.7h0M1027.9 375.5h0M1039 346.5h0M1127.2 265.2h0M1072 332h0M1126.5 287.3h0M1073.4 354.3h0M1154.7 262.7h0M1017.1 380.3h0M1129.6 300.2h0M1031.7 371.7h0M1141.8 296.7h0M1120.4 302.5h0M1032.2 361.7h0M1074.4 342.9h0M1036 378h0M1068.3 344.4h0M1036 359.4h0M1048.7 358.9h0M1063.6 344.8h0M1038.1 357.5h0M1175.9 260.3h0M1129.6 284.3h0M1011.2 379.2h0M1028.3 361h0M1156.1 258.7h0M1126.9 309.2h0M1088.1 321h0M1034.2 370.5h0M1014.4 384.2h0M1070.1 328.9h0M1105.1 337.4h0M1070.1 343.4h0M1027.4 375.7h0M1036.4 352.2h0M1171.4 286.7h0M1119.4 312h0M1084.8 333.7h0M1160.2 279.7h0M1030.2 368.5h0M1131.2 293.5h0M1036.9 355.1h0M1131.6 284.8h0M1061.4 344.1h0M1043.6 369h0M1121.2 319.6h0M1011.1 371.6h0M1156.6 280.6h0M1171.2 258.2h0M1118.1 311.2h0M1146.1 273.9h0M1109.5 318.3h0M1149.5 266.8h0M1082.3 350.3h0M1016.8 365.5h0M1031.2 374.2h0M1067.1 354.5h0M1105 322.8h0M1079.4 337.7h0M1043.3 373.6h0M1123.3 312.6h0M1040.1 387.4h0M1089.4 336.7h0M1148.8 276.5h0M1115.5 315.3h0M1129.4 303.3h0M1083 323.4h0M1087.4 328.9h0M1041.1 371h0M1020.1 374.5h0M1086.8 332.4h0M1147.6 274.6h0M1119.7 312.3h0M1109 303.3h0M1148 275.3h0M1161.6 269.7h0M1116.7 282h0M1077.6 320h0M1016.2 377.9h0M1080.8 334.9h0M1078.2 342.4h0M1127.7 311h0M1132.7 275.9h0M1152.8 271.2h0M1153.5 280.2h0M1136.8 294.1h0M1111 303.6h0M1094.1 320.6h0M1026 371.4h0M1075.1 341.9h0M1096.3 323.8h0M1067.8 335.7h0M1179.1 255.2h0M1176.7 287.8h0M1191.6 258.6h0M1129 289.1h0M1116.3 309.8h0M1123.5 310.8h0M1106.8 301.6h0M1078.4 329.2h0M1030.3 359.4h0M1033.6 387.5h0M1043.1 363.8h0M1043.7 355.5h0M1141 255.5h0M1074.5 335.6h0M1072.9 349.9h0M1038 363.8h0M1182.1 270.8h0M1099.6 321.6h0M1079.5 347.8h0M1113.4 307.3h0M1065.1 344.3h0M1119.4 308.2h0M1138.3 269.9h0M1060.1 347.1h0M1153.9 261.1h0M1084.2 326.2h0M1046.7 371.9h0M1021.6 394.2h0M1035.4 357.8h0M1050.4 340.7h0M1146 275h0M1081.1 327.4h0M1141.8 298.7h0M1022.1 266.2h0M977.8 381.6h0M984.6 367.5h0M1100.4 254.9h0M1092.5 283.1h0M1081.1 296.4h0M1100.4 385.1h0M1089.1 367.5h0M1092.5 359.1h0" stroke="#FFFF00" stroke-width="2.8" stroke-linecap="round" fill="none"/>
<rect x="965.3" y="232.4" width="227.1" height="168.9" fill="none" stroke="#7f7f7f" stroke-width="1"/>
<path d="M965.3 401.3v-2.2M965.3 232.4v2.2M1010.7 401.3v-2.2M1010.7 232.4v2.2M1056.1 401.3v-2.2M1056.1 232.4v2.2M1101.6 401.3v-2.2M1101.6 232.4v2.2M1147 401.3v-2.2M1147 232.4v2.2M1192.4 401.3v-2.2M1192.4 232.4v2.2M965.3 401.3h2.2M1192.4 401.3h-2.2M965.3 373.2h2.2M1192.4 373.2h-2.2M965.3 345h2.2M1192.4 345h-2.2M965.3 316.9h2.2M1192.4 316.9h-2.2M965.3 288.7h2.2M1192.4 288.7h-2.2M965.3 260.6h2.2M1192.4 260.6h-2.2M965.3 232.4h2.2M1192.4 232.4h-2.2" stroke="#7f7f7f" stroke-width="0.8" fill="none"/>
<g style="font-family:'Liberation Sans', sans-serif;font-size:10px;fill:#000"><text x="965.3" y="415.1" text-anchor="middle">-600</text><text x="1010.7" y="415.1" text-anchor="middle">-400</text><text x="1056.1" y="415.1" text-anchor="middle">-200</text><text x="1101.6" y="415.1" text-anchor="middle">0</text><text x="1147" y="415.1" text-anchor="middle">200</text><text x="1192.4" y="415.1" text-anchor="middle">400</text><text x="961.4" y="405.1" text-anchor="end">-600</text><text x="961.4" y="377" text-anchor="end">-400</text><text x="961.4" y="348.8" text-anchor="end">-200</text><text x="961.4" y="320.7" text-anchor="end">0</text><text x="961.4" y="292.5" text-anchor="end">200</text><text x="961.4" y="264.4" text-anchor="end">400</text><text x="961.4" y="236.2" text-anchor="end">600</text></g>
<text x="1078.8" y="229.2" text-anchor="middle" style="font-family:'Liberation Sans', sans-serif;font-weight:bold;font-size:8.4px">[PRCC , p-value,  Time] = [0.9437 , 0 , 100].</text>
<path d="M170.6 492.1h0M193.5 571.1h0M173.8 525.2h0M179 503.9h0M176.4 512.7h0M171.1 480.1h0M177.1 480h0M186.1 480.5h0M220.8 597.6h0M201.4 554.6h0M197.3 532.5h0M224.7 589.4h0M209.4 606.7h0M155.2 496.3h0M169.5 470.2h0M148.8 507.9h0M178.4 563.5h0M181.3 519.2h0M186.5 559.9h0M190.2 506.5h0M206.6 573.1h0M183 510.1h0M159.4 465.9h0M165.1 472.1h0M164.5 489.2h0M166.5 477.2h0M183.2 516.8h0M179.2 526.9h0M160.9 475.2h0M194.3 596.9h0M210.2 551.7h0M181.3 517h0M157.9 545.6h0M187.5 502h0M203.2 577.3h0M210.2 595.9h0M157.8 593.9h0M160.3 489.5h0M201.6 596.5h0M183.4 571.2h0M191 558.2h0M185.5 526.3h0M175.4 498.6h0M210.4 604.9h0M138.9 469.7h0M183.3 511.6h0M194.2 564.6h0M176.4 580.1h0M169.7 523.1h0M152 531h0M229.9 572.6h0M201.2 579.9h0M180 501.8h0M171.4 512.3h0M156.3 497.1h0M214.8 576.7h0M193.1 512.2h0M234.9 602.9h0M223.4 608h0M208.1 588.2h0M183.2 493.8h0M190.6 530.3h0M194.7 517.4h0M196.8 533h0M208.4 526.2h0M197.8 560.5h0M182.8 508h0M207.3 604.8h0M193 551.6h0M216.3 604.8h0M227.5 596.2h0M158.2 487.3h0M185.5 515.6h0M164.7 499.3h0M153.4 528.1h0M177.7 522.7h0M205.7 494.5h0M181.6 518.3h0M173.2 534.9h0M186 532.3h0M184.5 521.7h0M185.7 557.1h0M185.5 521.4h0M183.6 557h0M149.3 520.8h0M145.1 537.4h0M177.7 507.7h0M173.8 513.8h0M224.2 604.5h0M193.9 500h0M152.5 479h0M196.3 564.3h0M177 507h0M178.1 483.9h0M188.4 546.1h0M204.1 588.6h0M172 506.3h0M165.2 492.8h0M195.8 560.4h0M208.5 567.9h0M160.4 502.3h0M202.8 537h0M229.4 602.8h0M201.5 586.1h0M210.1 579.4h0M170.3 526.4h0M177.4 529.9h0M188.4 539.9h0M201.6 555.9h0M201.5 558.9h0M197 542h0M179.4 534h0M182.3 528.3h0M184 505.7h0M152.7 471.5h0M166.6 499.6h0M202.3 542.1h0M156.5 472.9h0M208.4 589.5h0M184.5 476.9h0M184.6 538h0M190.7 545.8h0M160.3 500.3h0M181.4 526.4h0M166.7 496.4h0M158.6 558.1h0M167.9 536.3h0M158 524.1h0M194.5 566.2h0M176.4 499.3h0M223.4 584.8h0M213.1 588.7h0M208.6 573.5h0M143.7 497h0M185.5 537.2h0M224.1 598.4h0M223.4 583.1h0M172.3 532.4h0M220.2 601.7h0M210.7 567.4h0M200 574.5h0M193.5 510h0M204 586.4h0M194.9 559.5h0M193.2 540.3h0M133.2 483.6h0M192.8 563.4h0M209.6 583.4h0M191.7 548.7h0M209.9 559.3h0M161.3 523.8h0M217.7 601.1h0M185.1 552.6h0M173.3 514.7h0M202.4 554.6h0M172.9 468.5h0M195.1 548.8h0M158.7 486.4h0M191.4 560.9h0M192.3 545h0M190.2 507.9h0M206.3 538.3h0M143.2 480.7h0M161 489.8h0M205.7 565.8h0M188.5 562.4h0M187.8 512.6h0M187.2 497.5h0M202.7 595.7h0M170.5 488h0M195.8 552.1h0M205.6 582.2h0M185.5 574.9h0M180.2 504.5h0M217.6 579.5h0M200.8 587h0M171.7 527.2h0M161.1 474h0M190.2 566.4h0M186.9 538.7h0M198 555.3h0M137.4 475.3h0M169.5 481h0M194.1 544.7h0M159.3 469.4h0M178.8 570.6h0M181.9 550.8h0M188.1 531.7h0M155.7 496.7h0M162.2 513.4h0M192.7 551.3h0M170.1 482.7h0M151.2 474.8h0M177 489.2h0M191.6 543.3h0M156.5 495.8h0M195.1 570.4h0M170.1 589.6h0M208.3 587.8h0M182.3 502.1h0M164.4 471h0M172.3 570.2h0M169.7 508.6h0M225 580.5h0M166.3 504.5h0M223.2 590.1h0M187 535h0M151.5 498.4h0M164.3 478.5h0M201.4 519.5h0M168.9 511.3h0M197.4 554.1h0M208.1 581.8h0M178.4 495.6h0M179.1 598.9h0M181.5 506.1h0M192.3 573.5h0M215.5 600.7h0M218.5 588.4h0M167.4 534.6h0M179.2 557.6h0M187.7 589.1h0M214.4 563.3h0M172.1 498h0M177.8 509.7h0M200.8 537.5h0M196.9 557.1h0M156.2 465.7h0M207.9 534.3h0M189.2 518.2h0M175.3 491.6h0M182.6 532.9h0M189.1 523.3h0M175.9 546h0M171.9 493.5h0M180.4 503.6h0M201.4 542.6h0M177.6 497.3h0M210 576.4h0M208.2 558.9h0M179.7 527h0M211.4 591.4h0M155.6 479.5h0M231.7 603h0M175.6 482.7h0M189 572.3h0M145.6 481.3h0M204.1 568.6h0M160.9 498.3h0M176.3 534.1h0M197.6 551h0M189.2 535.6h0M178.6 474.4h0M158.6 479.6h0M171 565.2h0M200.7 582.2h0M180.3 471h0M224.4 584.7h0M198.5 590.4h0M176.2 521.3h0M215.8 584.1h0M220.2 609.3h0M175.3 512.3h0M204.4 593.3h0M196.4 574.4h0M196.1 508h0M173.7 482.2h0M162.4 541.4h0M161.9 532.9h0M223.6 601.1h0M178.7 542.3h0M197.6 583.7h0M183.6 536.3h0M208.9 599.9h0M205.4 570.9h0M134.8 489.8h0M208.7 568.4h0M139.4 495.3h0M170.3 518.6h0M205.7 597.8h0M191.8 544.7h0M199.9 528.9h0M188.5 535.5h0M213.5 575.8h0M188.4 560.9h0M189 500.3h0M174.5 523.7h0M179.1 547.4h0M183.4 536h0M187 547h0M204.9 536h0M221.8 536.9h0M145.6 480.6h0M219.1 598.8h0M174.5 525h0M215.7 589.4h0M203.3 599.6h0M179.6 469.2h0M188.5 522.1h0M190.9 536.1h0M167.5 499.1h0M190 532.8h0M151.6 487.9h0M178.6 480.4h0M162 472.4h0M206.6 598.2h0M200.9 555.3h0M208.2 578.5h0M179 513.1h0M196 523h0M189.6 565.1h0M189.6 590.1h0M193 538.9h0M202.3 592.8h0M168.6 503.3h0M156.1 547.8h0M210.9 591.5h0M181.6 493h0M226 572.5h0M171.9 547.1h0M181.3 506h0M193 555.1h0M211.8 580.3h0M194.5 529.7h0M188.2 506.1h0M184.9 489.7h0M212.9 578.1h0M194.5 549.2h0M190 510.7h0M188.7 590.2h0M223.1 597.8h0M167.9 479h0M215.1 562h0M182.8 490.3h0M183.9 491.1h0M181.2 511.3h0M135.8 473.3h0M198 573.1h0M186 542.4h0M193.2 574.9h0M212.1 589.5h0M206 575.6h0M195.9 562.9h0M217.1 581h0M192.8 530h0M171.1 488.9h0M198.7 530.5h0M204.4 585.2h0M214.5 589.9h0M169.8 499.7h0M199.1 555.4h0M201.1 597.3h0M173.5 492h0M153.7 474.7h0M166.9 522.2h0M213.1 599.7h0M207.2 574.6h0M158.1 510.3h0M188.1 505.6h0M225.8 594.4h0M155.2 476.8h0M176.4 598.7h0M152.3 472.5h0M195.4 523h0M180.1 534.3h0M171.5 491.5h0M175.7 494.7h0M207.6 595.7h0M187.9 587.9h0M169.1 481.3h0M166.6 477.5h0M160.5 492.8h0M219.4 612.1h0M179.2 532.1h0M196.8 571.8h0M173.3 527.5h0M216.1 583.7h0M159.1 499.2h0M215.7 603.6h0M224.4 565h0M175 578.4h0M158.1 484.5h0M184.9 559.8h0M194.2 571.6h0M192.1 570.7h0M190.9 543.6h0M174.6 538.3h0M173.6 523.2h0M215.6 553.8h0M174.9 508.8h0M189.1 516h0M195.7 549.5h0M195 573.3h0M197.3 498.7h0M194.8 541.3h0M211.6 542.9h0M202.1 552.2h0M187.1 496.2h0M181.4 506.8h0M156.4 484.9h0M168.4 587.6h0M215.1 567.2h0M204.6 549.3h0M176.9 563.3h0M169.7 482.1h0M219.9 599.8h0M206.1 579h0M169.2 487.7h0M220.4 589.7h0M162.8 473.8h0M196.2 545h0M178.5 484.3h0M167.9 503.2h0M189 520.9h0M203.8 566.6h0M183.9 504.3h0M203.6 572.5h0M195.6 603.9h0M202 572h0M153.1 552.3h0M198.6 598.6h0M206.7 550.6h0M191.3 535.5h0M163.5 509.7h0M171.7 531.6h0M193.3 595.7h0M152.5 494.3h0M228.1 600.7h0M166.2 534.6h0M210.4 607.8h0M184 547.2h0M191.2 586.7h0M145.6 485.1h0M117.8 481.9h0M204.9 565.5h0M224.6 591.2h0M181.1 528.7h0M175.6 530.2h0M195.3 521h0M224.8 571.7h0M174.6 487.9h0M201.7 597.4h0M195.5 566.6h0M168.7 479.2h0M193.9 583h0M208.4 574h0M178.6 508.6h0M212.9 574.2h0M182.8 508.4h0M232.7 597.4h0M217.6 568.1h0M165.5 497.7h0M196.6 511.7h0M194 534.8h0M171.5 496.7h0M199 587.4h0M189.7 571.6h0M188.1 572.4h0M226.1 592.9h0M190.5 562.7h0M170.4 516.7h0M150.4 562.1h0M187.5 497h0M188 571h0M185.3 547.3h0M175.7 507.3h0M176 547.7h0M185.3 523h0M185.8 503.9h0M172.1 511.7h0M217.4 598.5h0M180.2 499.1h0M206.8 577.2h0M214 601h0M213.1 584h0M182.7 511.5h0M200.4 580.7h0M159.4 513.6h0M164 524.1h0M201.6 570.4h0M184.8 474.9h0M195.7 588.5h0M186.8 492.8h0M191.2 544.4h0M196.9 534.6h0M171.9 495.1h0M173.8 543.3h0M180.7 503h0M217.6 600.3h0M215.9 555.6h0M146.7 490h0M224.5 569.6h0M126.5 484.6h0M165.6 511.7h0M191.8 559.2h0M183.8 509.4h0M205.9 551.8h0M214.2 567.5h0M188.2 520.6h0M191.6 538.7h0M193.3 576.9h0M208.2 559.5h0M189.8 541.5h0M188.5 578.4h0M185.9 573.2h0M219.1 570.6h0M155.8 484.7h0M217.7 602.5h0M171.8 533h0M197 546.8h0M157.3 479.5h0M209.8 582.3h0M212.7 588.5h0M175.2 477h0M174.5 512.3h0M143.3 515h0M194.5 520.8h0M145.9 531.5h0M204.9 573.4h0M176.8 503.7h0M211.1 592.8h0M198.2 568.9h0M207 552.7h0M182.4 558h0M222.2 606.6h0M189.3 601.6h0M222.4 531.7h0M183.5 514.1h0M192.2 534h0M175.8 550h0M190.8 579h0M182.4 561.4h0M171.8 509.1h0M186.3 489.5h0M201.4 550.7h0M177.6 508.8h0M218.3 607.9h0M203.7 582.7h0M197.3 543h0M177.1 507.4h0M182.8 498h0M203.1 564.9h0M210.7 593.2h0M175.2 497.3h0M173.2 503.1h0M170.1 511.8h0M199.8 591.2h0M170.4 487.5h0M186.5 495.4h0M157.6 511.3h0M210.5 555.1h0M187.8 558.2h0M174.7 511.5h0M190.8 532.1h0M221.9 610.2h0M166.1 483.8h0M194.4 544.9h0M200.2 565.8h0M170.5 494.2h0M226.6 608h0M190.5 510.6h0M190.6 571.5h0M214 570.3h0M160.5 509.8h0M194.4 551.3h0M161.9 475.8h0M167.8 500.5h0M186 484.3h0M178.5 483.7h0M190.2 534.1h0M165.7 518.1h0M183.5 533.9h0M176.7 537.6h0M182.7 560.2h0M213.7 602.9h0M179.3 559.9h0M173.8 470.4h0M210.9 537.2h0M156.1 490.4h0M162.2 497.9h0M172.3 512.2h0M166.7 587.6h0M198.4 575.9h0M185.2 503h0M181.8 490.3h0M168.8 465.2h0M202.5 552.9h0M205.3 597.7h0M161.9 482.8h0M194.8 526.2h0M196.4 545.2h0M217.6 583.9h0M207.6 587.4h0M176.7 586h0M187.3 499.8h0M176.4 507.7h0M176 539.5h0M186.4 483.9h0M161.3 486.2h0M208.6 589.4h0M190.6 496.4h0M196.4 543.5h0M171.4 504.5h0M182.2 522.1h0M210.4 601.3h0M202 578.6h0M177.3 474.8h0M185.6 593h0M178.6 533h0M190.4 523.8h0M144.2 478.4h0M199.6 572.9h0M202.9 520.7h0M228.4 583.7h0M193.2 565.5h0M149.1 485.5h0M195.4 572.4h0M155.7 500.3h0M152 479.8h0M171.4 537.9h0M198 559h0M154.4 488h0M202.8 549.1h0M155.3 470.8h0M195.2 576.7h0M189.9 528.9h0M173.2 543.3h0M190.6 557.2h0M207.5 584.9h0M191.9 557.4h0M220.2 576.7h0M201 576h0M231.2 599.4h0M184.8 535.6h0M176.6 556.1h0M140.2 478.1h0M195.1 564.5h0M215.2 572.2h0M165 541.9h0M205.1 599.3h0M188.5 557h0M194.7 592.2h0M214.6 598.8h0M200.3 592.3h0M184 571.9h0M199.1 602.8h0M210.5 563.9h0M165.6 501.4h0M210.9 581.4h0M216.9 589.4h0M195 547.8h0M186.7 539.5h0M142.8 487.7h0M173.5 540.6h0M149.8 480.3h0M217.7 587.1h0M224.5 601.3h0M171.9 488.9h0M181 531.8h0M213.7 574.3h0M162 497.7h0M215 603.3h0M186.8 549.2h0M185.4 545.3h0M201.5 584.1h0M181.6 540h0M153.4 555.1h0M166 505.1h0M176 535.2h0M190.8 505.9h0M223.6 594.3h0M229.1 607h0M186.8 564.2h0M180.2 527.6h0M203.1 558.4h0M214.1 598.1h0M200.5 588.2h0M214.8 590h0M174.9 478.8h0M204.6 544.2h0M185.8 513.7h0M171.4 509.3h0M227.1 607h0M217.8 594.2h0M153.7 510.7h0M208.1 559.3h0M206.8 566.7h0M206.2 575h0M236.8 604h0M201.3 559.1h0M204.9 574.9h0M206 563.3h0M192.4 571.7h0M179.2 517.8h0M181 516.5h0M194 558.1h0M204 542.1h0M172.6 546.7h0M182.5 520.4h0M173.8 546.3h0M209.7 551.9h0M174.7 478.9h0M183.3 498.4h0M167.6 530.4h0M174.8 499.6h0M178.8 504.8h0M153.1 491.2h0M196.9 519.8h0M226.6 571.2h0M163.8 547.7h0M162.9 500.2h0M164.3 517.9h0M171.4 507h0M185.5 509.5h0M185.1 528.5h0M203.4 553.7h0M169.7 503.9h0M177 491.5h0M149.6 506.7h0M171.6 542.1h0M174.6 567.5h0M202.1 584.6h0M196.3 517.2h0M208.1 562.3h0M188.4 551.4h0M161.3 495.8h0M181.2 553.1h0M181.7 536.1h0M187.7 551.5h0M180.2 508.8h0M139.7 482.8h0M167.9 522.3h0M179.4 521.1h0M178.1 497h0M196 563.3h0M193 544.8h0M164.2 501.2h0M224.9 598.3h0M226.1 617.8h0M217.9 565.4h0M190.6 549.2h0M212.6 586.9h0M212 601.3h0M195 570.7h0M177 526h0M190.4 578.5h0M191.7 561.9h0M169.9 512.7h0M187.4 532.8h0M186.6 567.9h0M168.6 499.4h0M151.8 497h0M214 583h0M176.5 486.8h0M156.9 496.4h0M193.7 566h0M194 520.3h0M203.5 577.2h0M202.2 582.3h0M197.9 518.4h0M204.3 577.5h0M182 502.1h0M198.6 556.5h0M163.2 474.3h0M168.6 555.1h0M172.2 568.7h0M193.6 544.5h0M148.7 478.5h0M206.4 580.2h0M169.9 539.9h0M181.3 540.2h0M175.4 543.7h0M169.2 510.6h0M166.1 508.5h0M179.2 551.7h0M177.8 542.4h0M175.3 484.4h0M181.9 506.1h0M181.5 514.9h0M212.2 588.7h0M160.7 539.8h0M159.5 486.1h0M181.4 529.8h0M188.2 546.6h0M177.8 522.3h0M228.2 588h0M198.2 544.1h0M204.9 572.1h0M170.2 483.5h0M162.7 473.9h0M151 483h0M193.6 573.3h0M173.6 480.5h0M221.7 595.5h0M220.9 596.9h0M213.3 590.5h0M213.2 540.6h0M195.8 556.7h0M194.3 576.1h0M194.6 479h0M196.5 577.9h0M132.1 478h0M210 582.2h0M182.4 529.8h0M144 474.6h0M210 595.1h0M211.7 573.8h0M204.3 538.8h0M216.7 564.6h0M165 517.2h0M176.1 535.9h0M158.9 503.8h0M153.3 469.1h0M113.7 485.8h0M175.2 483.3h0M184.5 513.1h0M207.9 597.3h0M182.6 581.1h0M158.8 492.8h0M205.1 598.4h0M180.2 566.8h0M191.2 523.7h0M213.2 585.7h0M167.8 473.5h0M211.1 612.1h0M160.4 525.8h0M154.9 482.8h0M221.8 600.5h0M192.9 571.8h0M217.2 580.3h0M231.9 588.9h0M153.6 474.8h0M167.5 500h0M186.5 546h0M163.9 509.2h0M213.2 578.6h0M161 481.4h0M201.7 536.7h0M207.2 556.6h0M167.1 508.5h0M167.1 508.2h0M181.6 520.8h0M202.7 510.9h0M171.1 495.8h0M193.7 513.6h0M171.4 475.5h0M187.1 528.7h0M185.1 498.1h0M198.2 527h0M183.1 537.4h0M199 556h0M168.8 496.1h0M175.1 531.6h0M203.2 544.1h0M174.4 541.3h0M170.5 496.4h0M205.1 537h0M193.2 498.4h0M185.8 545.4h0M209.5 578.3h0M176.7 523.6h0M161.6 503.4h0M159.5 476.1h0M213.1 600.3h0M180.6 476.5h0M201.7 558.8h0M211.9 598.1h0M188.9 526.7h0M190.8 527h0M213.6 565.9h0M167.7 487.7h0M201.8 556.9h0M207.9 534.7h0M222.1 586.2h0M174.6 480.5h0M169 511.1h0M218.3 585.7h0M154.9 476.5h0M171.7 533.9h0M205.3 572.6h0M193.9 576.8h0M172.4 486.5h0M207.3 586h0M155.5 486.4h0M169.4 485.9h0M208.9 560.4h0M200.9 531.2h0M199.5 510.2h0M177.2 520.3h0M161.8 474.2h0M186.4 575.4h0M217.8 576.7h0M201.6 567.7h0M196.1 516.5h0M184.9 530.7h0M148.4 485.4h0M175.8 472.8h0M172 486.9h0M163.2 507.7h0M230.7 598.1h0M217.4 549.5h0M189.4 550.4h0M144.7 529.5h0M176.9 518.8h0M218.4 612h0M195.6 542.9h0M210.9 596.1h0M158.5 514.7h0M190.1 562.5h0M144.2 485.4h0M162 501.6h0M209.1 587.9h0M204 601.2h0M175.7 495.8h0M191 503.9h0M167 487.2h0M203.3 589h0M154.8 504.6h0M182.2 515.4h0M186.1 535h0M191.3 574.6h0M220.1 581.2h0M156.4 528h0M198.9 543h0M155.3 484.9h0M206.4 578.1h0M219.6 582.4h0M174.2 557.5h0M190.1 556.1h0M148.1 507.6h0M178.4 502.5h0M173 545.8h0M164.4 555.7h0M151.8 533.8h0M175.8 519.6h0M197.1 538.3h0M156.1 487.6h0M156 558.2h0M207.7 582.8h0M177.9 524.2h0M167.1 513.8h0M187.5 543.1h0M186.6 593.9h0M202.4 579h0M202.1 559h0M184.9 520.2h0M174.8 488.7h0M187.2 581.2h0M211.3 594h0M224.9 613.8h0M167.7 516.8h0M201.5 568.7h0M132.9 479h0M200.2 592h0M206.1 585.3h0M199.7 563.3h0M160.9 492.2h0M203.7 595.6h0M190.3 517.1h0M189.5 529.3h0M174.1 522h0M165.6 498.6h0M202.3 565.6h0M171.8 482.1h0M178.4 494.3h0M162.3 473.9h0M181.1 492.6h0M159.6 483.2h0M132 510.6h0M175 538.5h0M150 469.2h0M177.8 491.7h0M204.4 542.9h0M170.8 537.1h0M203.1 575.8h0M159.5 464.5h0M176.1 578.5h0M209.2 561.1h0M202.8 574.6h0M171 488.6h0M200.4 588.1h0M164.5 497.8h0M169 513.5h0M188.3 515h0M211.9 574h0M203.7 571.3h0M158.7 488.5h0M199.5 554.6h0M230.9 559.3h0M171.5 494.8h0M177.3 498.3h0M210.2 567.4h0M172.4 521.3h0M176.6 538.6h0M209.4 577.9h0M168.4 586.1h0M185.8 512.8h0M183.8 488.8h0M195.5 565.6h0M214.2 600h0M48.9 487.1h0M114.2 518.7h0M120.8 476.6h0M121.7 479.4h0M133.1 486.4h0M132.2 501.1h0M133.1 518.7h0M141.6 532h0M233.5 490.6h0M241 610.6h0M238.2 609.2h0" stroke="#FF12A0" stroke-width="2.8" stroke-linecap="round" fill="none"/>
<rect x="35.6" y="454.8" width="227.2" height="168.4" fill="none" stroke="#7f7f7f" stroke-width="1"/>
<path d="M35.6 623.2v-2.2M35.6 454.8v2.2M73.5 623.2v-2.2M73.5 454.8v2.2M111.3 623.2v-2.2M111.3 454.8v2.2M149.2 623.2v-2.2M149.2 454.8v2.2M187.1 623.2v-2.2M187.1 454.8v2.2M224.9 623.2v-2.2M224.9 454.8v2.2M262.8 623.2v-2.2M262.8 454.8v2.2M35.6 623.2h2.2M262.8 623.2h-2.2M35.6 595.1h2.2M262.8 595.1h-2.2M35.6 567.1h2.2M262.8 567.1h-2.2M35.6 539h2.2M262.8 539h-2.2M35.6 510.9h2.2M262.8 510.9h-2.2M35.6 482.9h2.2M262.8 482.9h-2.2M35.6 454.8h2.2M262.8 454.8h-2.2" stroke="#7f7f7f" stroke-width="0.8" fill="none"/>
<g style="font-family:'Liberation Sans', sans-serif;font-size:10px;fill:#000"><text x="35.6" y="637" text-anchor="middle">-800</text><text x="73.5" y="637" text-anchor="middle">-600</text><text x="111.3" y="637" text-anchor="middle">-400</text><text x="149.2" y="637" text-anchor="middle">-200</text><text x="187.1" y="637" text-anchor="middle">0</text><text x="224.9" y="637" text-anchor="middle">200</text><text x="262.8" y="637" text-anchor="middle">400</text><text x="31.7" y="627" text-anchor="end">-600</text><text x="31.7" y="598.9" text-anchor="end">-400</text><text x="31.7" y="570.9" text-anchor="end">-200</text><text x="31.7" y="542.8" text-anchor="end">0</text><text x="31.7" y="514.7" text-anchor="end">200</text><text x="31.7" y="486.7" text-anchor="end">400</text><text x="31.7" y="458.6" text-anchor="end">600</text></g>
<text x="149.2" y="451.6" text-anchor="middle" style="font-family:'Liberation Sans', sans-serif;font-weight:bold;font-size:8.4px">[PRCC , p-value, Time] = [-0.7709 , 1.0458e-197, 100].</text>
<path d="M368.3 481.7h0M453.8 581.1h0M401.9 496.3h0M499.5 586.4h0M409.6 532.9h0M477.4 586.2h0M423.1 516.5h0M370.8 487.3h0M449.1 543.6h0M372.4 480h0M377.5 498.1h0M472.7 562.9h0M402.6 526.7h0M397.7 508.2h0M391.5 488.3h0M377.6 478.2h0M458.4 583.8h0M388.1 507.3h0M494.3 592h0M415.2 480.8h0M458.8 567.1h0M363.6 486.4h0M447.7 559h0M369.8 475.7h0M434.7 538.5h0M456.8 562.8h0M442.4 565.5h0M394.1 523.6h0M442.5 566.5h0M404.8 520.8h0M480.5 584.8h0M447.4 573.6h0M375.4 475.6h0M425.3 527.3h0M477.7 575.5h0M461.6 583.7h0M501.6 590h0M471.4 573h0M435.8 550.4h0M414.2 522.7h0M374.4 494.5h0M392.7 503.8h0M452.2 564.1h0M489.7 590.3h0M416.9 546.2h0M435.6 541.5h0M411.7 529.6h0M431 560.9h0M422 521.3h0M507.1 595.1h0M460.7 575.4h0M383.1 502.6h0M379.8 475.5h0M373.5 498.1h0M359.2 489.3h0M403.5 492.5h0M458.4 545.4h0M395.2 500.1h0M409 523.6h0M415.1 551.7h0M441.7 572.8h0M378.5 503.3h0M509.5 603.2h0M384.4 496.7h0M380.9 490.6h0M439.4 549.5h0M380.4 495h0M453.4 559.6h0M389.2 538.7h0M410.4 530.5h0M478.5 580.9h0M465 561h0M456.3 565.6h0M440.3 548.4h0M364.6 507h0M402.5 513.6h0M415.5 534.1h0M412 544.5h0M419.8 539.4h0M452.2 568.9h0M468.9 585.9h0M463.4 572.7h0M420.9 524.1h0M492.5 592h0M418.2 520.5h0M442.3 570.5h0M480.1 586.6h0M422.4 540.6h0M445.3 559.1h0M514.1 591.8h0M396.9 510.8h0M375.8 498.2h0M499.2 596.3h0M393.8 519.4h0M448.5 568.7h0M433.8 556.3h0M387.2 500.3h0M381.7 529.4h0M493 605.3h0M493.1 598.6h0M435.6 555.3h0M374 479.4h0M471.4 584.2h0M433.9 550h0M462.5 587.1h0M404.3 501.6h0M443.6 564.3h0M437.1 555h0M443.8 564.5h0M366.9 491.5h0M418.5 553.7h0M494.9 601.1h0M426.3 503.3h0M453.6 582.3h0M467.5 580.3h0M442.3 573.3h0M413.6 532.7h0M365.8 481.3h0M448.1 580.3h0M407.9 542.6h0M395.5 524h0M370.6 469.2h0M373.5 484.1h0M435.1 563.8h0M438.3 552.6h0M426.3 542.1h0M474.5 588.1h0M388.5 491.1h0M377.4 485.2h0M419.6 553.6h0M407.1 511.1h0M380.8 496.4h0M414.9 540.4h0M407.6 498.5h0M354.8 468h0M369.4 486.7h0M417.3 547h0M484.8 584.6h0M391.3 493.3h0M383.6 477.7h0M410 538.2h0M438.2 564.1h0M367.8 486.7h0M391.4 492.7h0M404.3 534.7h0M372.9 486.3h0M416.5 554h0M511.9 607.3h0M486.3 595.8h0M442.7 544.7h0M458.4 569.2h0M493.2 605.4h0M445.7 582h0M372.6 501.3h0M460.5 576.1h0M454.9 576.8h0M372.4 481.6h0M486 592.7h0M417.8 555.6h0M464.5 592.1h0M388 513.3h0M493.4 603.4h0M366.2 494.9h0M498.9 592.6h0M375.1 501.5h0M393.9 534h0M436.8 554.8h0M422 532.8h0M451.9 544.3h0M444.2 568.3h0M381.8 489.3h0M417.7 550.4h0M407 538.1h0M352.2 485.3h0M491.9 601.2h0M491.1 595.5h0M355.6 475.4h0M406.7 514.7h0M483 563.7h0M350.4 471.8h0M423.1 542.5h0M417.5 545.2h0M460.2 578.5h0M418.4 542.6h0M467.1 564h0M406.2 521.7h0M466.4 578.2h0M418.8 520.5h0M434.6 555.8h0M462 559.2h0M493.6 605.7h0M473.9 592h0M441.6 557.5h0M373.1 476.9h0M402.8 523.7h0M468.5 586.1h0M388.5 530h0M447.9 559.8h0M487 597.1h0M453.3 567.8h0M461 581.9h0M387.1 496.9h0M376.1 512.4h0M445.4 571.7h0M378.1 496.5h0M418.8 540.6h0M386.5 474.5h0M389.2 494.4h0M452.8 553.7h0M443.4 545.7h0M418.9 541.7h0M426.8 532.4h0M477.8 584.1h0M432.1 572.5h0M439 560.5h0M434.8 538.1h0M490.5 582.3h0M374.7 482h0M453.8 579.4h0M385.9 488.6h0M462.1 578.6h0M414.2 538.1h0M472.3 583.4h0M390.7 529.8h0M496.4 595.2h0M417.8 525.4h0M467.3 584h0M389.3 517.9h0M484.4 591.1h0M381.9 478.2h0M416.6 542.1h0M470.9 580.5h0M475.1 596.1h0M418 564.1h0M385.4 484.4h0M426.4 545.4h0M381.9 484.8h0M455 591.6h0M437.1 564.4h0M384.3 483.9h0M414.4 554h0M473 591.3h0M375.5 509.3h0M399.2 509h0M453.2 569.3h0M416.1 523.2h0M354.9 481.1h0M441.4 564h0M465.8 588.6h0M400 489.5h0M412.9 532.1h0M396.1 516.6h0M383.4 502.7h0M479.7 597.9h0M451.3 581.6h0M388.4 511.3h0M379.6 481.5h0M418.8 551.2h0M435.6 541.1h0M377.8 477.9h0M396.1 514h0M382 473.3h0M388.5 506h0M384.1 515.6h0M453.3 547.7h0M388.9 546.5h0M414.1 535.2h0M433.6 547h0M402.8 519.7h0M490.1 606.4h0M473.4 590.5h0M395.9 523.3h0M411.6 535.1h0M453 575.3h0M486.6 588.7h0M468.9 586.6h0M361.4 473.1h0M432 547.2h0M479 585.5h0M519.2 604.9h0M369.5 498.2h0M477.1 592.5h0M418.6 551.4h0M416.8 538h0M403.8 532.8h0M381.1 469.4h0M418.3 539.2h0M478.2 599h0M403.9 515.1h0M387.8 501.3h0M390.9 496.1h0M370.8 485.4h0M386.7 509.6h0M383.2 512.3h0M402.2 510.1h0M416 530.3h0M421 540.1h0M487.2 590.6h0M413.6 544.5h0M402.6 508.7h0M397.3 518.6h0M457.6 566.6h0M421.9 548.5h0M390.7 502.2h0M397.7 525.5h0M388.6 488.2h0M425.4 540.5h0M408.5 528.2h0M461 573.2h0M401.3 524.5h0M492.9 603.9h0M433.4 537.2h0M402.7 507.2h0M396.4 499.8h0M415.2 532.7h0M447 556.1h0M514.7 591.1h0M405.2 551.4h0M509.7 604.4h0M402.4 505.3h0M369.6 476.5h0M440.2 558.9h0M494.5 597.9h0M419.8 520.8h0M423.6 548.5h0M373.8 477.5h0M407.4 506.9h0M501.6 601.8h0M402.3 531.9h0M408 542.8h0M406.9 495.1h0M408.3 522.6h0M515.4 606.7h0M429.7 548.9h0M380.6 482.6h0M399 535.6h0M463.6 565.2h0M472 594.7h0M374.5 503h0M480.2 597.3h0M421.8 533.4h0M368.2 469.3h0M406.7 501.7h0M495 612.1h0M441.5 547.1h0M373.6 477.2h0M426.3 554.8h0M398.6 515.4h0M385.1 481.4h0M426.5 550.9h0M475.4 577.7h0M382.4 483.9h0M377.6 472.8h0M405.9 540h0M393.7 518.4h0M365 486.6h0M499.1 605.5h0M414.4 525.5h0M459.8 562.9h0M394.2 529.7h0M360.4 488.8h0M485 590.2h0M492.2 599.4h0M397.9 529.8h0M383.5 474.6h0M454.9 580.1h0M366.5 474.6h0M374.8 483.3h0M377.8 489h0M413.9 514.5h0M409.9 528h0M407.9 518.9h0M378.6 498.6h0M480.7 601.3h0M407.7 504.1h0M509.2 593.6h0M406.6 532.3h0M410 546.7h0M356.5 513.7h0M445.9 572.7h0M467.2 596.3h0M414.9 514.5h0M418.9 559.4h0M399.4 508.9h0M452.7 572.4h0M404.3 541.5h0M377.9 491.2h0M513.2 604.5h0M403.8 533.1h0M384.3 488.3h0M341.1 483.7h0M470.8 588.2h0M436.4 560.7h0M385.9 502.5h0M443.1 542.9h0M374 490.9h0M472.5 591.2h0M438.9 561.9h0M494.5 606.2h0M385.9 492.9h0M521.8 605.6h0M506.8 577.3h0M424.5 530.8h0M500 607.1h0M456 552.8h0M400.1 541.7h0M521.8 597.5h0M380 504.6h0M376.1 500.6h0M444.7 570.3h0M390.6 493.7h0M415.7 544.5h0M413.9 529.1h0M379.7 472.8h0M500.9 605.2h0M421.7 537h0M376.1 496.2h0M406 487.5h0M466.3 570.3h0M423.3 538.6h0M434.2 568.6h0M430.4 545.1h0M382.3 511.3h0M364.6 496.2h0M422.3 524.6h0M437.9 556h0M432.5 564.8h0M409.4 513.6h0M512.4 592.3h0M466.5 592.6h0M438.5 563.6h0M498.8 604h0M385.4 484.7h0M369.4 475.9h0M399.2 526.8h0M402 531.1h0M438.3 548.2h0M452.3 577.6h0M448.7 560.4h0M413.2 546.1h0M488.9 596h0M359.9 482.9h0M425.9 557.1h0M427.6 547.8h0M452.7 570.5h0M425.5 551.5h0M395.3 488.8h0M466.7 567.3h0M396.7 516.8h0M363.5 479.6h0M402 532.1h0M373.5 490.9h0M441.8 560h0M393.4 502.7h0M477.1 578.5h0M389.3 491.8h0M503.5 592.7h0M438.5 559.8h0M353.4 471.1h0M379.3 497.6h0M411.7 524.1h0M455 555.2h0M421.6 542h0M412.8 520.5h0M442.6 557.6h0M428.8 523.8h0M349 487.7h0M452.1 579.2h0M401.5 523.8h0M386.9 485.2h0M444.2 564.3h0M380.7 502.7h0M490.4 597.6h0M453.5 567.4h0M379.2 495.4h0M385.4 522.8h0M367.2 474.4h0M403.9 534.8h0M472.4 578.2h0M487 600.1h0M377.8 471.3h0M497.8 599.4h0M375.3 490.2h0M402.8 518h0M381.1 480.8h0M398.1 469.8h0M421.1 551.6h0M453.7 571.1h0M395 498.9h0M428.1 553.3h0M498 606.7h0M365.9 472.6h0M419.7 527.3h0M424 504.3h0M473 592.2h0M397.1 542.2h0M389.2 496.3h0M361.4 473.3h0M422.1 560.2h0M414.1 548.6h0M356.6 491.9h0M505.5 591.8h0M483.6 578.9h0M398.9 497.1h0M393.1 492.2h0M389.5 499.4h0M495.3 605h0M414 548.7h0M384.2 486.8h0M424 516h0M516.1 597.2h0M394.9 514.6h0M474.7 576.9h0M478.5 590.1h0M486.4 584.8h0M377.9 487.8h0M445 575.4h0M407 544.8h0M401 513.4h0M491.6 592.2h0M386.1 500.7h0M453.2 584.5h0M364.3 487.3h0M428 560.6h0M414.5 515.3h0M370.7 515.2h0M473.8 589.9h0M471.3 589h0M389.6 506.7h0M426.1 559h0M437.3 547h0M450.8 567.8h0M376.4 493.2h0M476.4 589.6h0M417.6 541h0M382.1 490.7h0M451.5 578.8h0M413.2 554.9h0M395.8 524.6h0M427.9 542.4h0M368.4 477.4h0M456.6 584.7h0M493.6 589.2h0M479 599.7h0M444.7 552.3h0M475.5 605.7h0M462.1 572.9h0M429.8 472.7h0M504.6 586.4h0M438.2 564.5h0M372.4 469.6h0M420 533.3h0M388 485.8h0M373.7 468.9h0M391.9 540h0M395.1 504.7h0M406.3 525.5h0M491.6 603.8h0M382.6 497.7h0M469.9 590.5h0M497.6 583.2h0M434.7 564.6h0M414.9 512.3h0M524.3 593.4h0M432.9 550.7h0M397.5 494.9h0M379.9 509.5h0M438.4 531.2h0M377.5 486.9h0M456.6 569.8h0M492.2 594.4h0M411 552.3h0M449.2 573.2h0M409.8 512.1h0M389.1 499h0M423.5 533.5h0M477.5 599h0M411.7 547.4h0M385.2 487h0M421.3 540.9h0M373.3 480.9h0M371.4 473h0M467.7 588.4h0M388.3 485.4h0M462.8 584.3h0M422.8 541.9h0M438 556.4h0M374.3 481.4h0M442.4 554.2h0M423.5 552.9h0M373.1 475.4h0M481.4 582.1h0M458.8 577.7h0M430.8 528.6h0M453.2 581.2h0M414.7 541.2h0M483 594.5h0M442.4 566.7h0M402.7 508.5h0M408.6 545.7h0M436.3 565.4h0M472.3 567.2h0M457.5 573.8h0M402.1 489.9h0M387.4 516.8h0M516.6 600.3h0M495.5 601.1h0M430.5 549.9h0M458.8 562.1h0M407.5 528.5h0M409.5 545.4h0M453.2 563.7h0M396.7 533.5h0M412.5 532.6h0M428.2 542.6h0M382.7 480.6h0M395.4 520.9h0M395.6 501.9h0M375.7 476.6h0M404.8 521h0M368.5 486.6h0M404.1 533.3h0M373.3 513.9h0M440.7 566h0M424.6 552.7h0M436.7 541.9h0M433.2 546.9h0M423.9 548.7h0M384.9 523.5h0M478.1 582h0M429.9 566.4h0M398.4 518.9h0M468.9 578.7h0M476.1 586.5h0M385.3 522.2h0M469.6 593.7h0M348.4 460.6h0M496.8 603h0M498.8 595.3h0M412.9 532.2h0M401.8 513.7h0M486.8 583.1h0M422 543h0M396.5 524h0M443.1 566h0M370 481.6h0M468.1 587.6h0M369.4 486.2h0M511.5 608.5h0M364.1 480.8h0M398.3 520.4h0M418.8 528h0M452.5 565.1h0M517.1 601.3h0M405.6 538.6h0M376.6 480.7h0M383.6 516.7h0M378.8 498h0M440.2 548.5h0M382.4 507.2h0M370 473.1h0M445.9 556.6h0M411.2 521.6h0M422.8 567.3h0M434 561.6h0M511.2 600.4h0M521.4 604.4h0M389 498h0M525.2 603.8h0M400.9 508.8h0M402.3 519.9h0M383.2 504.7h0M448.2 568.2h0M380.6 491.5h0M384.3 523.6h0M408.9 532.1h0M416.6 536h0M413.4 531.5h0M374 487.4h0M398.3 475.9h0M384.2 522.5h0M377.2 526.5h0M452 537.3h0M410.2 535.8h0M377.8 471.7h0M448.7 571.7h0M377.8 502.6h0M485.4 598.4h0M371 481.6h0M375.2 511.3h0M406.1 516.7h0M381.2 480h0M412.1 538.7h0M485.9 592.6h0M456.6 562.8h0M383.6 485.3h0M492.7 595.1h0M507.1 602.8h0M381 469.7h0M486.5 594.1h0M536 613.7h0M503.9 598h0M358.9 481.7h0M486.2 607.7h0M394.3 500h0M398 513.6h0M417.9 540.7h0M407.4 540.6h0M393.1 476.8h0M487.9 598h0M490.7 598.9h0M508.2 606h0M382.6 529.1h0M451.9 552h0M371.4 472.5h0M390 503.7h0M447.4 571.1h0M382.6 474.7h0M395.5 533.4h0M411.4 541.2h0M479.4 558.5h0M419.3 542h0M381.1 524.1h0M368.7 466.1h0M361.9 474.7h0M393.6 529.2h0M438.2 549.6h0M452.9 576.1h0M392.6 471.3h0M375.5 497.1h0M451 562.2h0M403.5 540.2h0M429.8 565.4h0M382.7 477.4h0M398 527.1h0M436.6 552.1h0M443.7 561.4h0M407.7 518.2h0M465.6 582.7h0M377.7 489h0M416.6 535.5h0M420.3 535.6h0M390.8 499.7h0M372 481.1h0M485.3 579h0M468.6 588.7h0M373.3 483.7h0M356.8 486.1h0M381.6 501.2h0M425.3 544.2h0M454.9 561.9h0M380 470.6h0M494.3 588h0M386.9 477.1h0M490.2 599.2h0M399.8 467.5h0M394.4 482.3h0M503 576.1h0M360.4 479.5h0M392.6 494h0M365.6 489.1h0M377.1 471.7h0M399.5 482.9h0M405.8 555.1h0M424.8 542.5h0M454.6 560.1h0M484.2 597.7h0M412.6 540.1h0M455.7 581.8h0M446.8 558.9h0M391.8 495.4h0M510.1 598.6h0M501.4 605.5h0M401.7 490.1h0M391.6 521.5h0M371.3 497.2h0M412.6 542.6h0M375 506.7h0M475.3 593.7h0M377.8 487.1h0M403.7 512h0M469.7 573.8h0M426.1 540.7h0M484.1 586.4h0M422.3 560.2h0M385.3 491.7h0M422.6 515.8h0M392.2 515h0M388.8 500.1h0M386.3 499h0M442.3 553.6h0M408.6 523.9h0M351.1 479.2h0M391 514.1h0M372.4 488.1h0M378.8 477.7h0M421.6 551.6h0M430.1 558.7h0M379.5 476h0M468.7 579.2h0M399.1 491.6h0M403.8 531.6h0M536.1 578.8h0M475.3 585.6h0M453.9 552h0M478.4 584.1h0M387 503.9h0M381.8 470.9h0M406.3 526.7h0M439.3 548.5h0M421.8 550.6h0M381.9 511.6h0M407.4 511.3h0M417.1 563.5h0M492.6 594.9h0M399.1 530.5h0M406.4 519.2h0M388.7 507.4h0M470.5 587.8h0M373.7 479h0M445.6 569.6h0M461.9 564.1h0M443.4 554.8h0M479.8 595.3h0M372.8 487.8h0M447.2 546.2h0M390 504.2h0M457.2 562.9h0M406.6 525.7h0M501.1 603.8h0M398.8 546.5h0M400.9 499.9h0M398 491.5h0M422.4 554.7h0M386.8 485.8h0M402.3 497h0M394.2 507.1h0M382.4 499.3h0M428.1 558.1h0M401.7 501.8h0M486.3 593.7h0M382.9 484.2h0M373.7 495.3h0M421.2 562.7h0M421.2 556.2h0M407.2 534.5h0M451.7 567.1h0M435.1 543h0M388.7 498.1h0M462.9 581.4h0M509.5 606.8h0M449.7 574.9h0M392.5 506.8h0M369 493.2h0M400.6 515.2h0M363.2 484.4h0M442.1 568.4h0M441.9 562.1h0M391 501.1h0M465.3 580.8h0M369.3 464.5h0M503.5 601.5h0M384 492.7h0M502.7 599.7h0M460.7 573.7h0M403.4 520.2h0M474.1 600.2h0M421.3 525.5h0M473.1 587h0M393.9 522.1h0M410.3 514.9h0M476.5 585.9h0M406.6 536.6h0M434.8 557.9h0M456.6 568.5h0M487.3 595.2h0M464.6 552.7h0M433.7 552.1h0M346 468.9h0M491.6 576.8h0M389.1 524.8h0M384.8 530.6h0M348.1 467.6h0M419.8 534.8h0M380.2 516.4h0M466.4 588.2h0M387 482.2h0M450.5 554.5h0M506.5 601.7h0M484.4 598.1h0M461 577.3h0M468.7 573.4h0M427.2 549.5h0M448.1 558.4h0M472.2 585.2h0M381.3 526.8h0M467.6 589.4h0M399.2 506.5h0M365.9 469.9h0M448.9 579.7h0M464.3 574.7h0M482.4 597.3h0M441.9 549h0M497.7 609.4h0M476.9 581.8h0M487.2 600h0M453 560.9h0M364.7 472.4h0M415.4 535.9h0M373.5 488.7h0M478.4 586.8h0M434.1 555.2h0M493.7 594.4h0M455.6 574.8h0M413.3 539.2h0M467.1 570.9h0M411.4 526.4h0M428.2 533.5h0M367.9 484.5h0M411 510.9h0M445.5 564h0M481.5 593h0M388.6 520.8h0M472 595h0M376.6 475.5h0M411.8 523.5h0M435 553.8h0M506.3 602.3h0M454.3 593.4h0M396.1 512h0M376.9 488.6h0M506 596.6h0M406.8 542.4h0M438.2 571.9h0M379.4 487.2h0M416.7 536.8h0M498.4 605.1h0M459.1 574.8h0M505.3 603.4h0M409 535.7h0M395 480.3h0M380.3 511.6h0M422.1 533.9h0M420.2 571.7h0M388.9 485.9h0M419.4 551.8h0M379.5 483.8h0M377.7 484.3h0M442.5 571.5h0M442.7 565.4h0M393.6 520.1h0M419.3 545.8h0M385.2 482.6h0M355.1 475.4h0M457.3 568.9h0M375.6 497.9h0M470.2 578.6h0M465.6 579.5h0M504.8 602.1h0M462.6 581h0M390.5 497.7h0M399 522.4h0M435.9 555.9h0M456 568.5h0M450.7 556.7h0M454.4 566.8h0M387 507.9h0M417.4 555.9h0M467.9 586.1h0M420.8 541.6h0M382.6 499.5h0M385.5 474h0M386.5 474.3h0M393.2 506.1h0M452.9 583h0M392.7 506h0M471 588.5h0M360.2 488.6h0M393.8 515.6h0M429.6 565.7h0M514.4 613.5h0M383.5 525.8h0M405.4 547.1h0M497.2 600.6h0M437.5 522.9h0M445.1 563h0M459.4 575.9h0M429.1 547.7h0M373.8 488.7h0M398.3 541.3h0M420.3 543.8h0M494.9 603.7h0M454.9 585.1h0M450.3 548.6h0M448.4 579.4h0M386.8 487.9h0M454.3 548.4h0M457.7 576.1h0M455 577.2h0M429.6 600.9h0M463.3 594.5h0M457.3 597.7h0M444.9 600.9h0M465 594.2h0M450.2 600.5h0M470 597h0M412.9 608.8h0M465.7 598.7h0M447.6 599.5h0M478.9 611h0M464.8 608.7h0M458.1 594.6h0M468.5 602.5h0M430 593.5h0M454.5 594.8h0M456.4 604.8h0M419.1 607.6h0M342.1 473h0M343.2 485h0M348.9 485h0M347.7 503.2h0M370.4 542.5h0M439.6 476.6h0M451 478h0M440.8 497.6h0M454.4 523.6h0M463.5 532.7h0M418.1 595.1h0" stroke="#4DBEEE" stroke-width="2.8" stroke-linecap="round" fill="none"/>
<rect x="336.4" y="454.8" width="226.9" height="168.4" fill="none" stroke="#a0a0a0" stroke-width="1.8"/>
<path d="M336.4 623.2v-2.2M336.4 454.8v2.2M381.8 623.2v-2.2M381.8 454.8v2.2M427.2 623.2v-2.2M427.2 454.8v2.2M472.5 623.2v-2.2M472.5 454.8v2.2M517.9 623.2v-2.2M517.9 454.8v2.2M563.3 623.2v-2.2M563.3 454.8v2.2M336.4 623.2h2.2M563.3 623.2h-2.2M336.4 595.1h2.2M563.3 595.1h-2.2M336.4 567.1h2.2M563.3 567.1h-2.2M336.4 539h2.2M563.3 539h-2.2M336.4 510.9h2.2M563.3 510.9h-2.2M336.4 482.9h2.2M563.3 482.9h-2.2M336.4 454.8h2.2M563.3 454.8h-2.2" stroke="#a0a0a0" stroke-width="0.8" fill="none"/>
<g style="font-family:'Liberation Mono', monospace;font-size:9.2px;fill:#555"><text x="336.4" y="636" text-anchor="middle">-400</text><text x="381.8" y="636" text-anchor="middle">-200</text><text x="427.2" y="636" text-anchor="middle">0</text><text x="472.5" y="636" text-anchor="middle">200</text><text x="517.9" y="636" text-anchor="middle">400</text><text x="563.3" y="636" text-anchor="middle">600</text><text x="337.2" y="627" text-anchor="end">-600</text><text x="337.2" y="598.9" text-anchor="end">-400</text><text x="337.2" y="570.9" text-anchor="end">-200</text><text x="337.2" y="542.8" text-anchor="end">0</text><text x="337.2" y="514.7" text-anchor="end">200</text><text x="337.2" y="486.7" text-anchor="end">400</text><text x="337.2" y="458.6" text-anchor="end">600</text></g>
<text x="375.2" y="450" text-anchor="start" style="font-family:'Liberation Mono', monospace;font-weight:bold;font-size:8.33px">[PRCC , p-value, Time] = [-0.92341 , 0, 100].</text>
<path d="M734.8 605.8h0M777.9 544h0M792.7 531.9h0M721.3 611.5h0M713.3 595.6h0M757 488.7h0M701.5 616.6h0M730.1 603.9h0M833.8 475.6h0M781.4 524.9h0M757.4 562.1h0M787.9 552.8h0M782.1 533.8h0M742 580.7h0M728.2 599.5h0M786.5 505.5h0M827.3 518.1h0M762.8 543.8h0M806 504.1h0M774.7 541.8h0M802.2 473.6h0M748.6 587.8h0M802.2 537.3h0M810.8 536.4h0M767.8 567.6h0M782.1 530.8h0M753.7 588.4h0M779.6 502.3h0M812.5 488.5h0M750.4 596.5h0M782 550.4h0M731.3 575.6h0M689.4 605.7h0M839.5 495.8h0M746.2 570.8h0M712.5 585.4h0M777.2 515.5h0M738.1 588.8h0M831 494.3h0M732.8 592.4h0M735.3 606.8h0M723.9 602.1h0M764.4 569h0M793.5 545.3h0M805.4 484.6h0M806.3 512.3h0M749.4 569h0M705.9 604.2h0M734.5 599.6h0M798.4 478.6h0M774 549.4h0M787.4 510h0M707.9 610.4h0M702.9 608.1h0M828.2 496.7h0M785 537.6h0M759.4 566.2h0M788.1 564.1h0M674.2 597.7h0M709.2 594.9h0M805.6 500.7h0M778.4 550.9h0M737.6 596.7h0M807.4 507.3h0M711.3 596.3h0M742.5 608.1h0M794.5 530.3h0M806 486.4h0M684.2 614.3h0M813 501.1h0M729.5 587.4h0M708.6 603.9h0M707.4 614.4h0M750.9 578.5h0M786.1 509.7h0M795.9 546.4h0M785.7 503.2h0M721.8 584h0M757.2 573.2h0M751.8 575.9h0M814.5 475.5h0M804.4 480.7h0M757.1 567.2h0M757.6 554.3h0M722.2 574.2h0M810.5 517.3h0M698.9 603.5h0M698 615.8h0M774.2 560.6h0M746.6 579.1h0M859 492.4h0M776.6 506.7h0M772.2 534.5h0M799.8 515.1h0M822.8 515.2h0M804.6 489.7h0M783.6 487h0M747.9 595.1h0M774.1 528.1h0M718 599.7h0M784.4 551.8h0M794.7 495.9h0M800.5 490.4h0M809.3 510.3h0M705.7 609.5h0M764.4 562.9h0M723.6 584.9h0M810.4 466.8h0M707.2 595.9h0M713.8 583.9h0M788.3 564.8h0M716.5 610.1h0M823.3 497.1h0M775.6 524.8h0M726.4 595.6h0M766.7 546.2h0M685.1 608.7h0M805.2 520.5h0M731.5 580.9h0M707.4 608h0M688.9 604.2h0M795.6 541.6h0M805.2 526.1h0M761.1 569.4h0M776.1 525.5h0M746.5 567.4h0M750 594.4h0M748.6 570.5h0M762.3 564.9h0M812.7 486.4h0M695.7 604.3h0M741.9 604.6h0M703.8 541.4h0M816.5 477.8h0M809.8 481.8h0M733.2 515.4h0M711 612.7h0M813.2 502.9h0M797.8 517.4h0M713.4 594.7h0M782.1 546h0M726.2 611.6h0M805.8 506.9h0M833.8 506h0M821.4 498.8h0M816.9 504.7h0M771.8 577.5h0M789.5 507.3h0M732.7 583.1h0M734.5 596.7h0M774.3 556h0M801.2 544.9h0M753 591.2h0M791.3 530.5h0M794 528.1h0M743.5 576.8h0M787.5 523.5h0M759.6 553.9h0M820 503.6h0M746.5 569.1h0M800.3 496.5h0M765 563.9h0M777.4 533h0M793.3 516.6h0M738.7 544.7h0M754.3 577.6h0M808 472.6h0M716.8 606.3h0M759.8 571.1h0M749.5 538.9h0M747.9 612.8h0M727.8 597.5h0M810 498.4h0M767.7 512.4h0M804 526.1h0M816.5 494h0M795.5 509.7h0M758.3 571.9h0M818.6 523.5h0M750.8 568.8h0M787 507.9h0M791.9 554.2h0M726.6 601h0M809.6 485.4h0M836.8 524.2h0M805.2 511.2h0M783.7 535.3h0M809 507.4h0M765 551.5h0M793.5 531.7h0M707.9 614.7h0M773.8 537.1h0M802.6 500.5h0M801.4 524h0M813.9 501.3h0M783.7 549.2h0M828.4 482.5h0M719.5 606.5h0M823.5 481.6h0M752.3 566.3h0M724.6 595.5h0M838.5 524.8h0M739.7 549.3h0M777.8 551.5h0M869.9 488.9h0M665.4 591.2h0M824.9 519.4h0M734.1 559.2h0M781.7 546.7h0M793.4 557.7h0M748.2 600.3h0M766.3 539.4h0M786.2 490h0M707 592.5h0M713.9 618.1h0M701.2 611.3h0M770 552.1h0M819.1 473.4h0M706.8 620.1h0M825.2 469.4h0M776.9 546.5h0M691.7 601.3h0M787.8 559.8h0M687.4 589.5h0M819.4 518.5h0M766.5 544.3h0M745.3 577.1h0M730.5 585.9h0M805.8 479.3h0M801.7 507.8h0M759.9 557.4h0M742.2 561.4h0M814 515.2h0M799.6 487.6h0M735.5 607.7h0M727.7 593.4h0M740.4 572.3h0M784.6 543.7h0M720.5 613.5h0M692.2 610.5h0M736.3 584.3h0M787.6 559.3h0M783.8 507.7h0M772.5 532.1h0M712.4 609.7h0M683.2 613.7h0M728.9 550.2h0M779.7 486.6h0M818 485.5h0M765.1 570.8h0M822.1 485.2h0M817.6 487.3h0M738.6 562.8h0M811.3 514.1h0M781.7 560.6h0M714 596.5h0M792.4 544.6h0M712.4 602h0M803.9 511h0M816 491h0M783.1 486.7h0M794.5 552.1h0M708.4 598.5h0M810.3 481.6h0M800.2 490.4h0M820.7 481.6h0M798.9 527.5h0M798.3 516.5h0M779.1 569.8h0M735.8 593.1h0M744.3 574.1h0M747.3 512.6h0M751.1 568h0M794.3 513h0M763.9 542h0M754 552.9h0M822.9 482.8h0M752.2 590.9h0M813.3 540.1h0M760.3 585.3h0M799.1 480.9h0M778.7 546.7h0M736.6 562.6h0M751.8 586.6h0M796 529.5h0M755.2 556.3h0M715.6 603.2h0M704 610.7h0M747.4 564.8h0M809.6 533.4h0M831.3 542.7h0M825.3 488.5h0M827.5 494.7h0M814.3 484.9h0M799.6 499.4h0M810.3 548.5h0M771.3 543.3h0M780.2 557.9h0M763.7 556.3h0M722 608.1h0M802.5 505h0M754 582.1h0M680.4 615.5h0M766 554h0M820.9 520.2h0M749.4 554.8h0M743.7 569h0M825.4 511.4h0M735.7 594.8h0M719.9 617.6h0M747.5 533.3h0M790.6 531.5h0M784.1 495.8h0M740.2 558h0M810.1 506.7h0M723 616.2h0M677.4 614.4h0M773.4 525.2h0M722.2 591.8h0M708.8 608.5h0M709.2 591.8h0M796.9 565.7h0M764.9 569.7h0M774.6 539.8h0M795.8 500.6h0M798.4 565.1h0M779.3 585.6h0M776 535.7h0M701.3 626.7h0M783.6 560.5h0M732.7 571.3h0M755.1 556.6h0M737.2 606.4h0M770.1 538.3h0M785.6 524.8h0M773 517h0M799.6 472.5h0M769.7 565.3h0M782.5 516.8h0M750.2 548.3h0M726.1 588.1h0M842.6 488.6h0M802.4 513.1h0M798.8 489.9h0M808.9 498.4h0M819.7 483h0M717.4 604.7h0M673.7 612.5h0M741.7 588.6h0M762.2 555.6h0M810.5 521.1h0M736.3 562.4h0M799.1 539.3h0M794.3 503.7h0M680.3 608.4h0M819.4 520.8h0M696.5 612.4h0M749.2 582.4h0M795.2 514.8h0M810 527.7h0M785.3 555.1h0M762.4 582.2h0M819 498.4h0M717.1 579.4h0M675.7 612.4h0M738.3 589.7h0M692.4 609.3h0M815.3 496.2h0M728.4 596.6h0M787.4 469.4h0M714.8 590.8h0M716.3 588.3h0M772.1 530.8h0M752.6 566.7h0M776.1 557h0M737.7 605.5h0M743.3 561.6h0M694.6 613.1h0M756.5 594h0M826.1 488.1h0M749 580.1h0M662.5 570.9h0M776.4 521.7h0M817.9 481.2h0M739.7 574.7h0M787.8 571h0M805.3 502.8h0M807 506.7h0M772.6 525.2h0M722.6 583.7h0M716.7 594.2h0M773.4 512.9h0M796.1 509.5h0M816.9 486.4h0M804.7 509.7h0M777.7 561.6h0M696.1 600.5h0M815 483h0M806.2 517.6h0M816.3 530.5h0M796.1 510.3h0M777.9 555.6h0M746.6 560.9h0M797.7 527.9h0M772.9 555.1h0M789.4 508.4h0M803.6 479.3h0M806.6 494.5h0M766.5 566.5h0M732.6 571.1h0M826.1 487.6h0M755.5 560.4h0M837 506.5h0M736.3 608.5h0M759.1 555h0M769.7 539.3h0M850.1 501h0M820.4 490.2h0M745.1 589.4h0M781.6 529.2h0M791.7 523.1h0M733.8 601h0M818.7 494.4h0M768.7 536.4h0M836 476.3h0M735.6 593.1h0M757.8 546.1h0M769.5 572.2h0M788.4 526.2h0M807.4 524.1h0M759.9 538.7h0M755 576.3h0M750.6 541.3h0M763.4 565.9h0M781.8 485.4h0M771 552.8h0M721.7 555.5h0M748.5 575.4h0M758.9 578.8h0M819.8 484.2h0M764.9 581.2h0M787.6 493.4h0M810.6 536.6h0M842.8 476.2h0M711.4 591.1h0M798.2 473.1h0M791.3 506.6h0M789.5 528.3h0M804.3 508.7h0M752.8 514.3h0M771.6 560.4h0M790.4 521.1h0M725.1 581.7h0M732.9 603.7h0M792.9 512.1h0M794.9 544.8h0M822.3 477.3h0M734.7 584.4h0M854 497.3h0M828 474.8h0M802.6 478.1h0M782.5 474h0M699.3 609.4h0M748.3 587.4h0M731.3 589h0M791.1 561.4h0M720.9 603.5h0M731.2 594.8h0M712.7 612.3h0M795 480.4h0M751.7 569.7h0M783.6 519.6h0M730.5 549.6h0M767.8 509.2h0M820.2 496.5h0M750.1 564.5h0M785.8 530.6h0M691 602.7h0M739.9 574.5h0M754.9 583.7h0M749.4 577.2h0M739.6 576.1h0M813.2 532.7h0M754.5 567.6h0M752.4 563.7h0M828.6 494h0M666.6 621.5h0M712.3 614.8h0M693.8 605.7h0M795.2 486.4h0M781.3 523.6h0M799.1 517.2h0M815.4 472.1h0M740.1 589.6h0M815.5 480.4h0M759.1 590h0M810.9 538.3h0M807.3 522h0M820.7 496h0M744.6 573.2h0M758.5 542.5h0M711.3 617h0M745.1 580.4h0M828.1 478.4h0M777 482.2h0M835 531.1h0M780.4 502h0M811.3 484.3h0M773.6 566.6h0M787.4 471.2h0M766.4 544.2h0M691.6 595h0M755.6 539.4h0M746.3 539.9h0M796 522.8h0M799.3 523h0M694.6 617.7h0M816.6 523.4h0M838.2 478h0M794.4 521.9h0M808.1 477.5h0M770 545.6h0M797.1 498.7h0M743.8 600.2h0M815 484.8h0M762.5 552.7h0M805.2 488h0M765.2 567.4h0M784.3 526.5h0M813.5 493.3h0M801.7 505.4h0M814.7 527.5h0M835.3 472h0M689.4 605h0M711.2 605.4h0M792.9 539.5h0M802.9 482.1h0M811.5 517.5h0M755.3 575.6h0M725.8 604.4h0M772.7 546.6h0M777.4 548.4h0M785.2 544h0M765.4 526.1h0M715.4 574h0M789.2 492h0M779.3 575.2h0M739.9 589.8h0M765.6 563h0M815.9 476.2h0M720.2 593.7h0M738.2 573.4h0M825.4 487.9h0M746.3 571.2h0M837.3 492.5h0M714.9 607.6h0M810.6 489.9h0M736.8 584.3h0M728.4 593.4h0M800.9 510.3h0M840.6 478.9h0M854.4 484.4h0M780 508.3h0M812.8 492.5h0M825.5 478.2h0M764.1 540.3h0M707 602h0M799.5 492.6h0M718 562.3h0M763.1 572.8h0M770.3 549.6h0M699.5 616.7h0M706.3 613h0M751.7 577.8h0M826.8 533.1h0M805.3 506.7h0M828.2 477h0M796.7 497.6h0M820.1 472.7h0M785.6 526.9h0M798.3 508.7h0M772.6 530.2h0M697.3 607.5h0M710.9 614.8h0M817.2 503.6h0M745.8 587.4h0M791.7 502.3h0M776.1 550.2h0M656.1 617.2h0M796.2 540.3h0M768.5 552h0M706.5 616.1h0M765.4 580.2h0M737.2 580.6h0M771.2 569.4h0M791.9 511.3h0M737.4 595.1h0M758.9 555.7h0M796.7 527h0M839 480.9h0M705.2 603.5h0M699.7 608.6h0M736.5 583h0M747.7 582.9h0M780.3 592.2h0M695 613h0M704.6 584.7h0M720.7 591.9h0M747.9 545.8h0M768.7 528.8h0M766.3 555.7h0M701.9 601.8h0M711.1 598.7h0M716.8 576h0M722 601.9h0M759.2 549.1h0M831.7 483.8h0M821 508h0M710.6 596.6h0M695.8 615.7h0M704.9 614.1h0M775.8 559.5h0M726.6 568.2h0M799.8 509.6h0M747.4 605.5h0M741.7 582.2h0M800.4 519.5h0M787.6 532h0M760.6 539.4h0M826.9 490.7h0M733.2 594.8h0M731.2 595h0M796.3 536.9h0M800.2 533.4h0M780.2 466.6h0M822.2 476.8h0M778.2 531h0M808.2 501h0M786.5 513.2h0M715 593.6h0M810.2 525.2h0M752.6 572.4h0M755.2 562.8h0M728.5 591.2h0M702.8 617.4h0M810.9 485.7h0M752.7 522.8h0M784.1 512.6h0M751.1 569.3h0M779.8 555.2h0M751.6 595.7h0M774.3 528.4h0M845.7 490.2h0M804.5 507h0M822.5 477.9h0M735.8 580.9h0M787.5 516.2h0M747.1 600.2h0M782.3 534.5h0M710.8 607.6h0M800.3 541h0M815.1 535.8h0M726.3 573.4h0M748.1 574.8h0M800.8 511.5h0M805 547.9h0M806.2 559.4h0M719.7 601.2h0M751.2 581.7h0M829.4 480.3h0M834.7 480.7h0M753 565.8h0M823.6 497.6h0M796.7 492.4h0M724.2 578.2h0M804.3 513.6h0M764.5 575.9h0M773.4 469.7h0M728.7 564.1h0M798.1 517.4h0M739.9 511.1h0M747.5 588.9h0M830.5 488.6h0M704.1 569.6h0M735 601.1h0M706.5 610.4h0M791.2 556.5h0M793.2 532.8h0M748.6 574h0M811.3 495.7h0M765.7 577.9h0M812.4 496.4h0M699.2 623.3h0M715.6 586.1h0M747.2 588.4h0M767.6 556.6h0M789 568.9h0M757.7 567.6h0M807.6 496.2h0M775.7 535.3h0M803.1 530.8h0M759.1 561.6h0M793.2 503h0M802.7 547.7h0M835.9 509.2h0M805.3 482.9h0M773.4 529.4h0M795.8 546.3h0M734 578.8h0M866.2 484h0M800.7 509.5h0M827.1 496.4h0M712.7 590.9h0M761.7 562.2h0M830.5 493.6h0M755.8 579.5h0M795.7 504.6h0M831.5 533.3h0M754 586.5h0M751.9 570.7h0M702.4 608.4h0M797.5 511.3h0M824.8 516h0M687.3 620.5h0M755.6 571.8h0M792.9 499.5h0M765.4 584.3h0M778.6 541.3h0M824 499.5h0M798.4 533.4h0M720.1 595h0M828.9 474.9h0M820.5 509.5h0M771.4 529.5h0M767.7 571.3h0M854 530.3h0M754.7 565.6h0M728.9 604.7h0M701.8 598.6h0M712.3 616.1h0M727.6 589.3h0M756 585.1h0M794.4 525h0M767.4 533.8h0M807.8 533.5h0M805.1 497.4h0M706.4 599.4h0M777.6 546.6h0M673.7 612.5h0M775.1 555.7h0M712.8 607.8h0M700.8 613.1h0M733 601.8h0M737.6 565.5h0M822.4 507h0M720.4 571.2h0M827.8 519.4h0M747.7 583.1h0M748.6 574.2h0M757 554h0M727 605h0M769.7 551h0M784.4 534.6h0M830.3 491.8h0M696.2 616.5h0M804.3 498.1h0M793.8 536.1h0M802.6 538.8h0M706.3 611.8h0M814.3 491.2h0M754.3 573.9h0M790.3 545.5h0M808.2 540.5h0M795.1 487.3h0M794.6 522.8h0M814.1 478.5h0M758.7 579.4h0M818.1 529.8h0M789.1 532.3h0M782.7 543.9h0M816 524.7h0M760 541.2h0M735.6 578.5h0M781.8 531.9h0M726.6 600h0M779.8 547.3h0M758.7 556.3h0M775.7 583h0M771.4 538.8h0M792.6 523.9h0M735.4 606h0M770.5 569.4h0M723.2 600.1h0M793.2 535.6h0M731.6 605.2h0M747.1 580.3h0M791.2 542.8h0M728.9 563.8h0M708.6 613.1h0M784.2 476.6h0M718.3 591.9h0M772.9 527.2h0M764.6 585.1h0M784.5 527.8h0M761.7 569.7h0M740 569.9h0M767.8 551.9h0M786.2 529.7h0M775.5 530.2h0M813.9 519.5h0M678.9 586h0M738.1 597.3h0M798.2 576.2h0M744.3 566.5h0M789.1 532.7h0M737 559.5h0M759.3 565h0M691.1 600.6h0M797.5 535.2h0M711.1 602.3h0M747.7 542.1h0M774.4 518.6h0M760.6 531.8h0M728.2 589.2h0M775.4 563.6h0M805.7 481.6h0M685.6 612.8h0M781 521.9h0M770 554.6h0M750.3 524.5h0M771.1 562.6h0M736 595.1h0M741.8 535.4h0M720.2 621.2h0M773.2 505.3h0M798.8 507.1h0M775 570.9h0M751.8 540.5h0M748.8 539.6h0M794 468.3h0M687.2 612.2h0M742.8 580.4h0M764.5 547.6h0M795.7 501.6h0M790.8 512.8h0M761.3 557.7h0M681.6 623.3h0M802 520.5h0M764.9 557.1h0M690.5 593.8h0M829.3 520.7h0M749.9 549.1h0M769.4 567.5h0M731.9 580.4h0M783 544.3h0M752.6 582.4h0M772.2 566.8h0M839.4 481.1h0M756.8 550h0M798.7 578.1h0M786 542.1h0M793.4 493.1h0M783.8 491.3h0M843.9 512.4h0M877.6 495.4h0M800.6 511.1h0M811.4 518.6h0M784.3 562h0M725 599.1h0M785.4 510.8h0M787.8 531.7h0M830.2 475.1h0M755.9 569.4h0M785 495.9h0M753.5 586.2h0M781.4 474.5h0M800.3 473.2h0M761.3 609.4h0M767.7 567.7h0M819.1 473.2h0M817 471.7h0M816.8 518.2h0M716.9 603.4h0M668.7 614.9h0M753 577.7h0M755.5 476h0M766.3 503.4h0M796.8 553.3h0M825.8 500.2h0M803.1 484.9h0M754.7 568.7h0M813.9 483.9h0M765.2 579h0M743.7 567h0M690.1 613.1h0M724.7 589.7h0M785.6 538h0M706.6 617.4h0M775.8 538.4h0M744.3 593.7h0M784 506.7h0M724.4 597.3h0M718.4 593.5h0M726.2 582h0M810.9 531.1h0M801.5 497.4h0M784 507.4h0M808.5 497h0M781.5 513h0M792.7 538.9h0M774.2 564.5h0M759.1 585.4h0M790.1 489.8h0M755 566.6h0M829.4 522.4h0M708.4 607.9h0M789.6 555.1h0M734.5 612.3h0M739.7 558.8h0M823.5 511.4h0M773.2 563.7h0M813.2 519.5h0M753.6 599.2h0M774.4 556.3h0M766.5 557.6h0M793.5 538.5h0M735 585h0M807.2 517.7h0M772.2 489.8h0M838.2 501.4h0M695.2 614.2h0M790.8 540h0M758.1 573.3h0M781.2 542.1h0M716.7 606h0M806.1 503.1h0M741.5 552h0M804.1 473.4h0M732.1 609.3h0M744.7 560.3h0M757.1 546.2h0M841.6 509h0M824.1 510.1h0M765.7 588.5h0M745.6 580.4h0M801.8 520.1h0M774 562.7h0M757.8 578.4h0M812.3 476h0M784.8 482h0M750.8 559.1h0M750.5 544.7h0M838.7 492.9h0M733.3 585.5h0M809.6 479.6h0M813.2 496.1h0M799.8 514h0M806.5 519.5h0M786.3 517.4h0M755 539h0M820.9 530.1h0M729.1 583.9h0M776.8 535.1h0M783.8 515.7h0M773.8 537.2h0M795.2 523.2h0M779.4 555.7h0M787.1 497.6h0M817 503.3h0M704.4 604h0M828.3 499.8h0M726.2 577.6h0M721.3 601.5h0M730.4 603h0M732.7 567.1h0M783.5 539h0M758.9 567.5h0M729.9 581.4h0M801.6 499.9h0M774.9 565.8h0M815.6 485.4h0M727.4 590h0M796.1 511.9h0M777 552.1h0M832.9 490.6h0M810.3 520.5h0M810.4 517.9h0M749.1 600.1h0M772.3 509.7h0M734.8 562.5h0M758.5 510.4h0M822.7 495.7h0M681.7 599.1h0M701.4 615.6h0M812.2 514.8h0M789.2 465.7h0M798.4 484.9h0M755.7 561.8h0M792.5 578.3h0M786.1 580.7h0M792.1 577.5h0M789.3 583.7h0M785.4 578.8h0M782.3 587.8h0M798.5 579.9h0M784.8 582.9h0M777.8 586.6h0M807.1 581.8h0M801.6 579.7h0M794.5 582.8h0M788.8 575h0M791.3 583.4h0M775.2 575h0M789.2 576h0M656.7 592h0M663.8 627.1h0M747.6 478.3h0M727.8 511.2h0M723.5 525.4h0M736.3 523.9h0M851.3 480.5h0M845.7 471.6h0M787.4 604.7h0M821.5 605.4h0M800.2 615.2h0M759 624.1h0" stroke="#0000FF" stroke-width="2.8" stroke-linecap="round" fill="none"/>
<rect x="655.3" y="455.1" width="227.3" height="179.5" fill="none" stroke="#7f7f7f" stroke-width="1"/>
<path d="M655.3 634.6v-2.2M655.3 455.1v2.2M712.1 634.6v-2.2M712.1 455.1v2.2M769 634.6v-2.2M769 455.1v2.2M825.8 634.6v-2.2M825.8 455.1v2.2M882.6 634.6v-2.2M882.6 455.1v2.2M655.3 634.6h2.2M882.6 634.6h-2.2M655.3 604.7h2.2M882.6 604.7h-2.2M655.3 574.8h2.2M882.6 574.8h-2.2M655.3 544.9h2.2M882.6 544.9h-2.2M655.3 514.9h2.2M882.6 514.9h-2.2M655.3 485h2.2M882.6 485h-2.2M655.3 455.1h2.2M882.6 455.1h-2.2" stroke="#7f7f7f" stroke-width="0.8" fill="none"/>
<g style="font-family:'Liberation Sans', sans-serif;font-size:10px;fill:#000"><text x="655.3" y="648.4" text-anchor="middle">-400</text><text x="712.1" y="648.4" text-anchor="middle">-200</text><text x="769" y="648.4" text-anchor="middle">0</text><text x="825.8" y="648.4" text-anchor="middle">200</text><text x="882.6" y="648.4" text-anchor="middle">400</text><text x="651.4" y="638.4" text-anchor="end">-600</text><text x="651.4" y="608.5" text-anchor="end">-400</text><text x="651.4" y="578.6" text-anchor="end">-200</text><text x="651.4" y="548.6" text-anchor="end">0</text><text x="651.4" y="518.7" text-anchor="end">200</text><text x="651.4" y="488.8" text-anchor="end">400</text><text x="651.4" y="458.9" text-anchor="end">600</text></g>
<text x="769" y="451.6" text-anchor="middle" style="font-family:'Liberation Sans', sans-serif;font-weight:bold;font-size:8.4px">[PRCC , p-value, Time] = [0.87008 , 6.9655e-309, 100].</text>
<path d="M1037.1 567.6h0M1118.9 476.3h0M1059.3 582.9h0M1039.7 582.1h0M1044 568.2h0M1047.5 573.6h0M1089.4 512.1h0M1046.2 592.7h0M1115.8 484.5h0M1076.7 497.5h0M1037 604h0M1079.3 529.9h0M1011.9 605.7h0M1073 575h0M1096.9 549h0M1072.4 538h0M1032.8 547.4h0M1082.4 480.5h0M1074 565.7h0M1008.7 579.9h0M1048 516.7h0M1087.9 479.7h0M1105.5 480.8h0M1109.5 490.4h0M1058.9 594.4h0M1052.9 482.9h0M1074.9 516h0M1078.3 483.7h0M1047.9 546.2h0M1063.6 577h0M1099.2 498.5h0M1072.4 515.1h0M1095.3 500h0M1054.4 574.9h0M1066 589.5h0M1082.7 493.8h0M1052.9 592.1h0M1084 480.3h0M1051.9 587h0M1076.9 530.1h0M1071.7 546.4h0M1058 561h0M1072.9 585h0M1077.8 504.8h0M1080.7 481.6h0M1082.2 498.2h0M1094.9 517.7h0M1103.9 507.9h0M1073.2 536.5h0M1065.9 530.8h0M1089.5 486.5h0M1039.4 574.7h0M1057 581.3h0M1099.5 474.6h0M1103.5 476.5h0M1073.1 541.3h0M1093.8 502.4h0M1111.1 511.7h0M1091.8 472.5h0M1047.9 598h0M1107.1 478.7h0M1058.1 542.2h0M1101.6 541.5h0M1093.8 512.1h0M1062.2 524.8h0M1083.1 549.5h0M1070.2 558.9h0M1111.3 477.1h0M1089.7 496.2h0M1036.1 592.8h0M1062.6 559h0M1069.5 494.9h0M1101.1 480.4h0M1100 477.1h0M1069.5 572.4h0M1089 497.4h0M1101.5 507.7h0M1016 596.1h0M1036 577.5h0M1063.6 577.9h0M1066.2 595.6h0M1102.4 517.5h0M1028.8 568.2h0M1069.6 513.4h0M1031.3 592.4h0M1117.6 487.8h0M1076.4 515.1h0M1096.5 498.6h0M1086.8 529.9h0M1082.7 535.4h0M1045.4 579.9h0M1103.2 482.6h0M1059.5 587h0M1080.5 531.2h0M1042.9 588.6h0M1060.1 583.7h0M1113.2 518.4h0M1141.4 478.4h0M1048.4 544.5h0M1098.6 494.5h0M1099.6 481.8h0M1052.4 539.5h0M1085.5 507.5h0M1043.1 569.2h0M1024.2 594.6h0M1032.1 590.9h0M1046.8 606.4h0M1024 592.7h0M1081.1 506.6h0M1095.3 481.3h0M1028.1 583.3h0M1068.2 507.1h0M1062.8 502.2h0M1073.7 514.8h0M1098.4 537.2h0M1039.4 542.3h0M1104.9 509.1h0M1035.5 573h0M1074.7 500.1h0M1060.9 580.6h0M1046.4 603.2h0M1107.9 483.5h0M1037.5 601.5h0M1061.5 582h0M1026.8 601.8h0M1042 605h0M1059.1 591h0M1096 482.8h0M1075.7 501.8h0M1093.9 550.6h0M1034 601.3h0M1074.4 498.4h0M1084.6 536.5h0M1118.6 485h0M1083.6 536.3h0M1017.6 600.9h0M1043 591.9h0M1096.7 502.4h0M1056.7 584.1h0M1016.1 594.4h0M1040.5 551.1h0M1055.1 574h0M1056.5 566h0M1100.9 495.6h0M1094.2 537h0M1076.1 469.2h0M1021.3 593.7h0M1045.2 567.2h0M1121.4 490.1h0M1059.4 551.6h0M1108 505.2h0M1023.2 547.1h0M1064.2 555.7h0M1112.2 486.3h0M1084.4 559.7h0M1056.4 543.4h0M1111.7 534.1h0M1022.3 606.3h0M1067 594.2h0M1077.7 582.1h0M1033.8 610.5h0M1067.4 503.5h0M1115.5 534.4h0M1065.8 561.2h0M1043.8 549.3h0M1046.2 603.6h0M1040.8 558.2h0M1099.2 487.7h0M1016.5 611.3h0M1042.4 522.5h0M1100.5 513.9h0M1034.8 580.6h0M1055.8 562h0M1047.3 584.7h0M1080.8 521.6h0M1047 557.3h0M1052.5 583.2h0M1067.4 566.4h0M1054.9 575.6h0M1093 473.7h0M1085.9 519.6h0M1096.3 544.8h0M1093.5 541.1h0M1072.4 532.5h0M1108.9 482.5h0M1074.3 552.8h0M1051.2 597.4h0M1045.9 588.3h0M1046.4 605h0M1042.4 581.6h0M1089.8 533.9h0M1061.4 577.1h0M1108.8 490.2h0M1112.7 472.6h0M1055 589.6h0M1084.8 484.7h0M1067.5 515.6h0M1103 475h0M1038.3 588.8h0M1107.8 496.1h0M1047.1 564.6h0M1039.5 582.4h0M1027.5 576.1h0M1096.7 482.7h0M1063.4 543.8h0M1089.9 546.1h0M1098.9 485.6h0M1121.7 488.5h0M1085.8 480.3h0M1010.2 607h0M1119 475.6h0M1098.7 513.8h0M1123.6 493h0M1083.4 493.6h0M1068.6 482h0M1126.8 483.6h0M1090.4 523.7h0M1034 592.6h0M1129.5 514.2h0M1039.1 607.5h0M1045.1 564.6h0M1064.8 569.8h0M1049.9 566.6h0M1080.2 500h0M1107.8 481.9h0M1102.9 473.9h0M1084.6 520h0M1092.7 502.5h0M1021.4 592h0M1078.7 552.9h0M1129.8 498.2h0M1078.6 542.5h0M1098.9 538.8h0M1130.4 502.4h0M1053.7 570.2h0M1086.1 489.8h0M1076.6 505.3h0M1030.8 606.9h0M1089.3 539.7h0M1098.6 478.4h0M1078.6 571h0M1027.1 609.6h0M1076.9 587.1h0M1068.5 540.8h0M1043.8 591.7h0M1041 604.3h0M1043.2 587.1h0M1095.1 492.3h0M1113.6 466h0M1044.7 588.2h0M1089.5 529.7h0M1077.4 511.9h0M1027.5 600.9h0M1073.5 487.8h0M1106.9 503.5h0M1077.6 508.8h0M1083.2 538.3h0M1096.3 500.2h0M1100.1 488.7h0M1052.9 570.1h0M1059.4 581.9h0M1111.7 465.3h0M1103.7 540.9h0M1061.1 552.9h0M1093 484.5h0M1070.6 510.3h0M1134.1 497.3h0M1082.7 497.2h0M1114.3 482.7h0M1104.8 513.5h0M1082.3 465.5h0M1083.5 498.5h0M1108.7 495.7h0M1095.7 495.1h0M1018.3 602.2h0M1103.1 476.7h0M1120 507.9h0M1049.6 594.1h0M1103.5 502.6h0M1115.4 509.2h0M1113.9 538.6h0M1057.5 569.9h0M1070.7 528.1h0M1048.5 580.2h0M1052.9 558.4h0M1061.4 521.3h0M1088.8 510.5h0M1056.4 539.4h0M1121.8 477.8h0M1097.6 479.2h0M1053.4 480.8h0M1067.7 519.5h0M1058.8 575.4h0M1029.8 599.8h0M1070 521.5h0M1063.5 537.6h0M1022.5 605.7h0M1053 592.1h0M1091.4 471.4h0M1075.7 498.8h0M1110.6 487.3h0M1034.7 566.4h0M1069.6 548.3h0M1065.7 520.8h0M1053.1 554.4h0M1026.9 606.9h0M1048.2 543.3h0M1078.1 510.7h0M1083 565.2h0M1077.1 481.2h0M1133.3 473.3h0M1050.6 603.7h0M1091.4 551.6h0M1074.7 520.6h0M1079.2 556.9h0M1103.9 463.7h0M1094.1 563.9h0M1088 485.8h0M1081.1 559.8h0M1085.1 485.9h0M1065.1 595h0M1085.7 496h0M1073.2 493h0M1047 537.9h0M1047.7 559.6h0M1086.8 559.1h0M1017.4 593.5h0M1037.7 572.9h0M1072.6 533.5h0M1073.1 536.9h0M1077 536.6h0M1123 489.8h0M1044.6 577.7h0M1064.6 500.3h0M1107.2 490.7h0M1053.2 553.9h0M1036.3 594.4h0M1096.9 489.1h0M1116.7 513.7h0M1094 539.5h0M1096.8 485.4h0M1042.7 577.2h0M1094.7 515.9h0M1068.8 522.9h0M1030.2 551.8h0M1080.9 494.4h0M1062.4 585.3h0M1041.9 569.4h0M1060.3 542.6h0M1124.3 474h0M1117.9 502.2h0M1065 599.1h0M1064.1 529.6h0M1052 589.7h0M1088.4 551.5h0M1117.1 474h0M1047.1 570.6h0M1036.3 596.8h0M1084.3 480.7h0M1043.8 571.3h0M1089 524.6h0M1062.9 567.1h0M1084.3 470.4h0M1102 509.3h0M1096.9 494.8h0M1065.4 591.7h0M1053.2 552.1h0M1098.6 491.2h0M1014.3 568.3h0M1054.1 596h0M1105.7 489.3h0M1069.1 572.1h0M1081.1 527.2h0M1048.4 580.2h0M1040.9 592.9h0M1092 544.3h0M1066.4 521.8h0M1089.6 504.5h0M1109.4 477.8h0M1071.5 530.8h0M1070.9 515h0M1045.6 576h0M1103.4 482.6h0M1088.1 560.8h0M1027.4 607h0M1008.6 580.1h0M1067.2 579.7h0M1081.2 526.7h0M1053.7 591.3h0M1066.4 545.5h0M1049.8 576.8h0M1057.2 500.7h0M1068.1 563.6h0M1032.6 572.9h0M1068.4 566.6h0M1011.1 583.3h0M1107.1 518.5h0M1079.4 523.7h0M1046.5 511.3h0M1046.5 585.9h0M1092.5 503.3h0M1077.9 532.2h0M1079.3 472.4h0M1138.1 471.3h0M1024.7 615.7h0M1098 527.1h0M1010 566.5h0M1100.3 510h0M1049.9 592.6h0M1080 526h0M1111 511.6h0M1068.7 527h0M1064.5 564.8h0M1088.2 508.3h0M1101.1 484h0M1030.9 577.4h0M1052.1 593.9h0M1077 545.9h0M1071 547.9h0M1068.1 552.1h0M1091.7 473.3h0M1037.8 577.5h0M1035.3 597.8h0M1039.6 619h0M1046.5 543.8h0M1050.2 573.1h0M1099.1 541.1h0M1101.1 513.5h0M1041 561h0M1063.4 593h0M1068.3 478.4h0M1041.9 583.7h0M1078.6 561.4h0M1048.3 604.5h0M1091.2 520.1h0M1033.6 573.2h0M1060.4 507.9h0M1075.6 548.2h0M1096.9 500.2h0M1088.8 561.8h0M1081.5 499h0M1019.7 599.5h0M1048.5 560.1h0M1025.3 559.4h0M1060 546.5h0M1051.5 571.9h0M1050.3 570.4h0M1129.3 476.2h0M1073.7 593.3h0M1067.1 535.9h0M1083.6 491.8h0M1096.6 535.6h0M1089.6 541.6h0M1047.3 541.9h0M1031.4 584.5h0M1031.4 582.4h0M1064.6 512.1h0M1067 530.1h0M1024 580.2h0M1082.5 543.6h0M1107.2 472h0M1013.6 584.9h0M1080 498.3h0M1086.3 482.2h0M1099 535.9h0M1031.1 589.8h0M1083.2 545.8h0M1122.6 492.9h0M1065.8 524.4h0M1101.6 498h0M1073.7 539.2h0M1049.9 609.3h0M1011.9 608.2h0M1086 496.4h0M1041.4 539.4h0M1110.1 482.9h0M1060.5 487.4h0M1087.5 517.1h0M1050.9 527.7h0M1078 501.3h0M1030.6 583.7h0M1062.5 554.5h0M1092.7 524h0M1099.1 530.4h0M1072 581.8h0M1061.7 555h0M1025.1 585.5h0M1117.8 488.5h0M1018.6 596.3h0M1084.7 520.9h0M1037.7 576.4h0M1032.7 588.8h0M1040.5 604.3h0M1040 555.3h0M1092.6 492.6h0M1096.2 481.1h0M1093 537.3h0M1116.7 486.8h0M1104.1 511.3h0M1100.2 475.2h0M1082 577.3h0M1069.1 576h0M1032.7 568.7h0M1098.7 497.2h0M1105.4 485.4h0M1076.5 503.3h0M1103.5 476.9h0M1031.9 604.5h0M1030.9 581.5h0M1045.6 588h0M1046.3 564.3h0M1039.3 554.6h0M1061.1 556.8h0M1010.9 587.9h0M1095.1 536.9h0M1079.9 518.3h0M1094.4 498.8h0M1066.3 579.9h0M1117.3 468.2h0M1047.5 573.3h0M1066.8 557h0M1114.2 486.4h0M1071.8 584.8h0M1045.4 558.7h0M1071.9 548.5h0M1021.7 596.2h0M1022.7 602.2h0M1049 576.6h0M1065.6 543.8h0M1019.3 601.4h0M1030.9 580.6h0M1097.4 475.1h0M1041 545.9h0M1058.9 567.4h0M1079 467.8h0M1115.9 508.4h0M1060.7 562.9h0M1106.3 495.5h0M1028.1 610.8h0M1076.4 566.9h0M1107.6 474.8h0M1092.7 528.8h0M1044.6 590.2h0M1053.8 590.5h0M1095.6 480.6h0M1070.9 557.6h0M1088.3 492.8h0M1044.4 576h0M1078.9 532.6h0M1051.8 576.5h0M1094.3 488.2h0M1077.7 499.3h0M1093.7 475.7h0M1090.4 537.3h0M1095.1 496.2h0M1048.8 590.4h0M1067.6 531.3h0M1117.7 497.9h0M1086.4 507.4h0M1060.4 576.3h0M1035.2 607.3h0M1107.6 518.7h0M1057.7 515.6h0M1041 528.2h0M1039.6 582.4h0M1017.9 549.7h0M1030.8 583.1h0M1081.2 489.7h0M1079.3 519.6h0M1096.8 518.6h0M1062.7 512.3h0M1108.1 471h0M1119.7 478.7h0M1061.2 613.6h0M1019.4 597.7h0M1093.7 465.7h0M1099.8 550h0M1071.1 509.4h0M1081.5 555.6h0M1099.8 495.3h0M1101.5 503.3h0M1025.4 566.3h0M1066.4 497.7h0M1020.6 606.5h0M1050.7 597.7h0M1086.7 539.9h0M1084.5 475.3h0M1104.6 472.2h0M1038.7 605.8h0M1041 559.5h0M1023.1 589.5h0M1060 487.9h0M1039.5 554.3h0M1039.9 567.2h0M1089.7 545.6h0M1076.5 553.5h0M1074.7 528.2h0M1043.2 599.8h0M1026.8 588.5h0M1010.3 568.7h0M1042.7 597.5h0M1108.6 468.1h0M1025.3 594.7h0M1117.2 483.1h0M1069 574.9h0M1112.5 470.1h0M1007.2 589.2h0M1077.3 529.9h0M1094.8 519.7h0M1018.8 607.7h0M1068.9 527h0M1087.7 536.6h0M1128.5 497.5h0M1073.3 557.8h0M1072.9 542.9h0M1029.4 597.7h0M1067 512.7h0M1083.3 469.9h0M1096.1 507.1h0M1080.6 504.9h0M1115.9 497.7h0M1022 579.9h0M1076.3 479.1h0M1039.5 594.1h0M1076 538.2h0M1095.8 491.8h0M1070.4 504.5h0M1042.1 566.8h0M1073.8 566h0M1071.7 529.1h0M1051.9 554.9h0M1056 586.9h0M1066 561.1h0M1090.8 506.6h0M1091.9 556.1h0M1048.3 537h0M1050 590.3h0M1030 595.9h0M1115.1 484.3h0M1075.4 496.6h0M1084.5 539.3h0M1082.8 509.4h0M1133.8 516.7h0M1076.2 540.2h0M1082.5 591.5h0M1026.6 601.5h0M1079.1 509h0M1100.2 494.6h0M1008.2 602.3h0M1076.1 495.9h0M1061.3 608.3h0M1117.6 481.7h0M1067.4 540.9h0M1092.4 540.6h0M1106.2 481h0M1098.7 510.5h0M1065.3 524h0M1111.8 492.9h0M1051.8 553.5h0M1083.2 569h0M1073.7 498.5h0M1138.6 497.4h0M1070.2 524.8h0M1028 572.4h0M1080.5 468.4h0M1098.9 501.9h0M1051.3 583.8h0M1075.2 514.5h0M1091.2 532.1h0M1077.7 591.7h0M1090.4 514.4h0M1054.2 596.9h0M1102.9 517.6h0M1102.8 516.6h0M1062.7 493.7h0M1085.4 565.5h0M1085.5 518.7h0M1094.1 506h0M1062.1 597.7h0M997.6 585.1h0M1100.1 521.6h0M1100.5 493.2h0M1095.9 551.3h0M1106.5 476.3h0M1126.4 462.3h0M1081.9 556.2h0M1035.8 566.3h0M1086.7 517.1h0M1075.5 514.8h0M1098.2 479.1h0M1033.4 579.1h0M1073.2 474.7h0M1071.4 538.5h0M1053 562.8h0M1070.2 556.2h0M1076.8 584.7h0M1053.2 559.9h0M1087.6 506.2h0M1086.6 552.3h0M1116.2 479.9h0M1055.6 521.1h0M1061.2 555h0M1036.7 550.6h0M1067.6 523h0M1069.9 528.8h0M1053.4 566.6h0M1029.7 609.2h0M1077.9 535h0M1063.4 562.6h0M1119.8 503h0M1107.4 494.7h0M1039.4 558.3h0M1083.5 560h0M1104.2 473.7h0M1068.8 505h0M1074.3 496.6h0M1052.9 573h0M1099.1 479.1h0M1086.6 526.6h0M1042.1 541.4h0M1049.4 567h0M1127.3 510.8h0M1060.2 497.7h0M1036.9 552.8h0M1091.8 499.7h0M1092.8 513.2h0M1041.2 572.6h0M1091.9 508.5h0M1039 592.7h0M1053.4 542.6h0M1069.7 540.4h0M1083.4 507.5h0M1095.5 508.2h0M1095.5 521.7h0M1021.1 602.6h0M1037.6 595.9h0M1065.7 517.1h0M1087.4 489.7h0M1040.7 597.9h0M1103.7 499.5h0M1057.9 536.6h0M1098.8 513h0M1035.7 600.6h0M1059.8 548.3h0M1089.2 491.2h0M1031 590.3h0M1053.7 579.3h0M1037 554.7h0M1073.1 548.2h0M1026.9 603.5h0M1064.1 598.2h0M1063.9 535.2h0M1038.8 611.4h0M1065.5 571.7h0M1064.4 574.8h0M1078.7 575.2h0M1126 481h0M1046.5 577h0M1078.1 515.3h0M1075.4 577.2h0M1104.9 480.5h0M1088.8 505.2h0M1048.4 580.1h0M1095.6 528.3h0M1091.8 532.1h0M1000.9 603.7h0M1082.8 485.6h0M1038.7 579.2h0M1065.4 522h0M1062.1 593.2h0M1090.4 546.3h0M1055.6 563.6h0M1117.5 505.4h0M1052.9 563.2h0M1064.6 598.6h0M1066.5 576h0M1042.9 603.4h0M1110.1 475.5h0M1051.6 561.4h0M1117.6 490.6h0M1068.3 538.6h0M1110.4 481.5h0M1061.9 536.5h0M1034.7 583.8h0M1059.5 570.9h0M1074.8 544.4h0M1069.3 589.7h0M1087.1 515.5h0M1047.3 601.4h0M1080.3 542.9h0M1123.3 522.9h0M1105.7 469.9h0M1047.4 549.8h0M1072.2 488.2h0M1067 540h0M1089 518.2h0M1071.9 501.6h0M1056.1 532.6h0M1081.3 481.8h0M1097.7 479.6h0M1069.7 560.8h0M1078.2 502.6h0M1029 587.2h0M1073.6 575.4h0M1128.3 480.1h0M1064.8 568.5h0M1087.5 476.9h0M1034.4 583.3h0M1078.4 547.2h0M1013.5 582.6h0M1061 503.6h0M1103.6 514h0M1029.2 564.7h0M1028.2 588.3h0M1134 471.5h0M1075 518.3h0M1109.4 516.9h0M1083.1 509.7h0M1017 603.6h0M1044.8 600.2h0M1091.5 490.3h0M1071 564.6h0M1062.8 504.7h0M1105.8 479.4h0M1101.5 476.3h0M1112.7 470.9h0M1101.5 481.8h0M1033.5 573.6h0M1115.3 500.1h0M1105.5 510.8h0M1083.8 546.3h0M1103.2 497h0M1077.2 541.2h0M1040 575.5h0M1040.7 536.6h0M1014.3 590.7h0M1093.2 485.2h0M1002.5 589h0M1041.8 570.3h0M1077.2 552.8h0M1025.1 590.6h0M1094 556.3h0M1031.3 552.1h0M1049.5 599.7h0M1003.9 599.6h0M1078 537.6h0M1087.9 560h0M1087.4 491.6h0M1014.4 603.9h0M1075 485h0M1053.5 589.5h0M1050.2 604.8h0M1074.1 545.2h0M1086.4 484.4h0M1058.9 527h0M1026.9 588.9h0M1058.7 528.2h0M1044.2 534h0M1056.4 598.2h0M1104.6 523.1h0M1115.9 492.2h0M1121.4 499.7h0M1039.3 571.9h0M1020.4 566.5h0M1070.2 545.2h0M1069 532.9h0M1020.5 590.6h0M1048.7 589.9h0M1033.1 589.1h0M1097 515.5h0M1091.6 516.6h0M1079.1 485.2h0M1055.4 562.5h0M1046.8 559.6h0M1101.5 479.3h0M1053.5 564.1h0M1067.2 514.2h0M1050.7 583.9h0M1087 493.2h0M1036.7 591.8h0M1095.7 485.9h0M1091.6 571.5h0M1095.3 504.5h0M1080.2 516.4h0M1035.7 576.4h0M1017.6 575.6h0M1035.3 601.5h0M1061.8 550.5h0M1050.2 552.2h0M1092 526h0M1049.9 585.4h0M1062.2 573.3h0M1053.4 556h0M1106.4 526.1h0M1061.8 572h0M1074.8 512.6h0M1073.4 534h0M1108.1 500.5h0M1077.2 506.2h0M1071.3 577h0M1081.4 505.2h0M1030 549.3h0M1106.1 489.8h0M1061.9 537.6h0M1091.3 497.8h0M1069.3 536h0M1057.9 594.9h0M1070.1 539.3h0M1047.8 609.3h0M1073.7 503h0M1094.7 488.4h0M1026.2 600.8h0M1090.4 496.9h0M1110.3 538.3h0M1067.5 521.9h0M1088.7 521.8h0M1049.3 562.7h0M1097 502h0M1018.5 610.6h0M1086.1 479h0M1032.1 548.3h0M1117.8 476.8h0M1047.6 578h0M1098 487.1h0M1021.9 579.3h0M1121.1 483.4h0M1108.3 505.6h0M1087.4 486h0M1093.1 506.3h0M1034.9 592.2h0M1055.1 594.7h0M1047 511.1h0M1095.1 492.2h0M1097.1 490.2h0M1102.9 509.9h0M1076.3 484.8h0M1037.6 571.5h0M1042 551.3h0M1057.1 590.6h0M1099.8 491.6h0M1066 579h0M1100.4 515.2h0M1093.5 523.3h0M1067.7 508.7h0M1063.2 545.3h0M1062.5 596h0M1100.3 489.5h0M1079.7 481.3h0M1023.8 599.5h0M1089.9 477.8h0M1077.9 523.9h0M1094.5 496.3h0M1097.3 482.1h0M1098.8 504.9h0M1085.2 547.6h0M1099.3 513.8h0M1021.4 598.7h0M1100.9 551h0M1061.4 548.9h0M1026.9 600.8h0M1115.9 485.6h0M1117.5 497.4h0M1081.5 538.6h0M1080.9 565h0M1039 593.7h0M1096.8 475h0M1023.7 591.4h0M1061.2 591.5h0M1063.5 559.5h0M1127.6 480h0M1032.7 604.1h0M1061.9 594.7h0M1057.6 570.5h0M1101.8 543.2h0M1093.8 500.7h0M1080.9 571.5h0M1051.9 545h0M1086.2 500.9h0M1041 578.8h0M1071.1 576.5h0M1059.5 491.2h0M1069 513.6h0M1103.7 478.4h0M1096.6 487.6h0M1087.8 516.2h0M1050.6 593.5h0M1038.5 594.9h0M1063 577.6h0M1116.9 497.8h0M1045.6 555.1h0M1061.3 600.7h0M1085.9 478.5h0M1036.6 559.4h0M1036.7 603.5h0M1090 502.9h0M1093.8 512.9h0M1037.6 562.4h0M1038.4 596.9h0M1081.4 500.2h0M1055.1 604.3h0M981.2 604.3h0M986.9 609.2h0M989.7 586.7h0M1001.1 522.2h0M1011.1 522.9h0M1001.1 566.4h0M1012.5 546.7h0M1023.9 489.2h0M1032.4 492.7h0M1166 548.1h0M1149 552.3h0M1150.4 473h0M1141.9 473.7h0M1122 540.4h0M1107.7 589.5h0" stroke="#EDB120" stroke-width="2.8" stroke-linecap="round" fill="none"/>
<rect x="955.6" y="454.8" width="227.5" height="168.4" fill="none" stroke="#7f7f7f" stroke-width="1"/>
<path d="M955.6 623.2v-2.2M955.6 454.8v2.2M1012.5 623.2v-2.2M1012.5 454.8v2.2M1069.3 623.2v-2.2M1069.3 454.8v2.2M1126.2 623.2v-2.2M1126.2 454.8v2.2M1183.1 623.2v-2.2M1183.1 454.8v2.2M955.6 623.2h2.2M1183.1 623.2h-2.2M955.6 595.1h2.2M1183.1 595.1h-2.2M955.6 567.1h2.2M1183.1 567.1h-2.2M955.6 539h2.2M1183.1 539h-2.2M955.6 510.9h2.2M1183.1 510.9h-2.2M955.6 482.9h2.2M1183.1 482.9h-2.2M955.6 454.8h2.2M1183.1 454.8h-2.2" stroke="#7f7f7f" stroke-width="0.8" fill="none"/>
<g style="font-family:'Liberation Sans', sans-serif;font-size:10px;fill:#000"><text x="955.6" y="637" text-anchor="middle">-400</text><text x="1012.5" y="637" text-anchor="middle">-200</text><text x="1069.3" y="637" text-anchor="middle">0</text><text x="1126.2" y="637" text-anchor="middle">200</text><text x="1183.1" y="637" text-anchor="middle">400</text><text x="951.7" y="627" text-anchor="end">-600</text><text x="951.7" y="598.9" text-anchor="end">-400</text><text x="951.7" y="570.9" text-anchor="end">-200</text><text x="951.7" y="542.8" text-anchor="end">0</text><text x="951.7" y="514.7" text-anchor="end">200</text><text x="951.7" y="486.7" text-anchor="end">400</text><text x="951.7" y="458.6" text-anchor="end">600</text></g>
<text x="1069.3" y="451.6" text-anchor="middle" style="font-family:'Liberation Sans', sans-serif;font-weight:bold;font-size:8.4px">[PRCC , p-value, Time] = [0.74864 , 2.426e-180, 100].</text>

<g style="font-family:'Liberation Sans', sans-serif;font-size:11.5px;fill:#000">
<text x="143.5" y="206.8">k<tspan font-size="9.5" dy="4.8">1</tspan></text>
<text x="456.2" y="211.2">d</text>
<text x="765.3" y="211">A</text>
<text x="1072.6" y="206.8">H<tspan font-size="9.5" dy="5.2">b</tspan></text>
<text x="142.8" y="429.5">H<tspan font-size="9.5" dy="5.2">a</tspan></text>
<text x="455.6" y="434.3" style="font-family:'Liberation Serif', serif;font-style:italic;font-size:12.2px">&#946;</text>
<text x="762" y="430.9">k<tspan font-size="9.5" dy="5.2">3</tspan></text>
<text x="1072.6" y="429.8">H<tspan font-size="9.5" dy="5.2">a</tspan></text>
<text x="142.6" y="651.8">H</text>
<path d="M150.9 650.6V655.5" stroke="#000" stroke-width="1.1"/><ellipse cx="152.7" cy="655" rx="2.3" ry="2.7" fill="#000"/>
<text x="444.4" y="650.4" style="font-family:'Liberation Serif', serif;font-style:italic">&#948;<tspan font-size="8.2" dy="4.6">2</tspan></text>
<text x="765.8" y="655.6">H</text>
<text x="1063.8" y="651.7">k<tspan font-size="9.5" dy="5.4">2</tspan></text>
</g>
<g style="font-family:'Liberation Sans', sans-serif;font-size:11px;fill:#000">
<text transform="translate(17.9 93) rotate(-90)" text-anchor="middle">I</text>
<text transform="translate(317.8 96.8) rotate(-90)" text-anchor="middle">I</text>
<text transform="translate(627.8 96.8) rotate(-90)" text-anchor="middle">I</text>
<text transform="translate(937.6 94.5) rotate(-90)" text-anchor="middle">I</text>
<text transform="translate(8 317.9) rotate(-90)" text-anchor="middle">I</text>
<text transform="translate(317.9 319.5) rotate(-90)" text-anchor="middle">I</text>
<text transform="translate(635 321) rotate(-90)" text-anchor="middle">T</text>
<text transform="translate(937.1 317.3) rotate(-90)" text-anchor="middle">T</text>
<text transform="translate(16 539.5) rotate(-90)" text-anchor="middle">T</text>
<text transform="translate(308 539.4) rotate(-90)" text-anchor="middle" style="font-family:'Liberation Serif', serif;font-size:8.5px">H</text>
<text transform="translate(634.9 544.9) rotate(-90)" text-anchor="middle">H</text>
<text transform="translate(936 537.9) rotate(-90)" text-anchor="middle">H</text>
</g>

</svg></body></html>
